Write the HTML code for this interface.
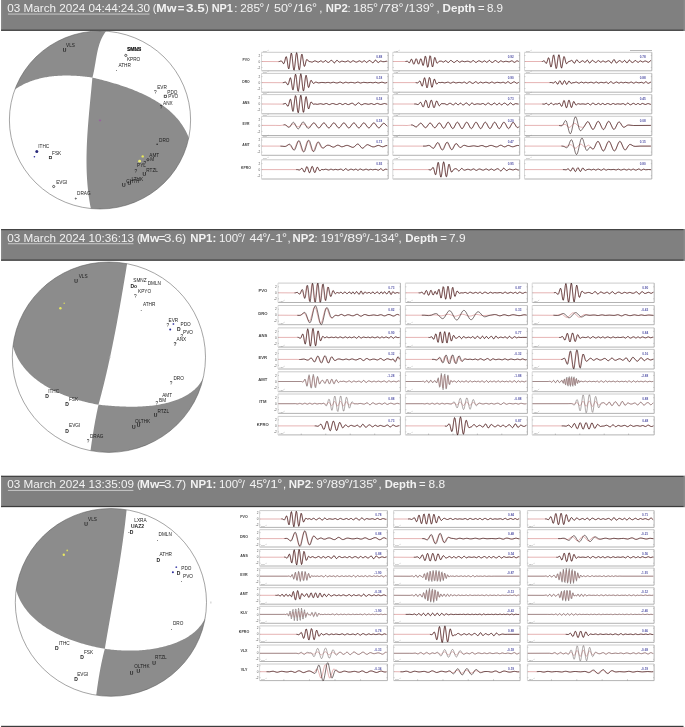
<!DOCTYPE html>
<html><head><meta charset="utf-8"><style>
html,body{margin:0;padding:0;background:#fff;width:685px;height:727px;overflow:hidden}
svg{display:block}
text{font-family:"Liberation Sans", Arial, sans-serif}
</style></head><body>
<svg width="685" height="727" viewBox="0 0 685 727">
<rect x="1.1" y="-1" width="683.9" height="31.8" fill="#808080"/>
<rect x="1.1" y="-1" width="1.3" height="31.8" fill="#8a8a8a"/>
<rect x="683.5" y="-1" width="1.5" height="31.8" fill="#8a8a8a"/>
<rect x="1.1" y="29.6" width="682.4" height="1.2" fill="#3c3c3c"/>
<text x="7.3" y="12" font-size="11.3" textLength="142.8" lengthAdjust="spacingAndGlyphs" fill="#f2f2f2">03 March 2024 04:44:24.30</text>
<text x="152.8" y="12" font-size="11.3" fill="#f2f2f2">(</text>
<text x="156.2" y="12" font-size="11.3" font-weight="bold" textLength="20.2" lengthAdjust="spacingAndGlyphs" fill="#f2f2f2">Mw</text>
<text x="177.8" y="12" font-size="11.3" font-weight="bold" fill="#f2f2f2">=</text>
<text x="186.1" y="12" font-size="11.3" font-weight="bold" textLength="18.7" lengthAdjust="spacingAndGlyphs" fill="#f2f2f2">3.5</text>
<text x="205.1" y="12" font-size="11.3" fill="#f2f2f2">)</text>
<text x="211.7" y="12" font-size="11.3" font-weight="bold" textLength="21.2" lengthAdjust="spacingAndGlyphs" fill="#f2f2f2">NP1</text>
<text x="234.3" y="12" font-size="11.3" fill="#f2f2f2">:</text>
<text x="240.3" y="12" font-size="11.3" textLength="19.7" lengthAdjust="spacingAndGlyphs" fill="#f2f2f2">285</text>
<text x="259.3" y="12" font-size="12.5" fill="#f2f2f2">°</text>
<text x="266" y="12" font-size="11.3" fill="#f2f2f2">/</text>
<text x="273.9" y="12" font-size="11.3" textLength="14.1" lengthAdjust="spacingAndGlyphs" fill="#f2f2f2">50</text>
<text x="287.4" y="12" font-size="12.5" fill="#f2f2f2">°</text>
<text x="293.8" y="12" font-size="11.3" textLength="18.7" lengthAdjust="spacingAndGlyphs" fill="#f2f2f2">/16</text>
<text x="311.9" y="12" font-size="12.5" fill="#f2f2f2">°</text>
<text x="319.3" y="12" font-size="11.3" fill="#f2f2f2">,</text>
<text x="325.8" y="12" font-size="11.3" font-weight="bold" textLength="22" lengthAdjust="spacingAndGlyphs" fill="#f2f2f2">NP2</text>
<text x="347.6" y="12" font-size="11.3" fill="#f2f2f2">:</text>
<text x="353.2" y="12" font-size="11.3" textLength="20.2" lengthAdjust="spacingAndGlyphs" fill="#f2f2f2">185</text>
<text x="372.9" y="12" font-size="12.5" fill="#f2f2f2">°</text>
<text x="379.4" y="12" font-size="11.3" textLength="19.5" lengthAdjust="spacingAndGlyphs" fill="#f2f2f2">/78</text>
<text x="398.4" y="12" font-size="12.5" fill="#f2f2f2">°</text>
<text x="405.1" y="12" font-size="11.3" textLength="24.6" lengthAdjust="spacingAndGlyphs" fill="#f2f2f2">/139</text>
<text x="429.2" y="12" font-size="12.5" fill="#f2f2f2">°</text>
<text x="436.5" y="12" font-size="11.3" fill="#f2f2f2">,</text>
<text x="442.6" y="12" font-size="11.3" font-weight="bold" textLength="32.8" lengthAdjust="spacingAndGlyphs" fill="#f2f2f2">Depth</text>
<text x="478.1" y="12" font-size="11.3" fill="#f2f2f2">=</text>
<text x="486.9" y="12" font-size="11.3" textLength="16.2" lengthAdjust="spacingAndGlyphs" fill="#f2f2f2">8.9</text>
<rect x="7.9" y="13.6" width="141.6" height="0.9" fill="#d0d0d0"/>
<rect x="1.1" y="229.1" width="683.9" height="31.6" fill="#808080"/>
<rect x="1.1" y="229.1" width="1.3" height="31.6" fill="#8a8a8a"/>
<rect x="683.5" y="229.1" width="1.5" height="31.6" fill="#8a8a8a"/>
<rect x="1.1" y="259.5" width="682.4" height="1.2" fill="#3c3c3c"/>
<rect x="1.1" y="229.1" width="682.4" height="1.1" fill="#3c3c3c"/>
<text x="7.3" y="241.9" font-size="11.3" textLength="126.7" lengthAdjust="spacingAndGlyphs" fill="#f2f2f2">03 March 2024 10:36:13</text>
<text x="136.9" y="241.9" font-size="11.3" fill="#f2f2f2">(</text>
<text x="139.8" y="241.9" font-size="11.3" font-weight="bold" textLength="19.5" lengthAdjust="spacingAndGlyphs" fill="#f2f2f2">Mw</text>
<text x="158.8" y="241.9" font-size="11.3" fill="#f2f2f2">=</text>
<text x="163.9" y="241.9" font-size="11.3" textLength="18.7" lengthAdjust="spacingAndGlyphs" fill="#f2f2f2">3.6</text>
<text x="182.2" y="241.9" font-size="11.3" fill="#f2f2f2">)</text>
<text x="190.2" y="241.9" font-size="11.3" font-weight="bold" textLength="26" lengthAdjust="spacingAndGlyphs" fill="#f2f2f2">NP1:</text>
<text x="218.9" y="241.9" font-size="11.3" textLength="19.4" lengthAdjust="spacingAndGlyphs" fill="#f2f2f2">100</text>
<text x="237.4" y="241.9" font-size="12.5" fill="#f2f2f2">°</text>
<text x="241.8" y="241.9" font-size="11.3" fill="#f2f2f2">/</text>
<text x="249.5" y="241.9" font-size="11.3" textLength="13.7" lengthAdjust="spacingAndGlyphs" fill="#f2f2f2">44</text>
<text x="262.2" y="241.9" font-size="12.5" fill="#f2f2f2">°</text>
<text x="266.3" y="241.9" font-size="11.3" textLength="16.6" lengthAdjust="spacingAndGlyphs" fill="#f2f2f2">/-1</text>
<text x="282" y="241.9" font-size="12.5" fill="#f2f2f2">°</text>
<text x="287.5" y="241.9" font-size="11.3" fill="#f2f2f2">,</text>
<text x="292.6" y="241.9" font-size="11.3" font-weight="bold" textLength="22.1" lengthAdjust="spacingAndGlyphs" fill="#f2f2f2">NP2</text>
<text x="314.5" y="241.9" font-size="11.3" fill="#f2f2f2">:</text>
<text x="320.8" y="241.9" font-size="11.3" textLength="19.4" lengthAdjust="spacingAndGlyphs" fill="#f2f2f2">191</text>
<text x="339" y="241.9" font-size="12.5" fill="#f2f2f2">°</text>
<text x="343.4" y="241.9" font-size="11.3" textLength="19.5" lengthAdjust="spacingAndGlyphs" fill="#f2f2f2">/89</text>
<text x="362" y="241.9" font-size="12.5" fill="#f2f2f2">°</text>
<text x="366.3" y="241.9" font-size="11.3" textLength="28.4" lengthAdjust="spacingAndGlyphs" fill="#f2f2f2">/-134</text>
<text x="393.9" y="241.9" font-size="12.5" fill="#f2f2f2">°</text>
<text x="398.6" y="241.9" font-size="11.3" fill="#f2f2f2">,</text>
<text x="405.2" y="241.9" font-size="11.3" font-weight="bold" textLength="32.6" lengthAdjust="spacingAndGlyphs" fill="#f2f2f2">Depth</text>
<text x="440.2" y="241.9" font-size="11.3" fill="#f2f2f2">=</text>
<text x="449" y="241.9" font-size="11.3" textLength="16.5" lengthAdjust="spacingAndGlyphs" fill="#f2f2f2">7.9</text>
<rect x="7.9" y="243.3" width="125.5" height="0.9" fill="#d0d0d0"/>
<rect x="1.1" y="475.8" width="683.9" height="31.3" fill="#808080"/>
<rect x="1.1" y="475.8" width="1.3" height="31.3" fill="#8a8a8a"/>
<rect x="683.5" y="475.8" width="1.5" height="31.3" fill="#8a8a8a"/>
<rect x="1.1" y="505.9" width="682.4" height="1.2" fill="#3c3c3c"/>
<rect x="1.1" y="475.8" width="682.4" height="1.1" fill="#3c3c3c"/>
<text x="7.3" y="488.4" font-size="11.3" textLength="126.7" lengthAdjust="spacingAndGlyphs" fill="#f2f2f2">03 March 2024 13:35:09</text>
<text x="136.9" y="488.4" font-size="11.3" fill="#f2f2f2">(</text>
<text x="139.8" y="488.4" font-size="11.3" font-weight="bold" textLength="19.5" lengthAdjust="spacingAndGlyphs" fill="#f2f2f2">Mw</text>
<text x="158.8" y="488.4" font-size="11.3" fill="#f2f2f2">=</text>
<text x="163.9" y="488.4" font-size="11.3" textLength="18.7" lengthAdjust="spacingAndGlyphs" fill="#f2f2f2">3.7</text>
<text x="182.2" y="488.4" font-size="11.3" fill="#f2f2f2">)</text>
<text x="190.2" y="488.4" font-size="11.3" font-weight="bold" textLength="26" lengthAdjust="spacingAndGlyphs" fill="#f2f2f2">NP1:</text>
<text x="218.9" y="488.4" font-size="11.3" textLength="19.4" lengthAdjust="spacingAndGlyphs" fill="#f2f2f2">100</text>
<text x="237.4" y="488.4" font-size="12.5" fill="#f2f2f2">°</text>
<text x="241.8" y="488.4" font-size="11.3" fill="#f2f2f2">/</text>
<text x="249.5" y="488.4" font-size="11.3" textLength="13.7" lengthAdjust="spacingAndGlyphs" fill="#f2f2f2">45</text>
<text x="262.2" y="488.4" font-size="12.5" fill="#f2f2f2">°</text>
<text x="266.3" y="488.4" font-size="11.3" textLength="11.5" lengthAdjust="spacingAndGlyphs" fill="#f2f2f2">/1</text>
<text x="277.3" y="488.4" font-size="12.5" fill="#f2f2f2">°</text>
<text x="283.1" y="488.4" font-size="11.3" fill="#f2f2f2">,</text>
<text x="288.8" y="488.4" font-size="11.3" font-weight="bold" textLength="22.3" lengthAdjust="spacingAndGlyphs" fill="#f2f2f2">NP2</text>
<text x="310.7" y="488.4" font-size="11.3" fill="#f2f2f2">:</text>
<text x="316.5" y="488.4" font-size="11.3" fill="#f2f2f2">9</text>
<text x="322.6" y="488.4" font-size="12.5" fill="#f2f2f2">°</text>
<text x="327" y="488.4" font-size="11.3" textLength="18.5" lengthAdjust="spacingAndGlyphs" fill="#f2f2f2">/89</text>
<text x="344.5" y="488.4" font-size="12.5" fill="#f2f2f2">°</text>
<text x="348.9" y="488.4" font-size="11.3" textLength="24.3" lengthAdjust="spacingAndGlyphs" fill="#f2f2f2">/135</text>
<text x="372.3" y="488.4" font-size="12.5" fill="#f2f2f2">°</text>
<text x="378.6" y="488.4" font-size="11.3" fill="#f2f2f2">,</text>
<text x="384.7" y="488.4" font-size="11.3" font-weight="bold" textLength="31.9" lengthAdjust="spacingAndGlyphs" fill="#f2f2f2">Depth</text>
<text x="419" y="488.4" font-size="11.3" fill="#f2f2f2">=</text>
<text x="428.5" y="488.4" font-size="11.3" textLength="16.6" lengthAdjust="spacingAndGlyphs" fill="#f2f2f2">8.8</text>
<rect x="7.9" y="489.9" width="125.5" height="0.9" fill="#d0d0d0"/>
<rect x="1.1" y="725.8" width="682.4" height="1.3" fill="#3c3c3c"/>
<clipPath id="cb0"><ellipse cx="100" cy="120" rx="90.6" ry="89.0"/></clipPath>
<ellipse cx="100" cy="120" rx="90.6" ry="89.0" fill="#fff"/>
<path d="M92.4,77.6 91.25,77.43 90.1,77.27 88.94,77.12 87.78,76.97 86.62,76.83 85.45,76.69 84.28,76.56 83.11,76.44 81.93,76.33 80.76,76.22 79.57,76.12 78.39,76.02 77.21,75.94 76.02,75.86 74.83,75.79 73.64,75.73 72.45,75.68 71.26,75.64 70.07,75.6 68.87,75.58 67.68,75.57 66.49,75.56 65.29,75.56 64.1,75.58 62.91,75.6 61.72,75.64 60.53,75.69 59.34,75.74 58.15,75.81 56.96,75.89 55.77,75.98 54.59,76.09 53.41,76.2 52.23,76.33 51.06,76.47 49.88,76.62 48.71,76.79 47.55,76.97 46.38,77.16 45.22,77.36 44.07,77.58 42.91,77.81 41.77,78.06 40.62,78.32 39.48,78.6 38.35,78.89 37.22,79.19 36.1,79.51 34.98,79.85 33.87,80.2 32.76,80.56 31.66,80.95 30.56,81.34 29.48,81.76 28.39,82.19 27.32,82.64 26.25,83.1 25.19,83.58 24.14,84.08 23.1,84.6 22.06,85.14 21.03,85.69 20.01,86.26 19,86.85 18,87.46 17.01,88.08 16.02,88.73 15.05,89.39 14.08,90.08 13.13,90.78 12.18,91.51 11.25,92.25 10.32,93.01 9.41,93.8 8.5,94.6 7.61,95.43 6.73,96.28 5.86,97.14 5,98.03 -10,98 -10,15 113,15 113,24.98 112.35,25.41 111.72,25.86 111.11,26.31 110.51,26.78 109.94,27.26 109.37,27.75 108.83,28.25 108.3,28.76 107.79,29.28 107.29,29.81 106.81,30.36 106.34,30.91 105.89,31.47 105.45,32.04 105.02,32.62 104.61,33.2 104.21,33.8 103.82,34.4 103.45,35.01 103.09,35.63 102.74,36.26 102.4,36.9 102.07,37.54 101.76,38.19 101.45,38.84 101.16,39.5 100.88,40.17 100.6,40.84 100.34,41.52 100.08,42.21 99.83,42.9 99.6,43.59 99.37,44.29 99.14,44.99 98.93,45.7 98.72,46.42 98.52,47.13 98.33,47.85 98.14,48.57 97.96,49.3 97.79,50.03 97.62,50.76 97.45,51.5 97.3,52.23 97.14,52.97 96.99,53.71 96.84,54.45 96.7,55.2 96.56,55.94 96.42,56.69 96.29,57.43 96.16,58.18 96.03,58.92 95.9,59.67 95.78,60.41 95.65,61.16 95.53,61.9 95.41,62.65 95.28,63.39 95.16,64.13 95.04,64.87 94.91,65.6 94.79,66.34 94.66,67.07 94.53,67.8 94.4,68.53 94.27,69.25 94.13,69.97 94,70.68 93.86,71.4 93.71,72.11 93.57,72.81 93.41,73.51 93.26,74.2 93.1,74.89 92.93,75.58 92.76,76.26 92.58,76.93 92.4,77.6ZM92.4,77.6 93.91,77.96 95.43,78.33 96.96,78.7 98.5,79.08 100.05,79.47 101.61,79.87 103.17,80.28 104.75,80.69 106.33,81.12 107.92,81.55 109.51,81.99 111.11,82.45 112.71,82.91 114.31,83.39 115.92,83.87 117.53,84.37 119.14,84.87 120.75,85.39 122.36,85.92 123.97,86.47 125.58,87.02 127.19,87.59 128.79,88.17 130.39,88.77 131.98,89.37 133.57,90 135.16,90.63 136.73,91.28 138.3,91.95 139.87,92.63 141.42,93.32 142.96,94.03 144.5,94.76 146.02,95.5 147.53,96.26 149.03,97.04 150.52,97.83 151.99,98.64 153.45,99.47 154.9,100.31 156.32,101.17 157.74,102.06 159.13,102.95 160.51,103.87 161.87,104.81 163.21,105.77 164.53,106.74 165.82,107.74 167.1,108.76 168.36,109.8 169.59,110.85 170.8,111.93 171.99,113.03 173.15,114.16 174.28,115.3 175.39,116.47 176.47,117.66 177.53,118.87 178.55,120.1 179.55,121.36 180.51,122.64 181.45,123.95 182.36,125.28 183.23,126.63 184.07,128.01 184.88,129.41 185.65,130.84 186.39,132.3 187.09,133.78 187.76,135.28 188.39,136.81 188.99,138.37 189.54,139.96 190.06,141.57 190.53,143.21 190.97,144.88 191.37,146.58 191.72,148.3 192.03,150.06 200,150 200,230 92.5,230 92.5,216 92.08,214.28 91.69,212.56 91.31,210.83 90.95,209.1 90.61,207.37 90.28,205.64 89.96,203.91 89.67,202.17 89.38,200.43 89.12,198.7 88.86,196.96 88.62,195.22 88.4,193.48 88.19,191.73 87.99,189.99 87.81,188.24 87.64,186.5 87.48,184.75 87.34,183 87.21,181.25 87.09,179.5 86.98,177.75 86.88,176 86.8,174.24 86.73,172.49 86.66,170.73 86.61,168.98 86.57,167.22 86.54,165.46 86.52,163.7 86.51,161.95 86.5,160.19 86.51,158.43 86.53,156.67 86.55,154.91 86.59,153.14 86.63,151.38 86.68,149.62 86.73,147.86 86.8,146.1 86.87,144.33 86.95,142.57 87.03,140.81 87.12,139.05 87.22,137.28 87.32,135.52 87.43,133.76 87.55,131.99 87.67,130.23 87.79,128.47 87.92,126.71 88.05,124.95 88.19,123.18 88.33,121.42 88.48,119.66 88.63,117.9 88.78,116.14 88.93,114.38 89.09,112.62 89.25,110.86 89.41,109.1 89.58,107.35 89.74,105.59 89.91,103.83 90.08,102.08 90.24,100.32 90.41,98.57 90.58,96.81 90.75,95.06 90.92,93.31 91.09,91.56 91.26,89.81 91.43,88.06 91.59,86.32 91.76,84.57 91.92,82.83 92.08,81.08 92.24,79.34 92.4,77.6Z" fill="#8c8c8c" clip-path="url(#cb0)"/>
<ellipse cx="100" cy="120" rx="90.6" ry="89.0" fill="none" stroke="#5a5a5a" stroke-width="0.55"/>
<clipPath id="cb1"><ellipse cx="108.9" cy="357.2" rx="96.6" ry="95.2"/></clipPath>
<ellipse cx="108.9" cy="357.2" rx="96.6" ry="95.2" fill="#fff"/>
<path d="M98.5,404.7 97.08,404.44 95.65,404.18 94.22,403.9 92.78,403.61 91.34,403.3 89.89,402.98 88.43,402.65 86.98,402.31 85.51,401.95 84.05,401.58 82.58,401.19 81.11,400.8 79.64,400.38 78.17,399.96 76.7,399.52 75.23,399.06 73.76,398.59 72.29,398.11 70.83,397.61 69.37,397.1 67.91,396.57 66.46,396.03 65.01,395.47 63.57,394.89 62.13,394.3 60.7,393.7 59.28,393.08 57.87,392.44 56.46,391.79 55.07,391.12 53.68,390.44 52.31,389.74 50.94,389.02 49.59,388.29 48.25,387.54 46.93,386.77 45.61,385.98 44.32,385.18 43.03,384.36 41.77,383.53 40.51,382.67 39.28,381.8 38.06,380.91 36.86,380 35.68,379.08 34.52,378.14 33.38,377.17 32.26,376.19 31.16,375.19 30.08,374.18 29.02,373.14 27.99,372.09 26.98,371.01 25.99,369.92 25.03,368.81 24.09,367.67 23.18,366.52 22.3,365.35 21.44,364.16 20.62,362.95 19.82,361.71 19.05,360.46 18.31,359.19 17.59,357.9 16.91,356.58 16.27,355.25 15.65,353.89 15.07,352.52 14.52,351.12 14,349.7 13.52,348.26 13.07,346.8 12.66,345.32 12.29,343.81 11.95,342.29 11.65,340.74 11.39,339.17 11.17,337.57 10.98,335.96 0,336 0,250 129,250 129.01,252 128.69,253.95 128.38,255.89 128.06,257.83 127.74,259.78 127.42,261.72 127.11,263.67 126.79,265.61 126.47,267.56 126.15,269.5 125.83,271.45 125.51,273.39 125.18,275.34 124.86,277.29 124.54,279.23 124.21,281.18 123.89,283.12 123.56,285.07 123.23,287.01 122.9,288.96 122.57,290.9 122.24,292.85 121.91,294.79 121.57,296.74 121.24,298.68 120.9,300.63 120.56,302.57 120.22,304.52 119.88,306.46 119.53,308.4 119.18,310.35 118.84,312.29 118.48,314.23 118.13,316.17 117.78,318.11 117.42,320.06 117.06,322 116.7,323.94 116.33,325.88 115.97,327.82 115.6,329.75 115.23,331.69 114.85,333.63 114.47,335.57 114.09,337.5 113.71,339.44 113.32,341.37 112.93,343.31 112.54,345.24 112.15,347.17 111.75,349.11 111.35,351.04 110.94,352.97 110.53,354.9 110.12,356.83 109.7,358.75 109.28,360.68 108.86,362.61 108.44,364.53 108.01,366.45 107.57,368.38 107.13,370.3 106.69,372.22 106.24,374.14 105.79,376.06 105.34,377.98 104.88,379.89 104.42,381.81 103.95,383.72 103.48,385.64 103,387.55 102.52,389.46 102.04,391.37 101.55,393.28 101.05,395.19 100.55,397.09 100.05,399 99.54,400.9 99.02,402.8 98.5,404.7ZM98.51,404.7 99.98,404.85 101.46,405 102.96,405.14 104.48,405.29 106,405.42 107.54,405.56 109.1,405.69 110.66,405.81 112.24,405.93 113.82,406.04 115.42,406.15 117.02,406.24 118.64,406.33 120.26,406.41 121.89,406.49 123.52,406.55 125.17,406.6 126.81,406.64 128.46,406.67 130.12,406.69 131.78,406.7 133.44,406.69 135.1,406.68 136.77,406.64 138.44,406.59 140.1,406.53 141.77,406.45 143.44,406.36 145.1,406.25 146.76,406.12 148.42,405.98 150.08,405.81 151.73,405.63 153.38,405.43 155.02,405.21 156.65,404.97 158.28,404.71 159.9,404.42 161.52,404.12 163.12,403.79 164.72,403.44 166.31,403.07 167.88,402.67 169.45,402.24 171,401.8 172.54,401.32 174.07,400.82 175.58,400.29 177.08,399.74 178.57,399.16 180.03,398.54 181.48,397.9 182.9,397.23 184.3,396.52 185.67,395.79 187.02,395.01 188.34,394.21 189.63,393.37 190.88,392.49 192.1,391.57 193.29,390.62 194.44,389.63 195.55,388.6 196.62,387.53 197.64,386.41 198.63,385.26 199.56,384.06 200.45,382.82 201.29,381.53 202.08,380.19 202.81,378.81 203.49,377.39 204.12,375.91 204.68,374.38 205.19,372.81 205.63,371.18 206.01,369.5 206.33,367.77 206.58,365.99 215,366 215,465 89,465 89,462 89.09,461.27 89.19,460.54 89.28,459.81 89.37,459.08 89.47,458.35 89.56,457.62 89.66,456.89 89.75,456.17 89.85,455.44 89.95,454.71 90.04,453.98 90.14,453.25 90.24,452.52 90.34,451.79 90.44,451.06 90.54,450.33 90.64,449.6 90.74,448.88 90.84,448.15 90.94,447.42 91.04,446.69 91.15,445.96 91.25,445.23 91.36,444.51 91.46,443.78 91.57,443.05 91.67,442.32 91.78,441.6 91.89,440.87 92,440.14 92.11,439.41 92.22,438.69 92.33,437.96 92.44,437.23 92.55,436.51 92.67,435.78 92.78,435.05 92.9,434.33 93.01,433.6 93.13,432.87 93.25,432.15 93.36,431.42 93.48,430.7 93.6,429.97 93.73,429.25 93.85,428.52 93.97,427.8 94.1,427.07 94.22,426.35 94.35,425.62 94.47,424.9 94.6,424.17 94.73,423.45 94.86,422.73 94.99,422 95.13,421.28 95.26,420.56 95.39,419.83 95.53,419.11 95.67,418.39 95.81,417.66 95.94,416.94 96.08,416.22 96.23,415.5 96.37,414.78 96.51,414.06 96.66,413.33 96.8,412.61 96.95,411.89 97.1,411.17 97.25,410.45 97.4,409.73 97.56,409.01 97.71,408.29 97.86,407.57 98.02,406.86 98.18,406.14 98.34,405.42 98.5,404.7Z" fill="#8c8c8c" clip-path="url(#cb1)"/>
<ellipse cx="108.9" cy="357.2" rx="96.6" ry="95.2" fill="none" stroke="#5a5a5a" stroke-width="0.55"/>
<clipPath id="cb2"><ellipse cx="110.9" cy="602.4" rx="95.6" ry="93.9"/></clipPath>
<ellipse cx="110.9" cy="602.4" rx="95.6" ry="93.9" fill="#fff"/>
<path d="M104.79,648.8 103.39,648.55 101.98,648.29 100.57,648.02 99.14,647.74 97.71,647.45 96.27,647.14 94.82,646.83 93.37,646.5 91.92,646.16 90.46,645.8 89,645.44 87.53,645.06 86.07,644.67 84.6,644.27 83.13,643.85 81.66,643.42 80.19,642.98 78.72,642.52 77.25,642.05 75.78,641.57 74.32,641.07 72.86,640.56 71.4,640.03 69.95,639.49 68.5,638.93 67.06,638.36 65.63,637.78 64.2,637.18 62.78,636.56 61.36,635.93 59.96,635.28 58.57,634.62 57.18,633.94 55.8,633.25 54.44,632.54 53.09,631.81 51.75,631.07 50.42,630.31 49.11,629.53 47.81,628.74 46.52,627.93 45.25,627.1 44,626.26 42.76,625.4 41.54,624.52 40.33,623.62 39.15,622.7 37.98,621.77 36.83,620.82 35.71,619.85 34.6,618.86 33.52,617.85 32.45,616.82 31.41,615.78 30.39,614.71 29.4,613.63 28.43,612.52 27.49,611.4 26.57,610.26 25.67,609.09 24.8,607.91 23.96,606.71 23.15,605.48 22.37,604.24 21.61,602.97 20.89,601.69 20.2,600.38 19.53,599.05 18.9,597.7 18.3,596.33 17.73,594.93 17.2,593.52 16.7,592.08 16.23,590.62 15.8,589.14 15.4,587.64 15.05,586.11 14.72,584.56 14.44,582.99 0,583 0,500 127.5,500 127.48,500 127.32,501.9 127.15,503.8 126.97,505.69 126.8,507.59 126.61,509.49 126.42,511.38 126.23,513.28 126.03,515.18 125.82,517.07 125.61,518.96 125.4,520.86 125.18,522.75 124.95,524.64 124.72,526.53 124.49,528.42 124.25,530.31 124.01,532.2 123.76,534.09 123.51,535.98 123.26,537.87 123,539.76 122.74,541.65 122.47,543.53 122.2,545.42 121.93,547.31 121.65,549.19 121.38,551.08 121.09,552.96 120.81,554.85 120.52,556.73 120.23,558.62 119.93,560.5 119.64,562.38 119.34,564.26 119.03,566.15 118.73,568.03 118.42,569.91 118.12,571.79 117.8,573.67 117.49,575.55 117.18,577.43 116.86,579.31 116.54,581.2 116.22,583.07 115.9,584.95 115.58,586.83 115.26,588.71 114.93,590.59 114.6,592.47 114.28,594.35 113.95,596.23 113.62,598.11 113.29,599.98 112.96,601.86 112.63,603.74 112.3,605.62 111.97,607.5 111.64,609.37 111.3,611.25 110.97,613.13 110.64,615.01 110.31,616.88 109.98,618.76 109.65,620.64 109.32,622.52 108.99,624.39 108.66,626.27 108.33,628.15 108,630.02 107.68,631.9 107.35,633.78 107.03,635.66 106.71,637.53 106.38,639.41 106.07,641.29 105.75,643.17 105.43,645.04 105.12,646.92 104.8,648.8ZM104.8,648.8 106.19,649 107.58,649.18 108.98,649.36 110.39,649.53 111.82,649.68 113.25,649.82 114.68,649.96 116.13,650.08 117.58,650.19 119.04,650.29 120.51,650.37 121.98,650.45 123.46,650.51 124.95,650.56 126.43,650.59 127.93,650.61 129.42,650.62 130.92,650.62 132.43,650.6 133.93,650.56 135.44,650.52 136.95,650.45 138.46,650.38 139.97,650.29 141.49,650.18 143,650.05 144.51,649.92 146.02,649.76 147.53,649.59 149.04,649.4 150.55,649.2 152.05,648.98 153.55,648.74 155.04,648.48 156.54,648.21 158.02,647.92 159.51,647.61 160.99,647.28 162.46,646.93 163.92,646.57 165.38,646.18 166.84,645.78 168.28,645.36 169.72,644.91 171.15,644.45 172.57,643.97 173.98,643.46 175.38,642.94 176.76,642.39 178.14,641.82 179.5,641.23 180.84,640.62 182.17,639.98 183.48,639.31 184.77,638.63 186.05,637.91 187.3,637.17 188.53,636.4 189.73,635.61 190.91,634.78 192.07,633.93 193.19,633.05 194.29,632.14 195.36,631.2 196.4,630.22 197.41,629.22 198.39,628.19 199.33,627.12 200.24,626.02 201.11,624.88 201.94,623.71 202.74,622.51 203.49,621.27 204.21,619.99 204.88,618.68 205.51,617.33 206.09,615.94 206.63,614.52 207.13,613.05 215,613 215,705 95,705 95,705 95.09,704.28 95.17,703.57 95.26,702.85 95.35,702.13 95.44,701.41 95.53,700.7 95.62,699.98 95.71,699.26 95.8,698.55 95.89,697.83 95.98,697.11 96.07,696.4 96.16,695.68 96.26,694.96 96.35,694.24 96.45,693.53 96.54,692.81 96.64,692.1 96.73,691.38 96.83,690.66 96.93,689.95 97.03,689.23 97.13,688.52 97.23,687.8 97.33,687.08 97.44,686.37 97.54,685.65 97.64,684.94 97.75,684.22 97.86,683.51 97.96,682.79 98.07,682.08 98.18,681.36 98.29,680.65 98.41,679.94 98.52,679.22 98.63,678.51 98.75,677.8 98.87,677.08 98.98,676.37 99.1,675.66 99.22,674.94 99.35,674.23 99.47,673.52 99.59,672.81 99.72,672.1 99.85,671.39 99.98,670.68 100.11,669.96 100.24,669.25 100.37,668.54 100.51,667.83 100.64,667.12 100.78,666.42 100.92,665.71 101.06,665 101.2,664.29 101.35,663.58 101.49,662.87 101.64,662.17 101.79,661.46 101.94,660.75 102.09,660.05 102.25,659.34 102.41,658.64 102.56,657.93 102.72,657.23 102.89,656.52 103.05,655.82 103.22,655.11 103.38,654.41 103.55,653.71 103.73,653.01 103.9,652.3 104.08,651.6 104.25,650.9 104.43,650.2 104.62,649.5 104.8,648.8Z" fill="#8c8c8c" clip-path="url(#cb2)"/>
<ellipse cx="110.9" cy="602.4" rx="95.6" ry="93.9" fill="none" stroke="#5a5a5a" stroke-width="0.55"/>
<text x="66" y="46.9" font-size="4.7" fill="#1c1c1c">VLS</text>
<text x="62.8" y="51.9" font-size="5" font-weight="bold" fill="#222">U</text>
<text x="126.9" y="51.4" font-size="5" font-weight="bold" fill="#222">SMNS</text>
<text x="127.5" y="50.6" font-size="4.7" fill="#1c1c1c">DMLN</text>
<circle cx="125.8" cy="55.4" r="1.1" fill="none" stroke="#222" stroke-width="0.7"/>
<text x="126.9" y="60.6" font-size="4.7" fill="#1c1c1c">KPRO</text>
<text x="118.4" y="67.2" font-size="4.7" fill="#1c1c1c">ATHR</text>
<text x="115.8" y="71" font-size="5" font-weight="bold" fill="#222">.</text>
<text x="157.2" y="89.1" font-size="4.7" fill="#1c1c1c">EVR</text>
<text x="154" y="93.6" font-size="4.7" fill="#1c1c1c">?</text>
<text x="167.3" y="93.7" font-size="4.7" fill="#1c1c1c">PDO</text>
<rect x="164.2" y="95.2" width="2.2" height="2.2" fill="none" stroke="#222" stroke-width="0.7"/>
<text x="168.3" y="98.1" font-size="4.7" fill="#1c1c1c">PVO</text>
<text x="163.1" y="105.3" font-size="4.7" fill="#1c1c1c">ANX</text>
<text x="159.8" y="109.4" font-size="4.7" fill="#1c1c1c">?</text>
<text x="159" y="141.8" font-size="4.7" fill="#1c1c1c">DRO</text>
<text x="156.2" y="146" font-size="5" font-weight="bold" fill="#222">•</text>
<text x="149.3" y="157.1" font-size="4.7" fill="#1c1c1c">AMT</text>
<circle cx="147.9" cy="159.7" r="1.1" fill="none" stroke="#222" stroke-width="0.7"/>
<text x="150.2" y="161.2" font-size="4.7" fill="#1c1c1c">M</text>
<text x="143.4" y="164.6" font-size="4.7" fill="#1c1c1c">?</text>
<text x="137" y="167.3" font-size="4.7" fill="#1c1c1c">PYL</text>
<text x="134.6" y="172.5" font-size="4.7" fill="#1c1c1c">?</text>
<text x="146.3" y="171.9" font-size="4.7" fill="#1c1c1c">RTZL</text>
<text x="142.4" y="175.6" font-size="5" font-weight="bold" fill="#222">U</text>
<text x="131.5" y="180.6" font-size="4.7" fill="#1c1c1c">LTHK</text>
<text x="126.3" y="182.6" font-size="4.7" fill="#1c1c1c">CHTH</text>
<text x="127.6" y="184.8" font-size="5" font-weight="bold" fill="#222">U</text>
<text x="122" y="187.3" font-size="5" font-weight="bold" fill="#222">U</text>
<text x="38.3" y="148.3" font-size="4.7" fill="#1c1c1c">ITHC</text>
<text x="52.1" y="154.9" font-size="4.7" fill="#1c1c1c">FSK</text>
<rect x="49.3" y="156.5" width="2.2" height="2.2" fill="none" stroke="#222" stroke-width="0.7"/>
<text x="56.2" y="183.5" font-size="4.7" fill="#1c1c1c">EVGI</text>
<circle cx="53.7" cy="186.5" r="1.1" fill="none" stroke="#222" stroke-width="0.7"/>
<text x="77.1" y="194.8" font-size="4.7" fill="#1c1c1c">DRAG</text>
<text x="74.4" y="199.6" font-size="4.7" fill="#1c1c1c">+</text>
<text x="78.7" y="278.3" font-size="4.7" fill="#1c1c1c">VLS</text>
<text x="74.2" y="283" font-size="5" font-weight="bold" fill="#222">U</text>
<text x="133.3" y="281.5" font-size="4.7" fill="#1c1c1c">SMNZ</text>
<text x="147.7" y="285.4" font-size="4.7" fill="#1c1c1c">DMLN</text>
<text x="130.4" y="288.2" font-size="5" font-weight="bold" fill="#222">Do</text>
<text x="138" y="292.5" font-size="4.7" fill="#1c1c1c">KPYO</text>
<text x="133.9" y="297.8" font-size="4.7" fill="#1c1c1c">?</text>
<text x="142.9" y="306.3" font-size="4.7" fill="#1c1c1c">ATHR</text>
<text x="140.6" y="310.6" font-size="5" font-weight="bold" fill="#222">.</text>
<text x="168.6" y="322.3" font-size="4.7" fill="#1c1c1c">EVR</text>
<text x="166.6" y="327.3" font-size="4.7" fill="#1c1c1c">?</text>
<text x="180.5" y="325.5" font-size="4.7" fill="#1c1c1c">PDO</text>
<text x="177" y="330.6" font-size="5" font-weight="bold" fill="#222">D</text>
<text x="183" y="333.6" font-size="4.7" fill="#1c1c1c">PVO</text>
<text x="180.4" y="337.6" font-size="4.7" fill="#1c1c1c">?</text>
<text x="176.6" y="340.6" font-size="4.7" fill="#1c1c1c">ANX</text>
<text x="173.4" y="346" font-size="5" font-weight="bold" fill="#222">?</text>
<text x="173.4" y="379.5" font-size="4.7" fill="#1c1c1c">DRO</text>
<text x="169.8" y="384.5" font-size="4.7" fill="#1c1c1c">?</text>
<text x="162.2" y="396.8" font-size="4.7" fill="#1c1c1c">AMT</text>
<text x="159" y="401.7" font-size="4.7" fill="#1c1c1c">BM</text>
<text x="155.4" y="405.4" font-size="4.7" fill="#1c1c1c">?</text>
<text x="157.4" y="413.2" font-size="4.7" fill="#1c1c1c">RTZL</text>
<text x="153.8" y="417.3" font-size="5" font-weight="bold" fill="#222">U</text>
<text x="134.9" y="422.5" font-size="4.7" fill="#1c1c1c">OLTHK</text>
<text x="136.8" y="426.9" font-size="5" font-weight="bold" fill="#222">U</text>
<text x="132" y="429.1" font-size="5" font-weight="bold" fill="#222">U</text>
<text x="48.2" y="393" font-size="4.7" fill="#1c1c1c">ITHC</text>
<text x="45.3" y="398" font-size="5" font-weight="bold" fill="#222">D</text>
<text x="69" y="401" font-size="4.7" fill="#1c1c1c">FSK</text>
<text x="65.2" y="406" font-size="5" font-weight="bold" fill="#222">D</text>
<text x="69" y="427.3" font-size="4.7" fill="#1c1c1c">EVGI</text>
<text x="65.2" y="432.7" font-size="5" font-weight="bold" fill="#222">D</text>
<text x="89.9" y="437.9" font-size="4.7" fill="#1c1c1c">DRAG</text>
<text x="86.7" y="443" font-size="4.7" fill="#1c1c1c">?</text>
<text x="88" y="521" font-size="4.7" fill="#1c1c1c">VLS</text>
<text x="84.3" y="526.2" font-size="5" font-weight="bold" fill="#222">U</text>
<text x="134.3" y="522.3" font-size="4.7" fill="#1c1c1c">LXRA</text>
<text x="131" y="528.4" font-size="5" font-weight="bold" fill="#222">UAZ2</text>
<text x="128" y="533.6" font-size="5" font-weight="bold" fill="#222">-D</text>
<text x="158.5" y="536.1" font-size="4.7" fill="#1c1c1c">DMLN</text>
<text x="156.7" y="541" font-size="5" font-weight="bold" fill="#222">.</text>
<text x="159.5" y="556.2" font-size="4.7" fill="#1c1c1c">ATHR</text>
<text x="156.5" y="561.5" font-size="5" font-weight="bold" fill="#222">D</text>
<text x="181.3" y="570.3" font-size="4.7" fill="#1c1c1c">PDO</text>
<text x="176.7" y="574.9" font-size="5" font-weight="bold" fill="#222">D</text>
<text x="183" y="578.1" font-size="4.7" fill="#1c1c1c">PVO</text>
<text x="180.8" y="582" font-size="5" font-weight="bold" fill="#222">.</text>
<text x="172.9" y="625.1" font-size="4.7" fill="#1c1c1c">DRO</text>
<text x="170.8" y="629.7" font-size="5" font-weight="bold" fill="#222">.</text>
<text x="58.8" y="645.2" font-size="4.7" fill="#1c1c1c">ITHC</text>
<text x="55.1" y="650.1" font-size="5" font-weight="bold" fill="#222">D</text>
<text x="84" y="654.3" font-size="4.7" fill="#1c1c1c">FSK</text>
<text x="80.3" y="658.9" font-size="5" font-weight="bold" fill="#222">D</text>
<text x="77.2" y="676.1" font-size="4.7" fill="#1c1c1c">EVGI</text>
<text x="74.3" y="681.4" font-size="5" font-weight="bold" fill="#222">D</text>
<text x="155.1" y="659.3" font-size="4.7" fill="#1c1c1c">RTZL</text>
<text x="152.2" y="664.6" font-size="5" font-weight="bold" fill="#222">U</text>
<text x="134.3" y="667.7" font-size="4.7" fill="#1c1c1c">OLTHK</text>
<text x="136.4" y="673" font-size="5" font-weight="bold" fill="#222">U</text>
<text x="129.7" y="674.6" font-size="5" font-weight="bold" fill="#222">U</text>
<circle cx="36.8" cy="151.4" r="1.5" fill="#2a2a7a"/>
<circle cx="34.4" cy="156.7" r="0.8" fill="#2a2a9a"/>
<circle cx="142.7" cy="156.4" r="1.2" fill="#e8e85a"/>
<circle cx="139.6" cy="161.2" r="1.4" fill="#f0f070"/>
<circle cx="60.4" cy="308.3" r="1.2" fill="#e8e860"/>
<circle cx="64.2" cy="303.2" r="0.8" fill="#d8d860"/>
<circle cx="170.2" cy="329.5" r="1" fill="#2a2a9a"/>
<circle cx="173.4" cy="324" r="0.9" fill="#5050b0"/>
<circle cx="63.8" cy="554.7" r="1.2" fill="#e8e860"/>
<circle cx="67.2" cy="550.4" r="0.9" fill="#d8d860"/>
<circle cx="172.9" cy="572.2" r="1" fill="#2a2a9a"/>
<circle cx="176.3" cy="567.2" r="0.9" fill="#5050b0"/>
<rect x="210.5" y="601.5" width="0.8" height="2" fill="#bbb"/>
<rect x="630" y="50" width="22" height="0.7" fill="#999"/>
<path d="M98.9,120.4h2.2M100,119.3v2.2" stroke="#a050a8" stroke-width="0.6"/>
<path d="M108.9,357.2h2M109.9,356.2v2" stroke="#b8b8b8" stroke-width="0.5"/>
<text x="246" y="61.32" font-size="3.4" font-weight="bold" fill="#444" text-anchor="middle">PVO</text>
<path d="M261.5,52.3H388.2" stroke="#b4b4b4" stroke-width="0.7"/>
<path d="M388.2,52.3V70.8M261.5,70.8H388.2" fill="none" stroke="#a0a0a0" stroke-width="0.8"/>
<path d="M261.5,52.3V70.8" stroke="#d8d8d8" stroke-width="1"/>
<path d="M261.5,55.5h1M261.5,61.5h1M261.5,67.5h1M388.2,55.5h-1M388.2,67.5h-1" stroke="#999" stroke-width="0.45"/>
<text x="260.3" y="56.6" font-size="3.1" fill="#555" text-anchor="end">2</text>
<text x="260.3" y="62.6" font-size="3.1" fill="#555" text-anchor="end">0</text>
<text x="260.3" y="68.6" font-size="3.1" fill="#555" text-anchor="end">-2</text>
<text x="263" y="51.9" font-size="2.4" fill="#888">x10⁻⁷</text>
<polyline points="262,61.5 278.8,61.6 279.4,61.5 280.6,61.1 281.2,61.0 281.8,61.3 283,63.1 283.6,63.6 284.2,62.8 285.4,58.2 286,56.8 286.6,57.8 287.2,61.1 287.8,65.4 288.4,68.3 289,67.9 289.6,64.2 290.2,58.8 290.8,54.4 291.4,53.4 292,56.4 293.2,67.4 293.8,70.0 294.4,68.5 295.6,57.6 296.2,53.6 296.8,53.4 297.4,57.1 298.6,68.0 299.2,69.8 299.8,67.5 301,57.2 301.6,54.4 302.2,55.2 303.4,63.2 304,66.0 304.6,66.1 305.2,64.2 305.8,61.6 306.4,59.8 307,59.5 307.6,60.1 308.2,61.0 308.8,61.5 309.4,61.6 310.6,61.7 311.8,62.0 312.4,62.0 314.2,61.1 314.8,61.0 315.4,61.1 316,61.2 317.8,62.0 318.4,62.0 319,61.8 320.2,61.1 320.8,60.9 321.4,61.1 322.6,62.0 323.2,62.1 323.8,61.9 325,60.8 325.6,60.7 326.2,61.0 327.4,62.1 328,62.4 328.6,62.3 329.2,62.0 330.4,60.9 331,60.6 331.6,60.5 332.2,60.7 334,62.7 334.6,62.7 335.2,62.2 336.4,60.7 337,60.4 337.6,60.7 338.8,61.8 339.4,62.1 340,62.0 341.2,61.4 341.8,61.2 342.4,61.2 344.8,61.8 345.4,61.8 346,61.7 347.2,61.1 347.8,61.0 348.4,61.1 349.6,61.9 350.2,62.1 350.8,62.1 352.6,61.0 353.2,60.9 353.8,61.0 355.6,61.9 356.2,62.0 356.8,62.0 357.4,61.8 359.2,61.0 359.8,61.0 361.6,62.0 362.2,62.1 364,60.9 364.6,60.9 365.8,61.9 366.4,62.3 367,62.3 368.8,60.8 369.4,60.6 370,60.7 370.6,61.1 371.8,62.1 372.4,62.5 373,62.6 373.6,62.2 374.8,60.7 375.4,60.3 376,60.4 377.2,61.8 377.8,62.3 378.4,62.4 380.2,61.1 380.8,61.0 382.6,61.6 383.2,61.7 384.4,61.6 386.2,61.3 387.4,61.4" fill="none" stroke="#c85858" stroke-width="0.45"/>
<polyline points="278.6,61.6 279.8,61.4 281,60.9 281.6,61.0 282.2,61.7 283.4,63.7 284,63.6 284.6,62.0 285.8,57.0 286.4,56.6 287,58.9 288.2,67.4 288.8,69.0 289.4,66.9 290.6,56.2 291.2,53.0 291.8,53.9 292.4,58.6 293,64.8 293.6,69.5 294.2,70.3 294.8,66.8 296,55.1 296.6,52.5 297.2,54.3 298.4,65.7 299,69.7 299.6,69.6 300.2,65.7 300.8,59.9 301.4,55.3 302,54.1 302.6,56.4 303.8,64.8 304.4,66.5 305,65.5 306.2,60.7 306.8,59.5 307.4,59.7 308.6,61.2 309.2,61.5 310.4,61.7 311.6,62.1 312.2,62.1 312.8,61.9 314,61.2 314.6,60.9 315.2,60.9 315.8,61.1 317.6,62.0 318.2,62.1 318.8,62.0 320,61.2 320.6,60.9 321.2,60.9 322.4,61.9 323,62.2 323.6,62.1 324.8,60.9 325.4,60.6 326,60.7 327.2,62.0 327.8,62.5 328.4,62.5 329,62.2 330.8,60.5 331.4,60.3 332,60.4 332.6,61.0 333.8,62.7 334.4,63.0 335,62.6 336.2,60.8 336.8,60.3 337.4,60.4 338.6,61.7 339.2,62.1 339.8,62.2 341.6,61.2 342.2,61.2 342.8,61.3 344.6,61.8 345.2,61.8 345.8,61.8 347.6,60.9 348.2,60.9 348.8,61.3 350,62.2 350.6,62.3 351.2,62.0 352.4,61.0 353,60.8 353.6,60.8 355.4,61.9 356,62.1 356.6,62.1 357.2,61.9 359,60.9 359.6,60.8 360.2,61.1 361.4,62.0 362,62.2 362.6,61.9 363.8,60.9 364.4,60.7 365,61.1 366.2,62.3 366.8,62.5 367.4,62.1 368.6,60.8 369.2,60.5 369.8,60.5 370.4,60.8 372.2,62.6 372.8,62.8 373.4,62.6 375.2,60.1 375.8,60.1 376.4,60.6 377.6,62.3 378.2,62.6 378.8,62.3 380,61.2 380.6,61.0 381.2,61.1 382.4,61.6 383,61.7 384.2,61.7 386,61.3 386.6,61.2 387.2,61.4" fill="none" stroke="#200a0a" stroke-width="0.58"/>
<text x="382.2" y="57.9" font-size="3.1" font-weight="bold" fill="#5656a8" text-anchor="end">0.88</text>
<path d="M392.8,52.3H519.7" stroke="#b4b4b4" stroke-width="0.7"/>
<path d="M519.7,52.3V70.8M392.8,70.8H519.7" fill="none" stroke="#a0a0a0" stroke-width="0.8"/>
<path d="M392.8,52.3V70.8" stroke="#d8d8d8" stroke-width="1"/>
<path d="M392.8,55.5h1M392.8,61.5h1M392.8,67.5h1M519.7,55.5h-1M519.7,67.5h-1" stroke="#999" stroke-width="0.45"/>
<text x="394.3" y="51.9" font-size="2.4" fill="#888">x10⁻⁷</text>
<polyline points="393.3,61.5 405.3,61.5 407.1,61.3 407.7,61.5 408.9,62.6 409.5,62.5 410.1,61.5 410.7,60.0 411.3,59.2 411.9,59.8 413.1,63.4 413.7,64.1 414.3,63.4 415.5,59.6 416.1,58.8 416.7,59.6 417.9,63.4 418.5,64.1 419.1,63.1 420.3,59.2 420.9,58.9 421.5,60.4 422.1,63.1 422.7,65.1 423.3,65.0 423.9,62.5 424.5,58.8 425.1,56.4 425.7,57.0 426.3,60.4 426.9,64.6 427.5,67.1 428.1,66.2 429.3,58.3 429.9,55.9 430.5,56.8 431.7,64.6 432.3,66.8 432.9,65.8 434.1,59.0 434.7,57.5 435.3,58.6 435.9,60.9 436.5,62.8 437.1,63.3 437.7,62.7 438.3,61.9 438.9,61.4 439.5,61.2 441.3,61.2 443.1,62.0 443.7,61.9 445.5,60.8 446.1,60.9 447.3,62.0 447.9,62.4 448.5,62.4 450.3,60.7 450.9,60.5 451.5,60.8 453.3,62.1 453.9,62.3 454.5,62.3 455.1,62.0 456.3,60.9 456.9,60.6 457.5,60.7 458.7,61.7 459.3,62.1 459.9,62.1 461.7,61.2 462.3,61.1 464.1,61.7 464.7,61.7 466.5,61.4 467.7,61.2 468.9,61.5 470.1,62.0 470.7,62.0 471.3,61.8 472.5,61.0 473.1,60.7 473.7,60.8 475.5,62.2 476.1,62.3 476.7,62.0 477.9,61.2 478.5,61.0 479.1,60.9 479.7,61.1 481.5,61.9 482.1,62.1 482.7,61.9 483.9,61.1 484.5,60.9 485.1,61.1 486.3,62.1 486.9,62.3 487.5,62.0 488.7,60.7 489.3,60.5 489.9,60.7 491.1,61.9 491.7,62.3 492.3,62.4 492.9,62.2 494.7,60.9 495.3,60.6 495.9,60.7 496.5,61.1 497.7,62.2 498.3,62.3 498.9,62.1 500.1,61.2 500.7,60.9 501.3,61.0 502.5,61.6 503.1,61.8 503.7,61.8 505.5,61.3 506.7,61.4 508.5,61.8 509.1,61.8 509.7,61.7 511.5,60.9 512.1,60.9 512.7,61.3 513.9,62.1 514.5,62.2 515.1,62.0 516.3,61.2 516.9,60.9 517.5,61.0 518.7,61.5" fill="none" stroke="#c85858" stroke-width="0.45"/>
<polyline points="405.4,61.5 407.2,61.2 407.8,61.5 409,62.7 409.6,62.7 410.2,61.6 410.8,60.1 411.4,59.1 412,59.5 413.2,63.3 413.8,64.3 414.4,63.6 415.6,59.7 416.2,58.7 416.8,59.4 418,63.4 418.6,64.2 419.2,63.3 420.4,59.2 421,58.7 421.6,60.2 422.8,65.3 423.4,65.4 424,62.9 424.6,59.0 425.2,56.2 425.8,56.5 426.4,59.9 427,64.4 427.6,67.3 428.2,66.7 428.8,63.1 429.4,58.6 430,55.7 430.6,56.3 431.2,59.9 431.8,64.4 432.4,67.0 433,66.3 434.2,59.1 434.8,57.4 435.4,58.3 436.6,62.7 437.2,63.3 437.8,62.8 438.4,62.0 439,61.4 439.6,61.2 440.8,61.1 441.4,61.1 443.2,62.1 443.8,62.0 445,61.0 445.6,60.7 446.2,60.8 447.4,62.2 448,62.6 448.6,62.5 449.8,61.1 450.4,60.5 451,60.4 451.6,60.7 453.4,62.3 454,62.5 454.6,62.4 455.2,62.0 456.4,60.8 457,60.5 457.6,60.6 458.8,61.8 459.4,62.2 460,62.2 461.8,61.1 462.4,61.1 464.2,61.7 464.8,61.8 466.6,61.3 467.8,61.2 468.4,61.3 470.2,62.1 470.8,62.1 471.4,61.9 472.6,60.8 473.2,60.6 473.8,60.7 475,61.9 475.6,62.4 476.2,62.4 476.8,62.1 478,61.1 478.6,60.8 479.2,60.8 479.8,61.0 481.6,62.0 482.2,62.2 482.8,61.9 484,61.0 484.6,60.8 485.2,61.1 486.4,62.3 487,62.4 487.6,62.0 488.8,60.6 489.4,60.3 490,60.7 491.2,62.0 491.8,62.5 492.4,62.5 493,62.2 494.8,60.7 495.4,60.5 496,60.6 496.6,61.1 497.8,62.3 498.4,62.5 499,62.2 500.2,61.1 500.8,60.8 501.4,61.0 502.6,61.7 503.2,61.9 503.8,61.8 505,61.4 505.6,61.3 506.2,61.3 508.6,61.8 509.2,61.9 509.8,61.7 511.6,60.8 512.2,60.9 512.8,61.3 514,62.3 514.6,62.4 515.2,62.1 516.4,61.1 517,60.8 517.6,60.9 518.8,61.5" fill="none" stroke="#200a0a" stroke-width="0.58"/>
<text x="513.7" y="57.9" font-size="3.1" font-weight="bold" fill="#5656a8" text-anchor="end">0.92</text>
<path d="M524.5,52.3H651.8" stroke="#b4b4b4" stroke-width="0.7"/>
<path d="M651.8,52.3V70.8M524.5,70.8H651.8" fill="none" stroke="#a0a0a0" stroke-width="0.8"/>
<path d="M524.5,52.3V70.8" stroke="#d8d8d8" stroke-width="1"/>
<path d="M524.5,55.5h1M524.5,61.5h1M524.5,67.5h1M651.8,55.5h-1M651.8,67.5h-1" stroke="#999" stroke-width="0.45"/>
<text x="526" y="51.9" font-size="2.4" fill="#888">x10⁻⁷</text>
<polyline points="525,61.5 541.8,61.5 542.4,61.5 543.6,60.9 544.2,60.9 544.8,61.6 545.4,62.7 546,63.4 546.6,62.9 547.2,61.2 547.8,59.1 548.4,57.9 549,58.7 550.2,64.9 550.8,66.8 551.4,66.0 552,62.7 552.6,58.6 553.2,55.6 553.8,55.4 554.4,58.3 555.6,66.9 556.2,68.3 556.8,66.4 558,57.5 558.6,54.9 559.2,55.5 559.8,59.0 560.4,63.7 561,67.1 561.6,67.8 562.2,65.4 563.4,57.9 564,56.6 564.6,57.8 565.8,62.7 566.4,63.7 567,63.5 568.2,61.7 568.8,61.4 570,61.3 571.2,60.7 571.8,60.5 572.4,60.8 573.6,62.6 574.2,63.1 574.8,62.8 576,60.7 576.6,60.1 577.2,60.2 578.4,61.6 579,62.2 579.6,62.4 580.2,62.2 582,61.0 582.6,60.9 583.2,61.0 584.4,62.1 585,62.3 585.6,62.0 586.8,60.5 587.4,60.3 588,60.8 589.2,62.6 589.8,62.8 590.4,62.4 591.6,60.9 592.2,60.5 592.8,60.5 593.4,60.9 594.6,61.9 595.2,62.2 595.8,62.3 596.4,62.1 597.6,61.1 598.2,60.7 598.8,60.8 600,61.8 600.6,62.1 601.2,62.0 602.4,61.2 603,61.0 603.6,61.2 604.8,61.8 605.4,62.0 606,61.9 607.8,61.0 608.4,60.8 609,60.8 609.6,61.2 610.8,62.6 611.4,62.9 612,62.5 613.2,60.5 613.8,59.8 614.4,60.0 615.6,62.0 616.2,62.8 616.8,62.8 617.4,62.3 618.6,61.0 619.2,60.7 619.8,60.8 620.4,61.0 621.6,61.9 622.2,62.2 622.8,62.0 624,60.9 624.6,60.6 625.2,60.9 626.4,62.5 627,62.7 627.6,62.3 628.8,60.6 629.4,60.2 630,60.5 631.2,61.8 631.8,62.3 632.4,62.4 633,62.2 634.8,60.9 635.4,60.7 636,60.8 637.2,61.8 637.8,62.2 638.4,62.2 639.6,61.3 640.2,61.0 640.8,61.0 642,61.7 642.6,61.9 643.2,61.8 644.4,61.2 645,61.1 645.6,61.1 646.2,61.3 648,62.2 648.6,62.2 649.2,61.9 650.4,60.8 651,60.6" fill="none" stroke="#c85858" stroke-width="0.45"/>
<polyline points="541.8,61.5 542.4,61.5 543,61.3 543.6,60.9 544.2,60.8 544.8,61.4 545.4,62.6 546,63.5 546.6,63.2 547.2,61.6 547.8,59.3 548.4,57.7 549,58.1 549.6,60.8 550.2,64.5 550.8,67.0 551.4,66.7 552,63.6 552.6,59.3 553.2,55.7 553.8,54.8 554.4,57.3 555.6,66.5 556.2,68.6 556.8,67.3 558,58.2 558.6,54.9 559.2,54.8 559.8,57.9 561,66.9 561.6,68.2 562.2,66.3 563.4,58.4 564,56.5 564.6,57.3 565.8,62.3 566.4,63.7 567,63.6 568.2,61.9 568.8,61.5 570,61.3 571.2,60.5 571.8,60.3 572.4,60.7 573.6,62.8 574.2,63.4 574.8,63.0 576,60.6 576.6,59.8 577.2,59.9 578.4,61.7 579,62.4 579.6,62.5 580.2,62.3 582,60.9 582.6,60.7 583.2,61.0 584.4,62.2 585,62.5 585.6,62.1 586.8,60.3 587.4,60.1 588,60.7 589.2,62.8 589.8,63.1 590.4,62.6 591.6,60.8 592.2,60.3 592.8,60.4 593.4,60.8 594.6,62.0 595.2,62.4 595.8,62.5 596.4,62.2 597.6,61.0 598.2,60.6 598.8,60.7 600,61.8 600.6,62.2 601.2,62.1 602.4,61.2 603,61.0 603.6,61.1 604.8,61.9 605.4,62.1 606,62.0 607.8,60.9 608.4,60.7 609,60.7 609.6,61.2 610.8,62.8 611.4,63.1 612,62.7 613.2,60.3 613.8,59.5 614.4,59.7 615.6,62.1 616.2,63.0 616.8,63.1 617.4,62.5 618.6,60.9 619.2,60.6 619.8,60.6 620.4,60.9 621.6,62.0 622.2,62.3 622.8,62.1 624,60.8 624.6,60.4 625.2,60.8 626.4,62.6 627,63.0 627.6,62.5 628.8,60.4 629.4,60.0 630,60.3 631.2,61.9 631.8,62.4 632.4,62.6 633,62.4 634.8,60.8 635.4,60.5 636,60.7 637.2,61.9 637.8,62.3 638.4,62.3 639.6,61.3 640.2,60.9 640.8,60.9 642,61.8 642.6,62.0 643.2,61.9 644.4,61.2 645,61.0 645.6,61.0 646.2,61.2 648,62.3 648.6,62.3 649.2,62.0 650.4,60.7 651,60.5" fill="none" stroke="#200a0a" stroke-width="0.58"/>
<text x="645.8" y="57.9" font-size="3.1" font-weight="bold" fill="#5656a8" text-anchor="end">0.78</text>
<text x="246" y="82.52" font-size="3.4" font-weight="bold" fill="#444" text-anchor="middle">DRO</text>
<path d="M261.5,73.4H388.2" stroke="#b4b4b4" stroke-width="0.7"/>
<path d="M388.2,73.4V92.2M261.5,92.2H388.2" fill="none" stroke="#a0a0a0" stroke-width="0.8"/>
<path d="M261.5,73.4V92.2" stroke="#d8d8d8" stroke-width="1"/>
<path d="M261.5,76.6h1M261.5,82.6h1M261.5,88.6h1M388.2,76.6h-1M388.2,88.6h-1" stroke="#999" stroke-width="0.45"/>
<text x="260.3" y="77.7" font-size="3.1" fill="#555" text-anchor="end">2</text>
<text x="260.3" y="83.7" font-size="3.1" fill="#555" text-anchor="end">0</text>
<text x="260.3" y="89.7" font-size="3.1" fill="#555" text-anchor="end">-2</text>
<text x="263" y="73" font-size="2.4" fill="#888">x10⁻⁷</text>
<polyline points="262,82.6 283,82.7 283.6,82.6 284.8,82.2 285.4,82.1 286,82.5 287.2,84.3 287.8,84.7 288.4,83.8 289.6,79.3 290.2,77.9 290.8,79.0 291.4,82.4 292,86.6 292.6,89.4 293.2,88.9 293.8,85.1 294.4,79.7 295,75.4 295.6,74.5 296.2,77.6 297.4,88.7 298,91.1 298.6,89.4 299.8,78.5 300.4,74.6 301,74.6 301.6,78.4 302.8,89.2 303.4,90.9 304,88.5 305.2,78.2 305.8,75.5 306.4,76.4 307.6,84.4 308.2,87.2 308.8,87.2 309.4,85.1 310,82.4 310.6,80.6 311.2,80.4 311.8,81.3 312.4,82.5 313,83.2 313.6,83.4 315.4,82.3 316,82.2 318.4,82.8 319,82.8 322,82.5 325.6,82.7 328,82.4 330.4,82.9 331,82.8 332.8,82.3 333.4,82.3 334,82.3 335.8,82.8 337,82.9 337.6,82.9 340,82.1 340.6,82.2 342.4,82.9 343,83.1 343.6,83.0 345.4,82.3 346,82.3 347.8,82.8 348.4,82.8 350.8,82.4 351.4,82.4 352.6,82.5 354.4,82.9 355,82.9 355.6,82.8 357.4,82.2 358,82.2 359.8,82.8 360.4,83.0 361,83.0 363.4,82.4 367,82.7 370.6,82.5 372.4,82.8 373,82.8 375.4,82.3 376,82.4 377.8,82.9 378.4,82.9 379,82.9 380.8,82.4 382,82.3 382.6,82.3 384.4,82.9 385,83.0 385.6,82.9 387.4,82.4" fill="none" stroke="#c85858" stroke-width="0.45"/>
<polyline points="282.8,82.7 284,82.5 285.2,82.0 285.8,82.1 286.4,82.8 287.6,84.8 288.2,84.7 288.8,83.1 290,78.1 290.6,77.7 291.2,80.0 292.4,88.5 293,90.1 293.6,88.0 294.8,77.3 295.4,74.1 296,75.0 296.6,79.7 297.2,85.9 297.8,90.6 298.4,91.4 299,87.9 300.2,76.2 300.8,73.6 301.4,75.4 302.6,86.8 303.2,90.8 303.8,90.7 304.4,86.7 305,81.0 305.6,76.4 306.2,75.2 306.8,77.6 308,86.0 308.6,87.6 309.2,86.6 310.4,81.5 311,80.3 311.6,80.7 312.8,82.9 313.4,83.4 314,83.2 315.2,82.3 315.8,82.1 316.4,82.2 318.2,82.9 318.8,82.9 321.8,82.4 323,82.5 325.4,82.8 327.8,82.4 328.4,82.4 330.2,82.9 330.8,82.9 333.2,82.2 333.8,82.3 335.6,82.8 336.8,83.0 338,82.8 339.8,82.1 340.4,82.1 341,82.2 342.2,82.9 342.8,83.1 343.4,83.1 345.2,82.3 345.8,82.2 346.4,82.3 347.6,82.7 348.2,82.9 348.8,82.8 350.6,82.4 351.2,82.4 352.4,82.5 354.2,82.9 354.8,83.0 355.4,82.9 357.2,82.2 357.8,82.1 358.4,82.2 360.2,83.0 360.8,83.0 362.6,82.5 363.8,82.3 367.4,82.8 370.4,82.4 372.8,82.8 373.4,82.8 375.2,82.3 375.8,82.3 377.6,82.9 378.2,83.0 378.8,83.0 381.2,82.3 381.8,82.2 383,82.4 384.8,83.0 385.4,83.0 387.2,82.4" fill="none" stroke="#200a0a" stroke-width="0.58"/>
<text x="382.2" y="79" font-size="3.1" font-weight="bold" fill="#5656a8" text-anchor="end">0.18</text>
<path d="M392.8,73.4H519.7" stroke="#b4b4b4" stroke-width="0.7"/>
<path d="M519.7,73.4V92.2M392.8,92.2H519.7" fill="none" stroke="#a0a0a0" stroke-width="0.8"/>
<path d="M392.8,73.4V92.2" stroke="#d8d8d8" stroke-width="1"/>
<path d="M392.8,76.6h1M392.8,82.6h1M392.8,88.6h1M519.7,76.6h-1M519.7,88.6h-1" stroke="#999" stroke-width="0.45"/>
<text x="394.3" y="73" font-size="2.4" fill="#888">x10⁻⁷</text>
<polyline points="393.3,82.6 415.5,82.6 417.3,82.9 417.9,82.8 418.5,82.3 419.1,81.6 419.7,81.1 420.3,81.6 421.5,85.1 422.1,86.0 422.7,84.9 423.9,79.2 424.5,77.9 425.1,79.2 426.3,86.0 426.9,87.6 427.5,86.5 428.7,79.7 429.3,77.7 429.9,78.3 431.1,84.9 431.7,87.1 432.3,86.8 432.9,84.3 433.5,81.2 434.1,79.3 434.7,79.5 435.9,83.2 436.5,84.1 437.1,83.9 437.7,83.1 438.3,82.5 438.9,82.4 440.1,82.7 441.9,82.4 442.5,82.4 444.3,82.9 444.9,82.9 447.3,82.3 447.9,82.2 448.5,82.3 450.3,83.1 450.9,83.1 451.5,82.9 452.7,82.3 453.3,82.2 453.9,82.2 455.7,82.9 456.3,82.9 458.1,82.5 459.3,82.4 459.9,82.5 461.7,82.8 462.3,82.8 464.1,82.2 464.7,82.2 466.5,83.3 467.1,83.3 467.7,82.9 468.9,82.0 469.5,81.8 470.1,82.0 471.9,83.1 472.5,83.3 473.1,83.3 473.7,83.0 474.9,82.2 475.5,81.9 476.1,81.9 477.9,83.1 478.5,83.2 480.3,82.2 480.9,82.2 482.7,82.9 483.3,82.9 485.1,82.4 486.3,82.3 486.9,82.4 488.7,83.0 489.3,83.0 489.9,82.9 491.1,82.3 491.7,82.1 492.3,82.2 494.1,83.0 494.7,83.0 497.1,82.4 497.7,82.4 500.7,82.8 503.1,82.3 503.7,82.4 504.9,83.0 505.5,83.1 506.1,83.0 507.3,82.1 507.9,81.9 508.5,82.0 510.3,83.2 510.9,83.3 511.5,83.1 513.3,82.1 513.9,82.0 514.5,82.0 515.1,82.3 516.3,83.0 516.9,83.2 517.5,83.0 518.7,82.4" fill="none" stroke="#c85858" stroke-width="0.45"/>
<polyline points="415.6,82.6 417.4,82.9 418,82.8 418.6,82.3 419.2,81.4 419.8,80.9 420.4,81.5 421.6,85.4 422.2,86.3 422.8,85.0 424,78.9 424.6,77.6 425.2,79.1 426.4,86.2 427,87.9 427.6,86.7 428.8,79.5 429.4,77.4 430,78.1 431.2,85.1 431.8,87.4 432.4,87.0 433.6,81.1 434.2,79.2 434.8,79.4 436,83.2 436.6,84.1 437.2,83.8 437.8,83.0 438.4,82.5 439,82.4 440.2,82.7 442,82.3 444.4,82.9 445,82.9 447.4,82.2 448,82.1 448.6,82.3 449.8,83.0 450.4,83.2 451,83.1 452.8,82.2 453.4,82.1 454,82.2 455.2,82.8 455.8,82.9 456.4,82.9 458.2,82.5 459.4,82.4 461.8,82.9 462.4,82.8 463.6,82.2 464.2,82.1 464.8,82.2 466,83.1 466.6,83.4 467.2,83.3 469,81.8 469.6,81.7 470.2,81.9 472,83.2 472.6,83.4 473.2,83.3 473.8,83.0 475,82.0 475.6,81.7 476.2,81.8 477.4,82.9 478,83.3 478.6,83.3 479.8,82.4 480.4,82.1 481,82.2 482.2,82.8 482.8,83.0 483.4,82.9 485.2,82.3 485.8,82.2 487,82.4 488.8,83.1 489.4,83.1 490,82.9 491.2,82.2 491.8,82.0 492.4,82.1 493.6,82.8 494.2,83.1 494.8,83.1 496.6,82.4 497.2,82.3 497.8,82.3 500.2,82.8 500.8,82.8 501.4,82.7 502.6,82.3 503.2,82.3 503.8,82.4 505,83.1 505.6,83.2 506.2,82.9 507.4,81.9 508,81.7 508.6,82.0 509.8,83.0 510.4,83.4 511,83.4 511.6,83.2 513.4,82.0 514,81.8 514.6,81.9 516.4,83.2 517,83.3 517.6,83.0 518.8,82.3" fill="none" stroke="#200a0a" stroke-width="0.58"/>
<text x="513.7" y="79" font-size="3.1" font-weight="bold" fill="#5656a8" text-anchor="end">0.90</text>
<path d="M524.5,73.4H651.8" stroke="#b4b4b4" stroke-width="0.7"/>
<path d="M651.8,73.4V92.2M524.5,92.2H651.8" fill="none" stroke="#a0a0a0" stroke-width="0.8"/>
<path d="M524.5,73.4V92.2" stroke="#d8d8d8" stroke-width="1"/>
<path d="M524.5,76.6h1M524.5,82.6h1M524.5,88.6h1M651.8,76.6h-1M651.8,88.6h-1" stroke="#999" stroke-width="0.45"/>
<text x="526" y="73" font-size="2.4" fill="#888">x10⁻⁷</text>
<polyline points="525,82.6 549,82.6 550.8,82.5 551.4,82.6 553.2,83.0 553.8,82.8 555,81.8 555.6,81.7 556.2,82.4 556.8,83.4 557.4,84.1 558,83.8 559.2,81.3 559.8,80.8 560.4,81.4 561.6,84.1 562.2,84.5 562.8,83.6 563.4,82.1 564,80.9 564.6,80.8 565.2,81.8 565.8,83.3 566.4,84.3 567,84.2 568.2,81.8 568.8,81.1 569.4,81.4 570.6,83.1 571.2,83.4 572.4,82.7 573,82.6 574.2,82.7 576,82.1 576.6,82.2 578.4,83.0 579,83.1 579.6,82.9 580.8,82.3 581.4,82.2 582,82.3 583.2,82.8 583.8,82.9 585.6,82.3 586.2,82.4 587.4,82.8 588,82.9 588.6,82.8 590.4,82.4 591,82.3 591.6,82.4 593.4,83.0 594,83.0 594.6,82.8 595.8,82.2 596.4,82.1 598.2,83.0 598.8,83.0 600.6,82.4 601.2,82.4 603.6,82.8 604.2,82.8 606,82.2 606.6,82.2 607.8,83.1 608.4,83.3 609,83.1 610.2,82.0 610.8,81.8 611.4,82.0 612.6,82.9 613.2,83.2 613.8,83.2 616.2,82.1 616.8,82.1 618.6,83.0 619.2,83.0 620.4,82.5 621,82.3 621.6,82.4 622.8,82.8 623.4,82.8 625.2,82.4 625.8,82.4 628.2,82.9 628.8,82.9 629.4,82.8 630.6,82.3 631.2,82.1 631.8,82.2 633,82.9 633.6,83.1 634.2,83.0 635.4,82.4 636,82.2 636.6,82.3 638.4,82.8 639.6,82.7 641.4,82.3 642,82.5 643.2,83.0 643.8,83.1 644.4,82.8 645.6,81.9 646.2,82.0 647.4,82.9 648,83.2 648.6,83.2 649.8,82.6 650.4,82.3 651,82.3" fill="none" stroke="#c85858" stroke-width="0.45"/>
<polyline points="549.6,82.6 551.4,82.5 553.2,83.0 553.8,82.9 555,81.8 555.6,81.6 556.2,82.2 557.4,84.1 558,84.1 558.6,83.0 559.2,81.5 559.8,80.7 560.4,81.1 561.6,83.9 562.2,84.6 562.8,84.0 564,81.1 564.6,80.6 565.2,81.4 566.4,84.2 567,84.4 567.6,83.5 568.2,82.1 568.8,81.1 569.4,81.2 570.6,83.0 571.2,83.4 573,82.7 574.2,82.7 575.4,82.2 576,82.1 576.6,82.1 578.4,83.1 579,83.2 579.6,83.0 580.8,82.3 581.4,82.1 582,82.2 583.2,82.9 583.8,83.0 585.6,82.3 586.2,82.3 587.4,82.8 588,82.9 588.6,82.8 590.4,82.3 591,82.3 591.6,82.3 593.4,83.0 594,83.1 594.6,82.8 595.8,82.1 596.4,82.0 597,82.3 598.2,83.0 598.8,83.1 600.6,82.4 601.2,82.3 603.6,82.8 604.2,82.8 606,82.1 606.6,82.2 607.8,83.2 608.4,83.5 609,83.2 610.2,81.9 610.8,81.7 611.4,81.9 612.6,83.0 613.2,83.3 613.8,83.3 614.4,83.0 615.6,82.3 616.2,82.0 616.8,82.0 618.6,83.0 619.2,83.1 620.4,82.4 621,82.2 621.6,82.3 622.8,82.8 623.4,82.9 625.2,82.3 625.8,82.3 628.2,82.9 628.8,82.9 629.4,82.8 630.6,82.2 631.2,82.1 631.8,82.2 633,83.0 633.6,83.2 634.2,83.1 635.4,82.3 636,82.1 636.6,82.2 637.8,82.7 638.4,82.8 639,82.9 641.4,82.3 642,82.4 643.2,83.1 643.8,83.2 644.4,82.8 645.6,81.8 646.2,81.8 647.4,82.9 648,83.3 648.6,83.3 650.4,82.3 651,82.2" fill="none" stroke="#200a0a" stroke-width="0.58"/>
<text x="645.8" y="79" font-size="3.1" font-weight="bold" fill="#5656a8" text-anchor="end">0.88</text>
<text x="246" y="104.02" font-size="3.4" font-weight="bold" fill="#444" text-anchor="middle">ANS</text>
<path d="M261.5,94.6H388.2" stroke="#b4b4b4" stroke-width="0.7"/>
<path d="M388.2,94.6V113.8M261.5,113.8H388.2" fill="none" stroke="#a0a0a0" stroke-width="0.8"/>
<path d="M261.5,94.6V113.8" stroke="#d8d8d8" stroke-width="1"/>
<path d="M261.5,98h1M261.5,104h1M261.5,110h1M388.2,98h-1M388.2,110h-1" stroke="#999" stroke-width="0.45"/>
<text x="260.3" y="99.1" font-size="3.1" fill="#555" text-anchor="end">2</text>
<text x="260.3" y="105.1" font-size="3.1" fill="#555" text-anchor="end">0</text>
<text x="260.3" y="111.1" font-size="3.1" fill="#555" text-anchor="end">-2</text>
<text x="263" y="94.2" font-size="2.4" fill="#888">x10⁻⁷</text>
<polyline points="262,104.0 283,104.1 283.6,104.0 284.8,103.6 285.4,103.5 286,103.9 287.2,105.7 287.8,106.1 288.4,105.2 289.6,100.7 290.2,99.3 290.8,100.4 291.4,103.8 292,108.0 292.6,110.8 293.2,110.3 293.8,106.5 294.4,101.1 295,96.8 295.6,95.9 296.2,99.0 297.4,110.1 298,112.5 298.6,110.8 299.8,99.9 300.4,96.0 301,96.0 301.6,99.8 302.8,110.6 303.4,112.3 304,109.9 305.2,99.6 305.8,96.9 306.4,97.8 307.6,105.8 308.2,108.5 308.8,108.6 309.4,106.6 310,104.1 310.6,102.3 311.2,101.9 311.8,102.6 312.4,103.6 313,104.2 313.6,104.3 314.8,104.0 315.4,104.0 317.2,104.3 319.6,103.9 320.8,103.8 323.2,104.3 323.8,104.3 325.6,103.6 326.2,103.5 326.8,103.6 328.6,104.4 329.2,104.5 329.8,104.5 331.6,103.7 332.2,103.6 332.8,103.6 333.4,103.6 335.8,104.4 336.4,104.5 337,104.4 337.6,104.3 339.4,103.5 340,103.5 340.6,103.6 341.8,104.3 342.4,104.5 343,104.5 344.8,103.6 345.4,103.5 346,103.7 347.8,104.5 348.4,104.5 349,104.4 350.8,103.6 352,103.3 352.6,103.4 353.2,103.7 354.4,104.6 355,105.0 355.6,105.0 356.2,104.7 357.4,103.5 358,103.1 358.6,102.9 359.2,103.2 360.4,104.2 361,104.6 361.6,104.7 362.2,104.6 364,103.8 365.2,103.7 368.2,104.2 369.4,104.1 371.2,103.7 371.8,103.7 373.6,104.4 374.2,104.5 374.8,104.4 376.6,103.6 377.2,103.5 377.8,103.6 379.6,104.2 380.8,104.4 382,104.2 383.8,103.7 384.4,103.6 385,103.6 386.8,104.2 387.4,104.3" fill="none" stroke="#c85858" stroke-width="0.45"/>
<polyline points="282.8,104.1 284,103.9 285.2,103.4 285.8,103.5 286.4,104.2 287.6,106.2 288.2,106.1 288.8,104.5 290,99.5 290.6,99.1 291.2,101.4 292.4,109.9 293,111.5 293.6,109.4 294.8,98.7 295.4,95.5 296,96.4 296.6,101.1 297.2,107.3 297.8,112.0 298.4,112.8 299,109.3 300.2,97.6 300.8,95.0 301.4,96.8 302.6,108.2 303.2,112.2 303.8,112.1 304.4,108.1 305,102.4 305.6,97.8 306.2,96.5 306.8,98.9 308,107.3 308.6,109.0 309.2,108.1 310.4,103.2 311,102.0 311.6,102.2 312.8,103.8 313.4,104.2 315.2,104.0 317,104.3 317.6,104.3 319.4,103.9 320.6,103.7 321.2,103.8 323,104.3 323.6,104.4 324.2,104.2 326,103.5 326.6,103.5 327.2,103.7 328.4,104.4 329,104.6 329.6,104.6 330.2,104.4 331.4,103.8 332,103.6 332.6,103.5 333.8,103.7 335.6,104.4 336.2,104.5 336.8,104.5 337.4,104.4 339.2,103.5 339.8,103.4 340.4,103.5 342.2,104.5 342.8,104.6 343.4,104.4 344.6,103.6 345.2,103.5 345.8,103.5 347.6,104.5 348.2,104.6 348.8,104.5 351.2,103.4 351.8,103.2 352.4,103.2 353,103.5 354.8,105.0 355.4,105.2 356,105.0 357.8,103.0 358.4,102.7 359,102.9 360.8,104.6 361.4,104.8 362,104.8 363.8,103.9 364.4,103.7 365,103.6 366.2,103.8 368,104.3 368.6,104.3 369.2,104.2 371,103.6 371.6,103.6 372.2,103.8 373.4,104.4 374,104.6 374.6,104.5 376.4,103.6 377,103.4 377.6,103.4 379.4,104.2 380.6,104.5 381.8,104.3 383.6,103.7 384.2,103.5 384.8,103.5 385.4,103.7 387.2,104.3" fill="none" stroke="#200a0a" stroke-width="0.58"/>
<text x="382.2" y="100.2" font-size="3.1" font-weight="bold" fill="#5656a8" text-anchor="end">0.18</text>
<path d="M392.8,94.6H519.7" stroke="#b4b4b4" stroke-width="0.7"/>
<path d="M519.7,94.6V113.8M392.8,113.8H519.7" fill="none" stroke="#a0a0a0" stroke-width="0.8"/>
<path d="M392.8,94.6V113.8" stroke="#d8d8d8" stroke-width="1"/>
<path d="M392.8,98h1M392.8,104h1M392.8,110h1M519.7,98h-1M519.7,110h-1" stroke="#999" stroke-width="0.45"/>
<text x="394.3" y="94.2" font-size="2.4" fill="#888">x10⁻⁷</text>
<polyline points="393.3,104.0 413.1,104.0 415.5,103.9 416.1,104.0 417.3,104.4 417.9,104.5 418.5,104.3 419.1,103.7 419.7,102.9 420.3,102.4 420.9,102.6 421.5,103.7 422.1,105.4 422.7,106.6 423.3,106.8 423.9,105.6 425.1,101.3 425.7,100.4 426.3,101.1 427.5,105.7 428.1,107.4 428.7,107.7 429.3,106.2 430.5,101.4 431.1,100.2 431.7,100.8 432.3,102.7 432.9,105.3 433.5,107.2 434.1,107.6 434.7,106.4 435.9,102.1 436.5,101.0 437.1,101.4 438.3,104.5 438.9,105.6 439.5,105.7 440.1,105.1 440.7,104.2 441.3,103.7 441.9,103.5 443.1,103.8 444.9,103.8 446.7,104.6 447.3,104.6 447.9,104.4 449.1,103.6 449.7,103.4 450.3,103.4 450.9,103.6 452.7,104.6 453.3,104.8 453.9,104.5 455.1,103.5 455.7,103.2 456.3,103.4 457.5,104.5 458.1,104.7 458.7,104.5 459.9,103.4 460.5,103.2 461.1,103.4 462.3,104.5 462.9,104.8 463.5,104.8 464.1,104.5 465.9,103.2 466.5,103.1 467.1,103.3 468.9,105.0 469.5,105.1 470.1,104.7 471.3,103.4 471.9,103.1 472.5,103.3 473.7,104.2 474.3,104.4 474.9,104.4 476.7,103.9 477.3,103.8 480.3,104.2 480.9,104.2 482.7,103.5 483.3,103.6 485.1,104.7 485.7,104.7 486.3,104.4 487.5,103.4 488.1,103.2 488.7,103.3 490.5,104.5 491.1,104.7 491.7,104.7 492.3,104.5 494.1,103.2 494.7,103.2 495.3,103.5 496.5,104.7 497.1,104.8 497.7,104.4 498.9,103.4 499.5,103.3 501.3,104.7 501.9,104.8 502.5,104.4 503.7,103.4 504.3,103.2 504.9,103.3 505.5,103.5 507.3,104.9 507.9,105.0 508.5,104.7 509.7,103.4 510.3,103.0 510.9,103.1 512.7,104.6 513.3,104.7 515.1,103.8 515.7,103.7 518.7,104.1" fill="none" stroke="#c85858" stroke-width="0.45"/>
<polyline points="414.2,104.0 416,104.0 417.8,104.6 418.4,104.5 419,103.9 420.2,102.3 420.8,102.3 421.4,103.2 422.6,106.5 423.2,107.1 423.8,106.3 425,101.8 425.6,100.3 426.2,100.5 426.8,102.3 428,107.2 428.6,108.0 429.2,107.0 430.4,102.0 431,100.3 431.6,100.2 432.2,101.9 433.4,106.8 434,107.8 434.6,107.1 435.8,102.6 436.4,101.1 437,101.1 437.6,102.3 438.2,104.0 438.8,105.3 439.4,105.8 440,105.3 441.2,103.8 441.8,103.6 443,103.7 444.8,103.7 446.6,104.7 447.2,104.7 447.8,104.5 449,103.5 449.6,103.3 450.2,103.2 450.8,103.5 452.6,104.7 453.2,104.9 453.8,104.7 455,103.5 455.6,103.1 456.2,103.2 457.4,104.5 458,104.9 458.6,104.7 459.8,103.4 460.4,103.1 461,103.3 462.2,104.5 462.8,104.9 463.4,104.9 464,104.6 465.8,103.1 466.4,102.9 467,103.1 468.8,105.1 469.4,105.3 470,104.9 471.2,103.4 471.8,103.0 472.4,103.1 473.6,104.2 474.2,104.5 474.8,104.5 476.6,103.9 477.2,103.8 478.4,103.9 480.2,104.3 480.8,104.2 482.6,103.5 483.2,103.5 483.8,103.8 485,104.8 485.6,104.9 486.2,104.5 487.4,103.4 488,103.1 488.6,103.1 490.4,104.5 491,104.8 491.6,104.8 492.2,104.6 494,103.1 494.6,103.0 495.2,103.4 496.4,104.7 497,104.9 497.6,104.6 498.8,103.3 499.4,103.2 500,103.6 501.2,104.8 501.8,104.9 502.4,104.5 503.6,103.4 504.2,103.1 504.8,103.1 505.4,103.4 507.2,105.0 507.8,105.1 508.4,104.9 509.6,103.4 510.2,102.9 510.8,102.9 512.6,104.7 513.2,104.8 513.8,104.6 515,103.8 515.6,103.6 518.6,104.1" fill="none" stroke="#200a0a" stroke-width="0.58"/>
<text x="513.7" y="100.2" font-size="3.1" font-weight="bold" fill="#5656a8" text-anchor="end">0.73</text>
<path d="M524.5,94.6H651.8" stroke="#b4b4b4" stroke-width="0.7"/>
<path d="M651.8,94.6V113.8M524.5,113.8H651.8" fill="none" stroke="#a0a0a0" stroke-width="0.8"/>
<path d="M524.5,94.6V113.8" stroke="#d8d8d8" stroke-width="1"/>
<path d="M524.5,98h1M524.5,104h1M524.5,110h1M651.8,98h-1M651.8,110h-1" stroke="#999" stroke-width="0.45"/>
<text x="526" y="94.2" font-size="2.4" fill="#888">x10⁻⁷</text>
<polyline points="525,104.0 542.4,104.0 544.2,104.1 544.8,104.0 546,103.4 546.6,103.4 547.2,103.9 547.8,104.5 548.4,104.9 549,104.8 550.2,103.6 550.8,103.1 551.4,103.1 552.6,104.3 553.2,104.7 553.8,104.6 555,103.9 555.6,103.8 556.8,104.1 557.4,104.1 558,103.9 559.2,103.2 559.8,103.5 560.4,104.5 561,105.7 561.6,106.3 562.2,105.5 563.4,101.4 564,100.5 564.6,101.6 565.8,106.7 566.4,107.8 567,106.8 568.2,101.6 568.8,100.2 569.4,100.9 570.6,105.9 571.2,107.5 571.8,107.0 573,102.7 573.6,101.5 574.2,101.9 575.4,104.5 576,105.0 576.6,104.8 577.2,104.2 577.8,103.8 578.4,103.7 580.2,104.1 582.6,103.9 583.2,103.9 585.6,104.3 586.2,104.2 587.4,103.6 588,103.4 588.6,103.6 589.8,104.6 590.4,104.8 591,104.6 592.2,103.5 592.8,103.3 593.4,103.4 595.2,104.4 595.8,104.6 596.4,104.5 598.2,103.5 598.8,103.5 600,104.3 600.6,104.5 601.2,104.3 602.4,103.5 603,103.5 604.2,104.3 604.8,104.5 605.4,104.5 607.2,103.6 607.8,103.6 608.4,103.6 610.2,104.4 610.8,104.5 611.4,104.3 612.6,103.7 613.2,103.5 613.8,103.7 615,104.2 615.6,104.3 617.4,103.9 618,103.8 620.4,104.2 621.6,104.0 622.8,103.7 623.4,103.7 625.2,104.7 625.8,104.6 627,103.6 627.6,103.2 628.2,103.3 629.4,104.2 630,104.6 630.6,104.7 631.2,104.5 633,103.5 633.6,103.4 634.2,103.6 635.4,104.4 636,104.5 636.6,104.3 637.2,103.8 637.8,103.5 638.4,103.6 639.6,104.4 640.2,104.5 640.8,104.3 642,103.6 642.6,103.5 645,104.4 645.6,104.4 646.2,104.3 647.4,103.8 648,103.6 648.6,103.7 649.8,104.1 650.4,104.3 651,104.2" fill="none" stroke="#c85858" stroke-width="0.45"/>
<polyline points="542.3,104.0 544.1,104.2 544.7,104.1 545.9,103.4 546.5,103.3 547.1,103.6 548.3,104.9 548.9,105.0 549.5,104.5 550.7,103.2 551.3,103.0 551.9,103.4 553.1,104.6 553.7,104.7 554.9,104.0 555.5,103.8 557.3,104.1 557.9,103.9 559.1,103.2 559.7,103.2 560.3,104.1 560.9,105.4 561.5,106.4 562.1,106.1 562.7,104.3 563.3,101.9 563.9,100.4 564.5,100.9 565.1,103.2 565.7,106.0 566.3,107.8 566.9,107.5 567.5,105.3 568.1,102.4 568.7,100.3 569.3,100.3 569.9,102.3 570.5,105.1 571.1,107.3 571.7,107.5 572.3,105.9 572.9,103.4 573.5,101.7 574.1,101.6 575.3,104.2 575.9,105.0 576.5,104.9 577.7,103.8 578.3,103.7 580.1,104.2 580.7,104.2 581.9,103.9 583.1,103.9 585.5,104.3 586.1,104.2 587.3,103.5 587.9,103.3 588.5,103.5 589.7,104.6 590.3,104.9 590.9,104.7 592.1,103.5 592.7,103.2 593.3,103.2 595.1,104.5 595.7,104.6 596.3,104.6 598.1,103.4 598.7,103.4 599.9,104.3 600.5,104.6 601.1,104.4 602.3,103.5 602.9,103.4 604.7,104.6 605.3,104.6 607.1,103.6 607.7,103.5 608.3,103.6 610.1,104.5 610.7,104.6 611.3,104.4 612.5,103.6 613.1,103.5 613.7,103.6 614.9,104.3 615.5,104.4 617.3,103.8 617.9,103.8 619.7,104.1 620.9,104.2 622.7,103.6 623.3,103.6 623.9,103.9 625.1,104.7 625.7,104.7 626.3,104.3 626.9,103.6 627.5,103.1 628.1,103.1 629.9,104.7 630.5,104.8 631.1,104.6 632.9,103.4 633.5,103.3 634.1,103.5 635.3,104.4 635.9,104.6 636.5,104.4 637.7,103.5 638.3,103.5 639.5,104.4 640.1,104.6 640.7,104.4 641.9,103.6 642.5,103.4 643.1,103.6 644.9,104.4 645.5,104.5 646.1,104.3 647.3,103.7 647.9,103.5 648.5,103.6 649.7,104.1 650.3,104.3 650.9,104.3" fill="none" stroke="#200a0a" stroke-width="0.58"/>
<text x="645.8" y="100.2" font-size="3.1" font-weight="bold" fill="#5656a8" text-anchor="end">0.45</text>
<text x="246" y="124.72" font-size="3.4" font-weight="bold" fill="#444" text-anchor="middle">EVR</text>
<path d="M261.5,116.3H388.2" stroke="#b4b4b4" stroke-width="0.7"/>
<path d="M388.2,116.3V135.5M261.5,135.5H388.2" fill="none" stroke="#a0a0a0" stroke-width="0.8"/>
<path d="M261.5,116.3V135.5" stroke="#d8d8d8" stroke-width="1"/>
<path d="M261.5,119.4h1M261.5,125.4h1M261.5,131.4h1M388.2,119.4h-1M388.2,131.4h-1" stroke="#999" stroke-width="0.45"/>
<text x="260.3" y="120.5" font-size="3.1" fill="#555" text-anchor="end">2</text>
<text x="260.3" y="126.5" font-size="3.1" fill="#555" text-anchor="end">0</text>
<text x="260.3" y="132.5" font-size="3.1" fill="#555" text-anchor="end">-2</text>
<text x="263" y="115.9" font-size="2.4" fill="#888">x10⁻⁷</text>
<polyline points="262,125.4 275.2,125.4 280,125.5 281.2,125.4 284.2,124.9 284.8,124.9 285.4,125.0 286,125.2 287.8,126.4 288.4,126.6 289,126.6 289.6,126.4 290.2,126.0 292,124.4 292.6,124.1 293.2,124.0 293.8,124.2 294.4,124.5 296.8,126.5 297.4,126.7 298,126.8 298.6,126.7 299.2,126.4 301.6,124.5 302.2,124.1 302.8,124.0 303.4,124.0 304,124.2 304.6,124.6 307,126.5 308.2,127.1 308.8,127.1 309.4,127.0 310,126.7 310.6,126.1 312.4,124.1 313,123.5 313.6,123.3 314.2,123.3 314.8,123.6 315.4,124.1 317.2,126.5 317.8,127.1 318.4,127.5 319,127.6 319.6,127.4 320.2,126.9 322.6,123.9 323.2,123.4 323.8,123.2 324.4,123.3 325,123.7 325.6,124.4 327.4,126.7 328,127.3 328.6,127.6 329.2,127.6 329.8,127.3 330.4,126.7 332.2,124.3 332.8,123.7 333.4,123.3 334,123.2 334.6,123.4 335.2,123.9 337.6,126.9 338.2,127.4 338.8,127.6 339.4,127.5 340,127.1 340.6,126.4 342.4,124.1 343,123.5 343.6,123.2 344.2,123.2 344.8,123.5 345.4,124.1 347.2,126.5 347.8,127.1 348.4,127.5 349,127.6 349.6,127.4 350.2,126.9 352.6,123.9 353.2,123.4 353.8,123.2 354.4,123.3 355,123.7 355.6,124.4 357.4,126.7 358,127.3 358.6,127.6 359.2,127.6 359.8,127.3 360.4,126.7 362.2,124.3 362.8,123.7 363.4,123.3 364,123.2 364.6,123.4 365.2,123.9 367.6,126.9 368.2,127.4 368.8,127.6 369.4,127.5 370,127.1 370.6,126.4 372.4,124.1 373,123.5 373.6,123.2 374.2,123.2 374.8,123.6 375.4,124.1 377.2,126.5 377.8,127.1 378.4,127.5 379,127.5 379.6,127.3 380.2,126.8 382,124.6 382.6,124.0 383.2,123.6 383.8,123.5 384.4,123.7 385,124.1 386.8,125.8 387.4,126.2" fill="none" stroke="#c85858" stroke-width="0.45"/>
<polyline points="283.5,124.9 284.7,124.7 285.3,124.9 285.9,125.2 287.7,126.8 288.3,127.2 288.9,127.4 289.5,127.2 290.1,126.6 291.9,123.6 292.5,122.8 293.1,122.3 293.7,122.4 294.3,122.9 294.9,123.8 296.7,127.4 297.3,128.3 297.9,128.8 298.5,128.8 299.1,128.3 299.7,127.4 301.5,123.7 302.1,122.7 302.7,122.1 303.3,122.0 303.9,122.3 304.5,123.0 306.9,127.4 307.5,128.0 308.1,128.4 308.7,128.3 309.3,128.0 309.9,127.3 312.3,123.8 312.9,123.2 313.5,122.8 314.1,122.8 314.7,123.2 315.3,123.8 317.1,126.6 317.7,127.4 318.3,127.9 318.9,128.0 319.5,127.8 320.1,127.2 322.5,123.7 323.1,123.1 323.7,122.8 324.3,122.9 324.9,123.4 325.5,124.1 327.3,126.9 327.9,127.6 328.5,127.9 329.1,128.0 329.7,127.6 330.3,127.0 332.1,124.2 332.7,123.4 333.3,122.9 333.9,122.8 334.5,123.0 335.1,123.6 337.5,127.1 338.1,127.7 338.7,128.0 339.3,127.9 339.9,127.4 340.5,126.7 342.3,123.9 342.9,123.2 343.5,122.9 344.1,122.8 344.7,123.2 345.3,123.8 347.1,126.6 347.7,127.4 348.3,127.9 348.9,128.0 349.5,127.8 350.1,127.2 352.5,123.7 353.1,123.1 353.7,122.8 354.3,122.9 354.9,123.4 355.5,124.1 357.3,126.9 357.9,127.6 358.5,127.9 359.1,128.0 359.7,127.6 360.3,127.0 362.1,124.2 362.7,123.4 363.3,122.9 363.9,122.8 364.5,123.0 365.1,123.6 367.5,127.1 368.1,127.7 368.7,128.0 369.3,127.9 369.9,127.4 370.5,126.7 372.3,123.9 372.9,123.2 373.5,122.9 374.1,122.8 374.7,123.2 375.3,123.8 377.1,126.6 377.7,127.3 378.3,127.8 378.9,127.9 379.5,127.7 380.1,127.2 382.5,123.8 383.1,123.4 383.7,123.2 384.3,123.4 384.9,123.8 386.7,125.8 387.3,126.3" fill="none" stroke="#200a0a" stroke-width="0.58"/>
<text x="382.2" y="121.9" font-size="3.1" font-weight="bold" fill="#5656a8" text-anchor="end">0.18</text>
<path d="M392.8,116.3H519.7" stroke="#b4b4b4" stroke-width="0.7"/>
<path d="M519.7,116.3V135.5M392.8,135.5H519.7" fill="none" stroke="#a0a0a0" stroke-width="0.8"/>
<path d="M392.8,116.3V135.5" stroke="#d8d8d8" stroke-width="1"/>
<path d="M392.8,119.4h1M392.8,125.4h1M392.8,131.4h1M519.7,119.4h-1M519.7,131.4h-1" stroke="#999" stroke-width="0.45"/>
<text x="394.3" y="115.9" font-size="2.4" fill="#888">x10⁻⁷</text>
<polyline points="393.3,125.4 402.9,125.4 407.1,125.5 408.3,125.4 410.7,125.1 411.9,125.0 413.1,125.3 414.9,126.4 415.5,126.7 416.1,126.8 416.7,126.7 417.3,126.3 419.7,123.7 420.3,123.3 420.9,123.2 421.5,123.4 422.1,123.9 424.5,127.3 425.1,127.8 425.7,127.9 426.3,127.6 426.9,127.0 428.7,124.1 429.3,123.3 429.9,122.9 430.5,122.9 431.1,123.3 431.7,124.0 433.5,126.9 434.1,127.6 434.7,127.9 435.3,127.8 435.9,127.3 438.3,123.5 438.9,123.0 439.5,122.9 440.1,123.2 440.7,124.0 442.5,127.1 443.1,127.8 443.7,128.0 444.3,127.8 444.9,127.1 446.7,123.9 447.3,123.1 447.9,122.7 448.5,122.7 449.1,123.2 449.7,124.1 451.5,127.3 452.1,127.9 452.7,128.2 453.3,128.0 453.9,127.4 456.3,123.3 456.9,122.7 457.5,122.6 458.1,122.9 458.7,123.6 460.5,126.8 461.1,127.7 461.7,128.1 462.3,128.2 462.9,127.7 463.5,126.9 465.3,123.7 465.9,123.0 466.5,122.6 467.1,122.7 467.7,123.2 468.3,124.1 470.1,127.3 470.7,128.0 471.3,128.2 471.9,128.0 472.5,127.4 474.9,123.3 475.5,122.7 476.1,122.6 476.7,122.9 477.3,123.6 479.1,126.8 479.7,127.7 480.3,128.1 480.9,128.2 481.5,127.7 482.1,126.9 483.9,123.7 484.5,123.0 485.1,122.6 485.7,122.7 486.3,123.2 486.9,124.1 488.7,127.3 489.3,128.0 489.9,128.2 490.5,128.0 491.1,127.4 493.5,123.3 494.1,122.7 494.7,122.6 495.3,122.9 495.9,123.6 497.7,126.8 498.3,127.7 498.9,128.1 499.5,128.2 500.1,127.7 500.7,126.9 502.5,123.7 503.1,123.0 503.7,122.6 504.3,122.7 504.9,123.2 505.5,124.1 507.3,127.3 507.9,127.9 508.5,128.2 509.1,128.0 509.7,127.3 511.5,124.3 512.1,123.4 512.7,122.9 513.3,122.8 513.9,123.1 514.5,123.8 516.3,126.5 516.9,127.1 517.5,127.3 518.1,127.2 518.7,126.8" fill="none" stroke="#c85858" stroke-width="0.45"/>
<polyline points="411.1,124.9 412.3,125.0 412.9,125.2 415.3,126.7 415.9,126.9 416.5,126.9 417.1,126.5 417.7,125.9 419.5,123.8 420.1,123.3 420.7,123.2 421.3,123.4 421.9,123.9 424.3,127.0 424.9,127.5 425.5,127.6 426.1,127.4 426.7,126.9 428.5,124.4 429.1,123.7 429.7,123.2 430.3,123.2 430.9,123.4 431.5,124.1 433.3,126.7 433.9,127.3 434.5,127.6 435.1,127.6 435.7,127.2 436.3,126.5 438.1,123.8 438.7,123.2 439.3,123.0 439.9,123.2 440.5,123.8 442.3,127.0 442.9,127.8 443.5,128.3 444.1,128.2 444.7,127.6 445.3,126.6 447.1,123.0 447.7,122.3 448.3,122.2 448.9,122.6 449.5,123.4 451.3,127.2 451.9,128.1 452.5,128.6 453.1,128.6 453.7,128.1 454.3,127.1 456.1,123.3 456.7,122.5 457.3,122.1 457.9,122.3 458.5,122.9 460.9,127.7 461.5,128.5 462.1,128.7 462.7,128.4 463.3,127.6 465.1,123.9 465.7,122.8 466.3,122.2 466.9,122.1 467.5,122.6 468.1,123.4 469.9,127.2 470.5,128.1 471.1,128.6 471.7,128.6 472.3,128.1 472.9,127.1 474.7,123.3 475.3,122.5 475.9,122.1 476.5,122.3 477.1,122.9 479.5,127.7 480.1,128.5 480.7,128.7 481.3,128.4 481.9,127.6 483.7,123.9 484.3,122.8 484.9,122.2 485.5,122.1 486.1,122.6 486.7,123.4 488.5,127.2 489.1,128.1 489.7,128.6 490.3,128.6 490.9,128.1 491.5,127.1 493.3,123.3 493.9,122.5 494.5,122.1 495.1,122.3 495.7,122.9 498.1,127.7 498.7,128.5 499.3,128.7 499.9,128.4 500.5,127.6 502.3,123.9 502.9,122.9 503.5,122.2 504.1,122.1 504.7,122.6 505.3,123.4 507.1,127.2 507.7,128.1 508.3,128.6 508.9,128.6 509.5,128.0 510.1,127.0 511.9,123.4 512.5,122.6 513.1,122.3 513.7,122.5 514.3,123.2 516.1,126.4 516.7,127.2 517.3,127.6 517.9,127.6 518.5,127.3 519.1,126.6" fill="none" stroke="#200a0a" stroke-width="0.58"/>
<text x="513.7" y="121.9" font-size="3.1" font-weight="bold" fill="#5656a8" text-anchor="end">0.20</text>
<path d="M524.5,116.3H651.8" stroke="#b4b4b4" stroke-width="0.7"/>
<path d="M651.8,116.3V135.5M524.5,135.5H651.8" fill="none" stroke="#a0a0a0" stroke-width="0.8"/>
<path d="M524.5,116.3V135.5" stroke="#d8d8d8" stroke-width="1"/>
<path d="M524.5,119.4h1M524.5,125.4h1M524.5,131.4h1M651.8,119.4h-1M651.8,131.4h-1" stroke="#999" stroke-width="0.45"/>
<text x="526" y="115.9" font-size="2.4" fill="#888">x10⁻⁷</text>
<polyline points="525,125.4 560.4,125.4 562.2,125.2 564,124.6 564.6,124.5 565.2,124.5 565.8,124.8 566.4,125.2 568.2,126.9 568.8,127.3 569.4,127.4 570,127.3 570.6,126.9 573,124.2 573.6,123.7 574.2,123.4 574.8,123.3 575.4,123.5 576,123.9 577.8,125.6 579,126.4 580.8,127.1 582,127.3 582.6,127.4 583.2,127.3 583.8,126.9 584.4,126.3 586.8,122.7 587.4,122.2 588,122.2 588.6,122.5 589.2,123.2 591.6,127.8 592.2,128.5 592.8,128.9 593.4,128.8 594,128.3 594.6,127.4 596.4,123.8 597,122.8 597.6,122.1 598.2,121.8 598.8,122.0 599.4,122.7 600,123.7 601.8,127.3 602.4,128.3 603,128.8 603.6,129.0 604.2,128.6 604.8,127.9 607.2,123.2 607.8,122.4 608.4,121.9 609,121.9 609.6,122.3 610.2,123.1 612.6,127.8 613.2,128.5 613.8,128.9 614.4,128.8 615,128.2 615.6,127.3 617.4,123.9 618,123.0 618.6,122.5 619.2,122.3 619.8,122.6 620.4,123.2 622.2,125.9 622.8,126.5 623.4,126.9 624,127.0 624.6,126.9 625.2,126.6 627,125.4 627.6,125.2 628.8,125.0 631.8,125.4 633.6,125.5 651,125.4" fill="none" stroke="#c85858" stroke-width="0.45"/>
<polyline points="559.1,125.5 560.9,125.8 561.5,125.8 562.1,125.6 562.7,125.0 563.3,124.1 564.5,121.7 565.1,120.8 565.7,120.5 566.3,121.1 566.9,122.7 568.7,130.2 569.3,132.3 569.9,133.6 570.5,133.7 571.1,132.8 571.7,130.9 574.1,119.7 574.7,117.8 575.3,116.9 575.9,117.1 576.5,118.3 577.1,120.3 578.9,127.9 579.5,129.6 580.1,130.5 580.7,130.7 581.3,130.4 581.9,129.7 583.7,127.3 586.7,122.3 587.3,121.7 587.9,121.6 588.5,121.9 589.1,122.7 591.5,128.0 592.1,129.0 592.7,129.5 593.3,129.5 593.9,128.9 594.5,127.9 596.9,122.4 597.5,121.6 598.1,121.2 598.7,121.4 599.3,122.1 599.9,123.2 601.7,127.5 602.3,128.6 602.9,129.4 603.5,129.6 604.1,129.3 604.7,128.5 605.3,127.3 607.1,123.0 607.7,122.0 608.3,121.3 608.9,121.2 609.5,121.7 610.1,122.6 612.5,128.1 613.1,129.0 613.7,129.5 614.3,129.4 614.9,128.8 615.5,127.8 617.3,123.8 617.9,122.7 618.5,122.0 619.1,121.8 619.7,122.1 620.3,122.7 622.1,125.8 622.7,126.7 623.3,127.2 623.9,127.3 624.5,127.2 625.1,126.9 626.3,125.9 627.5,125.2 628.7,125.0 632.3,125.4 633.5,125.5 650.9,125.4" fill="none" stroke="#200a0a" stroke-width="0.58"/>
<text x="645.8" y="121.9" font-size="3.1" font-weight="bold" fill="#5656a8" text-anchor="end">0.08</text>
<text x="246" y="145.92" font-size="3.4" font-weight="bold" fill="#444" text-anchor="middle">AMT</text>
<path d="M261.5,137.3H388.2" stroke="#b4b4b4" stroke-width="0.7"/>
<path d="M388.2,137.3V155.3M261.5,155.3H388.2" fill="none" stroke="#a0a0a0" stroke-width="0.8"/>
<path d="M261.5,137.3V155.3" stroke="#d8d8d8" stroke-width="1"/>
<path d="M261.5,140.1h1M261.5,146.1h1M261.5,152.1h1M388.2,140.1h-1M388.2,152.1h-1" stroke="#999" stroke-width="0.45"/>
<text x="260.3" y="141.2" font-size="3.1" fill="#555" text-anchor="end">2</text>
<text x="260.3" y="147.2" font-size="3.1" fill="#555" text-anchor="end">0</text>
<text x="260.3" y="153.2" font-size="3.1" fill="#555" text-anchor="end">-2</text>
<text x="263" y="136.9" font-size="2.4" fill="#888">x10⁻⁷</text>
<polyline points="262,146.1 280,146.1 283.6,146.4 284.8,146.4 286,146.0 287.8,144.9 288.4,144.7 289,144.6 289.6,144.8 290.2,145.4 292.6,149.0 293.2,149.5 293.8,149.5 294.4,148.9 295,147.8 296.8,143.1 297.4,141.9 298,141.3 298.6,141.3 299.2,142.1 299.8,143.5 301.6,149.1 302.2,150.5 302.8,151.3 303.4,151.3 304,150.6 304.6,149.2 306.4,143.5 307,142.0 307.6,141.0 308.2,140.8 308.8,141.4 309.4,142.6 311.2,148.2 311.8,149.8 312.4,150.9 313,151.2 313.6,150.8 314.2,149.7 316,144.7 316.6,143.3 317.2,142.4 317.8,142.1 318.4,142.5 319,143.3 320.8,146.8 321.4,147.6 322,148.0 322.6,148.1 323.2,147.9 323.8,147.5 325.6,146.0 326.2,145.6 327.4,145.3 328,145.3 329.2,145.5 330.4,145.9 332.2,146.8 333.4,147.0 334,146.9 334.6,146.7 336.4,145.7 337,145.4 337.6,145.3 338.2,145.3 338.8,145.5 340.6,146.3 341.8,146.7 343,146.6 346,145.6 347.2,145.5 348.4,145.7 351.4,146.9 352.6,147.2 353.2,147.2 353.8,147.0 354.4,146.6 356.8,144.6 357.4,144.3 358,144.3 358.6,144.6 359.2,145.1 361,147.1 361.6,147.7 362.2,147.9 362.8,148.0 363.4,147.7 364,147.3 365.8,145.5 366.4,145.1 367,144.9 367.6,144.8 368.8,145.1 371.8,146.5 373,146.8 373.6,146.8 374.8,146.6 377.2,145.7 378.4,145.5 379.6,145.7 381.4,146.5 382.6,146.7 383.8,146.5 385.6,145.8 386.2,145.6 387.4,145.7" fill="none" stroke="#c85858" stroke-width="0.45"/>
<polyline points="280.4,146.1 282.2,146.2 284,146.4 285.2,146.5 285.8,146.4 286.4,146.1 288.8,144.4 289.4,144.2 290,144.3 290.6,144.9 291.2,145.7 293,149.2 293.6,150.0 294.2,150.2 294.8,149.8 295.4,148.8 297.8,141.8 298.4,140.8 299,140.6 299.6,141.1 300.2,142.4 302.6,150.4 303.2,151.6 303.8,152.0 304.4,151.5 305,150.3 307.4,142.2 308,140.8 308.6,140.2 309.2,140.5 309.8,141.5 310.4,143.2 312.2,149.5 312.8,150.9 313.4,151.6 314,151.5 314.6,150.6 315.2,149.1 317,143.7 317.6,142.5 318.2,142.0 318.8,142.1 319.4,142.8 321.2,146.3 321.8,147.3 322.4,147.9 323,148.1 323.6,148.0 324.2,147.6 326,146.0 326.6,145.6 327.2,145.3 327.8,145.2 328.4,145.2 329.6,145.4 332,146.8 332.6,147.0 333.2,147.2 333.8,147.1 334.4,146.9 336.8,145.4 337.4,145.2 338,145.2 338.6,145.3 339.2,145.5 341,146.6 341.6,146.8 342.2,146.8 343.4,146.5 345.8,145.5 346.4,145.4 347.6,145.4 348.8,145.8 351.8,147.2 352.4,147.4 353,147.4 353.6,147.2 354.2,146.9 356.6,144.5 357.2,144.1 357.8,144.0 358.4,144.2 359,144.6 361.4,147.7 362,148.2 362.6,148.3 363.2,148.1 363.8,147.7 365.6,145.7 366.2,145.1 366.8,144.8 367.4,144.6 368,144.7 368.6,144.9 371.6,146.5 372.8,146.9 373.4,146.9 374.6,146.8 377,145.7 378.2,145.4 378.8,145.4 379.4,145.6 381.2,146.4 382.4,146.8 383,146.8 383.6,146.6 386,145.6 387.2,145.5" fill="none" stroke="#200a0a" stroke-width="0.58"/>
<text x="382.2" y="142.9" font-size="3.1" font-weight="bold" fill="#5656a8" text-anchor="end">0.73</text>
<path d="M392.8,137.3H519.7" stroke="#b4b4b4" stroke-width="0.7"/>
<path d="M519.7,137.3V155.3M392.8,155.3H519.7" fill="none" stroke="#a0a0a0" stroke-width="0.8"/>
<path d="M392.8,137.3V155.3" stroke="#d8d8d8" stroke-width="1"/>
<path d="M392.8,140.1h1M392.8,146.1h1M392.8,152.1h1M519.7,140.1h-1M519.7,152.1h-1" stroke="#999" stroke-width="0.45"/>
<text x="394.3" y="136.9" font-size="2.4" fill="#888">x10⁻⁷</text>
<polyline points="393.3,146.1 424.5,146.1 425.7,146.1 428.1,145.6 428.7,145.6 429.3,145.7 429.9,146.0 431.7,147.4 432.3,147.8 432.9,147.9 433.5,147.8 434.1,147.2 436.5,143.6 437.1,143.1 437.7,143.1 438.3,143.7 438.9,144.6 440.7,148.3 441.3,149.1 441.9,149.5 442.5,149.3 443.1,148.6 443.7,147.6 445.5,143.8 446.1,143.0 446.7,142.7 447.3,142.9 447.9,143.7 450.3,148.4 450.9,149.1 451.5,149.3 452.1,149.0 452.7,148.2 454.5,144.9 455.1,144.1 455.7,143.8 456.3,143.8 456.9,144.3 458.7,146.6 459.3,147.2 459.9,147.4 460.5,147.4 461.1,147.1 462.9,145.8 463.5,145.5 464.1,145.4 465.3,145.6 467.1,146.2 468.3,146.4 469.5,146.4 472.5,146.0 473.7,145.9 474.9,146.0 476.7,146.3 477.9,146.4 479.1,146.2 480.9,145.7 482.1,145.6 483.3,145.9 485.1,146.6 486.3,146.7 487.5,146.5 489.9,145.6 491.1,145.5 492.3,145.7 495.3,146.7 496.5,146.8 497.7,146.5 499.5,145.6 500.1,145.4 500.7,145.3 501.3,145.4 501.9,145.6 503.7,146.6 504.3,146.8 504.9,146.8 505.5,146.6 507.3,145.7 507.9,145.5 508.5,145.5 509.7,145.8 511.5,146.5 512.7,146.7 513.9,146.5 516.9,145.6 517.5,145.5 518.7,145.6" fill="none" stroke="#c85858" stroke-width="0.45"/>
<polyline points="423,146.1 425.4,146.1 426.6,145.9 428.4,145.4 429,145.4 429.6,145.5 430.2,145.8 430.8,146.3 432.6,148.2 433.2,148.4 433.8,148.3 434.4,147.7 435,146.8 436.8,143.2 437.4,142.6 438,142.5 438.6,143.0 439.2,144.0 441,148.4 441.6,149.5 442.2,150.0 442.8,150.0 443.4,149.3 444,148.2 445.8,143.7 446.4,142.7 447,142.1 447.6,142.2 448.2,143.0 448.8,144.2 450.6,148.5 451.2,149.4 451.8,149.8 452.4,149.5 453,148.7 454.8,145.0 455.4,144.1 456,143.6 456.6,143.6 457.2,144.0 459,146.6 459.6,147.2 460.2,147.5 460.8,147.4 461.4,147.1 463.2,145.6 463.8,145.4 464.4,145.3 465,145.4 467.4,146.3 468.6,146.5 469.8,146.4 473.4,145.8 474.6,145.9 477,146.4 478.2,146.5 478.8,146.3 480.6,145.7 481.8,145.5 483,145.7 484.8,146.6 486,146.9 487.2,146.6 489.6,145.6 490.8,145.4 491.4,145.4 492.6,145.7 495,146.7 496.2,147.0 496.8,146.9 497.4,146.8 499.8,145.4 500.4,145.2 501,145.2 501.6,145.4 503.4,146.5 504,146.8 504.6,146.9 505.2,146.8 507.6,145.5 508.2,145.4 508.8,145.4 509.4,145.6 511.2,146.5 512.4,146.8 513.6,146.7 516,145.8 517.2,145.5 517.8,145.4 519,145.6" fill="none" stroke="#200a0a" stroke-width="0.58"/>
<text x="513.7" y="142.9" font-size="3.1" font-weight="bold" fill="#5656a8" text-anchor="end">0.47</text>
<path d="M524.5,137.3H651.8" stroke="#b4b4b4" stroke-width="0.7"/>
<path d="M651.8,137.3V155.3M524.5,155.3H651.8" fill="none" stroke="#a0a0a0" stroke-width="0.8"/>
<path d="M524.5,137.3V155.3" stroke="#d8d8d8" stroke-width="1"/>
<path d="M524.5,140.1h1M524.5,146.1h1M524.5,152.1h1M651.8,140.1h-1M651.8,152.1h-1" stroke="#999" stroke-width="0.45"/>
<text x="526" y="136.9" font-size="2.4" fill="#888">x10⁻⁷</text>
<polyline points="525,146.1 561.6,146.1 565.8,146.4 567,146.2 569.4,145.0 570,144.8 570.6,144.7 571.2,144.9 571.8,145.3 574.2,147.6 574.8,148.0 575.4,148.2 576,148.1 576.6,147.7 577.2,147.2 579,145.2 579.6,144.6 580.2,144.3 580.8,144.2 581.4,144.3 582,144.7 583.8,146.4 584.4,146.8 585,147.0 585.6,146.9 586.2,146.6 588,145.3 588.6,145.2 589.2,145.5 589.8,146.0 591.6,148.6 592.2,149.2 592.8,149.4 593.4,149.1 594,148.4 594.6,147.3 596.4,143.4 597,142.5 597.6,142.0 598.2,142.0 598.8,142.5 599.4,143.4 601.8,148.7 602.4,149.7 603,150.2 603.6,150.3 604.2,149.9 604.8,149.0 607.2,143.7 607.8,142.6 608.4,142.0 609,141.9 609.6,142.2 610.2,143.0 610.8,144.1 612.6,148.3 613.2,149.4 613.8,150.1 614.4,150.3 615,150.1 615.6,149.4 616.2,148.3 618,144.1 618.6,143.0 619.2,142.3 619.8,142.0 620.4,142.2 621,142.8 621.6,143.9 623.4,147.7 624,148.7 624.6,149.3 625.2,149.5 625.8,149.3 626.4,148.7 628.2,146.0 628.8,145.3 629.4,144.8 630,144.6 630.6,144.7 631.2,144.9 633.6,146.1 634.8,146.3 636,146.3 640.2,146.1 651,146.1" fill="none" stroke="#c85858" stroke-width="0.45"/>
<polyline points="561.4,146.0 563.2,146.2 564.4,146.7 565.6,147.5 566.2,147.7 566.8,147.7 567.4,147.4 568,146.5 568.6,145.3 570.4,140.7 571,139.9 571.6,139.8 572.2,140.7 572.8,142.3 575.2,152.2 575.8,153.8 576.4,154.5 577,154.2 577.6,152.9 578.2,150.8 580,142.6 580.6,140.3 581.2,138.8 581.8,138.1 582.4,138.3 583,139.5 583.6,141.4 585.4,148.1 586,149.6 586.6,150.4 587.2,150.4 587.8,149.9 589,148.2 589.6,147.5 590.2,147.3 590.8,147.4 592.6,148.8 593.2,148.9 593.8,148.5 594.4,147.6 596.2,143.4 596.8,142.2 597.4,141.5 598,141.2 598.6,141.6 599.2,142.5 599.8,143.8 601.6,148.7 602.2,150.0 602.8,150.8 603.4,151.1 604,150.8 604.6,149.9 605.2,148.6 607,143.7 607.6,142.4 608.2,141.5 608.8,141.1 609.4,141.3 610,142.1 610.6,143.3 612.4,148.2 613,149.6 613.6,150.6 614.2,151.1 614.8,150.9 615.4,150.3 616,149.1 618.4,142.8 619,141.8 619.6,141.3 620.2,141.3 620.8,141.9 621.4,143.0 623.2,147.5 623.8,148.8 624.4,149.7 625,150.1 625.6,150.0 626.2,149.4 628.6,145.4 629.2,144.8 629.8,144.4 630.4,144.4 631,144.6 633.4,146.0 634,146.2 635.2,146.4 640,146.1 650.8,146.1" fill="none" stroke="#200a0a" stroke-width="0.58"/>
<text x="645.8" y="142.9" font-size="3.1" font-weight="bold" fill="#5656a8" text-anchor="end">0.15</text>
<text x="246" y="169.02" font-size="3.4" font-weight="bold" fill="#444" text-anchor="middle">KPRO</text>
<path d="M261.5,159.8H388.2" stroke="#b4b4b4" stroke-width="0.7"/>
<path d="M388.2,159.8V179M261.5,179H388.2" fill="none" stroke="#a0a0a0" stroke-width="0.8"/>
<path d="M261.5,159.8V179" stroke="#d8d8d8" stroke-width="1"/>
<path d="M261.5,163.6h1M261.5,169.6h1M261.5,175.6h1M388.2,163.6h-1M388.2,175.6h-1" stroke="#999" stroke-width="0.45"/>
<text x="260.3" y="164.7" font-size="3.1" fill="#555" text-anchor="end">2</text>
<text x="260.3" y="170.7" font-size="3.1" fill="#555" text-anchor="end">0</text>
<text x="260.3" y="176.7" font-size="3.1" fill="#555" text-anchor="end">-2</text>
<text x="263" y="159.4" font-size="2.4" fill="#888">x10⁻⁷</text>
<polyline points="262,169.6 296.8,169.6 297.4,169.6 299.2,170.0 299.8,169.8 301.6,168.4 302.2,168.6 302.8,169.5 303.4,170.9 304,171.8 304.6,171.7 305.2,170.5 306.4,167.0 307,166.7 307.6,167.8 308.8,171.8 309.4,172.7 310,172.1 311.2,168.1 311.8,166.7 312.4,166.7 313,168.1 314.2,172.0 314.8,172.6 315.4,171.7 316.6,168.0 317.2,167.2 317.8,167.6 319,170.2 319.6,170.8 320.2,170.6 321.4,169.5 322,169.4 323.2,169.7 323.8,169.7 325,169.4 325.6,169.3 326.2,169.3 328,169.9 328.6,170.0 329.2,169.9 330.4,169.4 331,169.3 331.6,169.4 332.8,169.8 333.4,169.9 335.2,169.4 335.8,169.4 337.6,169.8 338.2,169.8 340.6,169.2 341.2,169.2 343,170.3 343.6,170.3 345.4,168.9 346,168.8 347.8,170.1 348.4,170.2 350.2,169.4 350.8,169.3 351.4,169.3 352,169.4 353.2,169.9 353.8,169.9 355.6,169.2 356.2,169.3 357.4,170.0 358,170.1 358.6,169.9 359.8,169.2 360.4,169.1 361,169.3 362.2,169.8 362.8,169.9 363.4,170.0 364,169.9 365.8,169.2 366.4,169.3 368.2,169.9 368.8,169.9 370,169.5 370.6,169.4 371.2,169.4 372.4,169.8 373,169.8 374.8,169.4 376,169.4 377.8,170.0 378.4,170.1 379,169.9 380.2,169.0 380.8,168.9 381.4,169.1 382.6,170.1 383.2,170.3 383.8,170.1 385,169.4 385.6,169.2 386.2,169.3 387.4,169.6" fill="none" stroke="#c85858" stroke-width="0.45"/>
<polyline points="296.2,169.6 297.4,169.6 299.2,170.0 299.8,169.9 300.4,169.5 301.6,168.3 302.2,168.4 302.8,169.3 304,171.9 304.6,172.0 305.2,170.9 306.4,167.1 307,166.5 307.6,167.3 308.8,171.6 309.4,172.8 310,172.5 311.8,166.7 312.4,166.4 313,167.6 314.2,171.9 314.8,172.7 315.4,172.1 316.6,168.3 317.2,167.2 317.8,167.4 319,170.0 319.6,170.7 320.2,170.7 321.4,169.6 322,169.5 323.2,169.7 323.8,169.7 325,169.3 325.6,169.2 326.2,169.3 328,169.9 328.6,170.0 329.2,169.9 330.4,169.3 331,169.2 331.6,169.3 332.8,169.8 333.4,169.9 335.2,169.4 335.8,169.4 337.6,169.8 338.2,169.8 340.6,169.1 341.2,169.2 341.8,169.5 343,170.4 343.6,170.4 345.4,168.7 346,168.7 347.2,169.8 347.8,170.2 348.4,170.3 350.2,169.4 350.8,169.2 351.4,169.2 352,169.4 353.2,169.9 353.8,170.0 355.6,169.1 356.2,169.2 357.4,170.1 358,170.2 358.6,170.0 359.8,169.1 360.4,169.0 361,169.2 362.2,169.8 362.8,170.0 363.4,170.0 364,169.9 365.8,169.2 366.4,169.2 368.2,170.0 368.8,170.0 370,169.5 370.6,169.3 371.2,169.4 372.4,169.8 373,169.8 374.8,169.4 376,169.4 376.6,169.5 377.8,170.1 378.4,170.2 379,170.0 380.2,168.9 380.8,168.7 381.4,169.0 382.6,170.2 383.2,170.4 383.8,170.2 385,169.3 385.6,169.2 386.2,169.2 387.4,169.6" fill="none" stroke="#200a0a" stroke-width="0.58"/>
<text x="382.2" y="165.4" font-size="3.1" font-weight="bold" fill="#5656a8" text-anchor="end">0.92</text>
<path d="M392.8,159.8H519.7" stroke="#b4b4b4" stroke-width="0.7"/>
<path d="M519.7,159.8V179M392.8,179H519.7" fill="none" stroke="#a0a0a0" stroke-width="0.8"/>
<path d="M392.8,159.8V179" stroke="#d8d8d8" stroke-width="1"/>
<path d="M392.8,163.6h1M392.8,169.6h1M392.8,175.6h1M519.7,163.6h-1M519.7,175.6h-1" stroke="#999" stroke-width="0.45"/>
<text x="394.3" y="159.4" font-size="2.4" fill="#888">x10⁻⁷</text>
<polyline points="393.3,169.6 428.1,169.6 430.5,169.9 431.1,169.7 432.3,168.0 432.9,167.6 433.5,168.3 434.1,170.4 434.7,172.9 435.3,174.5 435.9,173.8 436.5,170.7 437.1,166.5 437.7,163.3 438.3,162.9 438.9,165.6 440.1,174.9 440.7,177.1 441.3,175.8 441.9,171.8 442.5,166.8 443.1,163.0 443.7,162.2 444.3,164.8 445.5,174.2 446.1,176.6 446.7,175.8 447.3,172.2 447.9,167.9 448.5,164.9 449.1,164.4 449.7,166.3 450.3,169.1 450.9,171.3 451.5,172.1 452.1,171.6 453.3,169.7 453.9,169.2 454.5,169.0 455.7,168.7 456.3,168.8 456.9,169.2 458.1,170.5 458.7,170.8 459.3,170.6 461.1,168.8 461.7,168.6 462.3,168.8 463.5,169.8 464.1,170.0 464.7,170.1 467.1,169.4 467.7,169.3 468.9,169.5 470.1,169.9 470.7,170.0 471.3,169.9 473.1,169.0 473.7,169.0 474.3,169.2 475.5,170.0 476.1,170.3 476.7,170.2 478.5,169.3 479.1,169.1 479.7,169.1 480.3,169.2 482.1,169.9 483.3,170.1 483.9,169.9 485.7,169.1 486.3,169.1 486.9,169.2 488.1,169.9 488.7,170.1 489.3,170.0 490.5,169.3 491.1,169.1 491.7,169.1 493.5,170.1 494.1,170.2 494.7,170.1 496.5,169.1 497.1,168.9 497.7,168.8 498.3,169.0 498.9,169.4 500.1,170.5 500.7,170.8 501.3,170.7 501.9,170.1 503.1,168.6 503.7,168.3 504.3,168.5 505.5,169.9 506.1,170.3 506.7,170.5 507.3,170.3 508.5,169.5 509.1,169.3 509.7,169.2 512.7,169.9 513.3,169.9 515.1,169.3 515.7,169.2 516.3,169.3 517.5,169.8 518.1,170.0 518.7,170.0" fill="none" stroke="#c85858" stroke-width="0.45"/>
<polyline points="428.6,169.6 430.4,170.0 431,169.9 431.6,169.2 432.8,167.4 433.4,167.6 434,169.3 435.2,174.4 435.8,174.8 436.4,172.4 437.6,164.1 438.2,162.2 438.8,163.8 440,173.4 440.6,176.9 441.2,177.1 441.8,174.0 443,164.0 443.6,161.7 444.2,163.0 444.8,167.3 445.4,172.5 446,176.3 446.6,176.8 447.2,174.1 448.4,165.8 449,164.1 449.6,165.2 450.8,170.6 451.4,172.0 452,172.0 453.2,170.1 453.8,169.4 454.4,169.0 455.6,168.6 456.2,168.6 456.8,169.0 458,170.5 458.6,171.0 459.2,170.9 459.8,170.3 461,168.8 461.6,168.4 462.2,168.6 463.4,169.7 464,170.1 464.6,170.2 465.2,170.1 467,169.4 467.6,169.3 468.2,169.3 468.8,169.4 470.6,170.1 471.2,170.0 473,169.0 473.6,168.9 474.2,169.1 475.4,170.0 476,170.3 476.6,170.4 477.2,170.1 478.4,169.3 479,169.0 479.6,169.0 480.2,169.1 482,169.9 482.6,170.1 483.2,170.2 483.8,170.0 485.6,169.1 486.2,169.0 486.8,169.1 488,169.9 488.6,170.2 489.2,170.1 491,169.1 491.6,169.0 492.2,169.3 493.4,170.1 494,170.3 494.6,170.2 496.4,169.1 497,168.8 497.6,168.7 498.2,168.8 498.8,169.3 500,170.5 500.6,171.0 501.2,170.9 501.8,170.3 503,168.6 503.6,168.1 504.2,168.3 506,170.4 506.6,170.6 507.2,170.4 508.4,169.6 509,169.2 509.6,169.1 510.2,169.2 512.6,169.9 513.2,169.9 513.8,169.8 515,169.3 515.6,169.1 516.2,169.2 518,170.0 518.6,170.0 519.2,169.9" fill="none" stroke="#200a0a" stroke-width="0.58"/>
<text x="513.7" y="165.4" font-size="3.1" font-weight="bold" fill="#5656a8" text-anchor="end">0.95</text>
<path d="M524.5,159.8H651.8" stroke="#b4b4b4" stroke-width="0.7"/>
<path d="M651.8,159.8V179M524.5,179H651.8" fill="none" stroke="#a0a0a0" stroke-width="0.8"/>
<path d="M524.5,159.8V179" stroke="#d8d8d8" stroke-width="1"/>
<path d="M524.5,163.6h1M524.5,169.6h1M524.5,175.6h1M651.8,163.6h-1M651.8,175.6h-1" stroke="#999" stroke-width="0.45"/>
<text x="526" y="159.4" font-size="2.4" fill="#888">x10⁻⁷</text>
<polyline points="525,169.6 563.4,169.6 565.8,169.8 566.4,169.7 567.6,169.0 568.2,168.9 568.8,169.3 570,170.8 570.6,171.0 571.2,170.3 572.4,168.1 573,167.8 573.6,168.6 574.8,171.1 575.4,171.5 576,170.9 577.2,168.3 577.8,167.7 578.4,168.2 579.6,170.7 580.2,171.4 580.8,171.1 582,168.8 582.6,168.1 583.2,168.3 584.4,169.9 585,170.4 585.6,170.4 586.8,169.7 587.4,169.5 588.6,169.3 589.8,169.4 591,169.9 591.6,169.9 593.4,169.3 594,169.3 595.2,169.9 595.8,170.0 596.4,169.9 597.6,169.3 598.2,169.2 598.8,169.2 600.6,170.0 601.2,170.1 601.8,170.0 603.6,169.0 604.2,169.1 605.4,169.8 606,170.0 606.6,170.0 607.8,169.5 608.4,169.4 610.8,169.7 613.8,169.5 616.2,169.9 616.8,169.8 618,169.3 618.6,169.2 619.2,169.4 620.4,169.9 621,170.0 621.6,169.9 623.4,169.3 624,169.3 624.6,169.3 626.4,170.0 627,169.9 628.2,169.4 628.8,169.2 629.4,169.4 630.6,169.9 631.2,169.9 633,169.2 633.6,169.2 635.4,170.0 636,170.0 636.6,169.9 638.4,169.1 639,169.1 639.6,169.3 640.8,170.0 641.4,170.1 642,169.9 643.2,169.3 643.8,169.3 645.6,169.7 648.6,169.5 651,169.7" fill="none" stroke="#c85858" stroke-width="0.45"/>
<polyline points="562.9,169.6 564.1,169.6 565.9,169.8 566.5,169.7 567.7,168.9 568.3,168.8 568.9,169.3 570.1,170.9 570.7,171.1 571.3,170.3 572.5,168.0 573.1,167.7 573.7,168.5 574.9,171.2 575.5,171.6 576.1,170.9 577.3,168.2 577.9,167.6 578.5,168.1 579.7,170.8 580.3,171.5 580.9,171.2 582.1,168.7 582.7,168.0 583.3,168.2 584.5,170.0 585.1,170.5 585.7,170.4 586.9,169.7 588.1,169.3 589.3,169.3 589.9,169.4 591.1,169.9 591.7,169.9 592.9,169.4 593.5,169.2 594.1,169.3 595.3,170.0 595.9,170.1 597.7,169.2 598.3,169.1 598.9,169.2 600.7,170.1 601.3,170.2 601.9,170.0 603.1,169.2 603.7,168.9 604.3,169.1 605.5,169.9 606.1,170.1 606.7,170.0 607.9,169.4 608.5,169.4 610.9,169.7 613.9,169.4 615.7,169.9 616.3,169.9 618.1,169.2 618.7,169.2 620.5,170.0 621.1,170.0 621.7,169.9 623.5,169.3 624.1,169.2 624.7,169.3 625.9,169.9 626.5,170.0 627.1,170.0 628.3,169.3 628.9,169.2 629.5,169.4 630.7,170.0 631.3,170.0 632.5,169.3 633.1,169.1 633.7,169.2 634.9,169.9 635.5,170.1 636.1,170.1 636.7,169.9 638.5,169.0 639.1,169.0 640.9,170.2 641.5,170.2 643.3,169.2 643.9,169.2 645.7,169.8 648.7,169.5 651.1,169.7" fill="none" stroke="#200a0a" stroke-width="0.58"/>
<text x="645.8" y="165.4" font-size="3.1" font-weight="bold" fill="#5656a8" text-anchor="end">0.80</text>
<text x="262.8" y="292.11" font-size="4.2" font-weight="bold" fill="#444" text-anchor="middle">PVO</text>
<path d="M278,283.1H400.4" stroke="#b4b4b4" stroke-width="0.7"/>
<path d="M400.4,283.1V302.5M278,302.5H400.4" fill="none" stroke="#a0a0a0" stroke-width="0.8"/>
<path d="M278,283.1V302.5" stroke="#d8d8d8" stroke-width="1"/>
<path d="M278,286.8h1M278,292.8h1M278,298.8h1M400.4,286.8h-1M400.4,298.8h-1" stroke="#999" stroke-width="0.45"/>
<text x="276.8" y="287.9" font-size="3.1" fill="#555" text-anchor="end">2</text>
<text x="276.8" y="293.9" font-size="3.1" fill="#555" text-anchor="end">0</text>
<text x="276.8" y="299.9" font-size="3.1" fill="#555" text-anchor="end">-2</text>
<text x="279.5" y="301.9" font-size="2.4" fill="#888">x10⁻⁷</text>
<polyline points="278.5,292.8 294.1,292.9 295.3,292.8 296.5,292.5 297.1,292.5 297.7,292.8 298.9,293.8 299.5,293.9 300.1,293.2 301.3,290.5 301.9,290.0 302.5,291.1 303.7,296.4 304.3,297.8 304.9,296.7 305.5,293.2 306.1,288.8 306.7,286.0 307.3,286.4 307.9,290.3 308.5,295.8 309.1,300.3 309.7,301.1 310.3,297.8 311.5,286.1 312.1,283.7 312.7,285.7 313.9,297.8 314.5,301.7 315.1,301.3 315.7,296.6 316.3,290.1 316.9,284.9 317.5,283.6 318.1,286.8 319.3,299.1 319.9,302.0 320.5,300.4 321.7,288.7 322.3,284.5 322.9,284.6 323.5,288.6 324.1,294.5 324.7,299.2 325.3,300.5 325.9,298.0 327.1,288.9 327.7,286.9 328.3,287.9 329.5,294.3 330.1,296.3 330.7,296.4 331.3,294.9 332.5,291.0 333.1,290.5 333.7,291.4 334.3,292.8 334.9,293.8 335.5,293.7 336.7,292.6 337.3,292.5 339.1,293.1 339.7,293.0 340.9,292.3 341.5,292.5 342.7,293.5 343.3,293.4 344.5,292.1 345.1,292.0 346.3,293.2 346.9,293.5 347.5,293.4 348.7,292.4 349.3,292.0 349.9,292.2 351.1,293.6 351.7,293.4 352.3,292.6 352.9,292.0 353.5,292.4 354.1,293.3 354.7,293.7 355.3,293.2 355.9,292.3 356.5,291.8 357.1,292.0 358.3,293.5 358.9,294.1 359.5,293.9 360.7,291.5 361.3,291.3 361.9,292.3 362.5,293.6 363.1,294.1 363.7,293.5 364.3,292.5 364.9,292.1 365.5,292.3 366.1,292.8 366.7,293.1 367.3,293.1 369.1,292.4 369.7,292.6 370.3,293.1 370.9,293.4 371.5,293.2 372.1,292.5 372.7,292.0 373.3,292.2 374.5,293.5 375.1,293.6 376.3,292.5 376.9,292.1 377.5,292.1 378.1,292.5 378.7,293.2 379.3,293.7 379.9,293.4 380.5,292.5 381.1,291.9 381.7,292.3 382.3,293.2 382.9,293.6 383.5,293.1 384.1,292.2 384.7,291.9 385.3,292.4 385.9,293.2 386.5,293.8 387.1,293.7 387.7,293.1 388.3,292.2 388.9,291.4 389.5,291.6 390.7,294.1 391.3,294.3 392.5,292.1 393.1,291.7 394.3,293.0 394.9,293.3 396.7,292.6 397.3,292.6 399.1,293.1 399.7,292.9" fill="none" stroke="#c85858" stroke-width="0.45"/>
<polyline points="294.5,292.9 295.7,292.8 296.9,292.4 297.5,292.4 298.1,292.8 299.3,294.1 299.9,294.2 300.5,293.4 301.7,290.1 302.3,289.4 302.9,290.5 304.1,296.6 304.7,298.5 305.3,297.5 305.9,293.8 306.5,288.9 307.1,285.4 307.7,285.5 308.3,289.4 309.5,300.5 310.1,301.9 310.7,298.7 311.9,286.2 312.5,283.2 313.1,284.9 314.3,297.3 314.9,301.9 315.5,302.0 316.1,297.5 317.3,284.9 317.9,283.0 318.5,286.0 319.7,298.8 320.3,302.3 320.9,301.1 321.5,295.8 322.1,289.2 322.7,284.5 323.3,284.0 323.9,287.9 325.1,298.9 325.7,300.6 326.3,298.5 327.5,289.3 328.1,287.0 328.7,287.7 329.9,294.0 330.5,296.2 331.1,296.5 331.7,294.9 332.3,292.5 332.9,290.8 333.5,290.7 334.7,293.2 335.3,293.7 335.9,293.4 336.5,292.8 337.1,292.6 337.7,292.6 338.9,293.1 339.5,293.0 340.7,292.2 341.3,292.3 342.5,293.6 343.1,293.6 344.3,292.1 344.9,291.8 345.5,292.3 346.1,293.1 346.7,293.6 347.3,293.6 347.9,293.2 349.1,291.9 349.7,292.0 350.9,293.6 351.5,293.7 352.7,291.9 353.3,292.1 353.9,293.1 354.5,293.9 355.1,293.6 356.3,291.7 356.9,291.7 357.5,292.4 358.7,294.2 359.3,294.2 359.9,293.2 360.5,291.6 361.1,290.9 361.7,291.7 362.3,293.4 362.9,294.3 363.5,293.9 364.1,292.7 364.7,292.0 365.3,292.1 366.5,293.0 367.1,293.1 367.7,293.0 368.9,292.4 369.5,292.5 370.7,293.5 371.3,293.4 372.5,292.0 373.1,291.9 374.3,293.5 374.9,293.7 375.5,293.3 376.7,292.1 377.3,291.9 377.9,292.3 379.1,293.8 379.7,293.7 380.9,291.9 381.5,292.0 382.7,293.7 383.3,293.4 383.9,292.4 384.5,291.7 385.1,292.1 386.3,293.8 386.9,294.0 387.5,293.4 388.7,291.4 389.3,291.2 389.9,292.4 390.5,294.0 391.1,294.6 391.7,293.7 392.3,292.3 392.9,291.5 393.5,292.0 394.1,292.8 394.7,293.3 395.3,293.3 396.5,292.7 397.1,292.5 397.7,292.6 398.9,293.1 399.5,293.0" fill="none" stroke="#200a0a" stroke-width="0.58"/>
<text x="394.4" y="288.7" font-size="3.1" font-weight="bold" fill="#5656a8" text-anchor="end">0.73</text>
<path d="M405.4,283.1H527.4" stroke="#b4b4b4" stroke-width="0.7"/>
<path d="M527.4,283.1V302.5M405.4,302.5H527.4" fill="none" stroke="#a0a0a0" stroke-width="0.8"/>
<path d="M405.4,283.1V302.5" stroke="#d8d8d8" stroke-width="1"/>
<path d="M405.4,286.8h1M405.4,292.8h1M405.4,298.8h1M527.4,286.8h-1M527.4,298.8h-1" stroke="#999" stroke-width="0.45"/>
<text x="406.9" y="301.9" font-size="2.4" fill="#888">x10⁻⁷</text>
<polyline points="405.9,292.8 417.9,292.8 419.7,292.9 420.3,292.8 421.5,292.3 422.1,292.3 422.7,292.9 423.3,293.8 423.9,294.3 424.5,293.9 425.7,291.0 426.3,290.5 426.9,291.5 428.1,294.9 428.7,295.2 429.3,294.0 429.9,292.1 430.5,290.6 431.1,290.5 431.7,291.8 432.3,293.7 432.9,294.9 433.5,294.6 434.7,291.7 435.3,291.6 436.5,294.1 437.1,294.0 438.3,290.1 438.9,289.5 439.5,291.5 440.1,295.0 440.7,297.7 441.3,297.5 441.9,294.1 442.5,289.6 443.1,286.9 443.7,287.8 444.9,296.6 445.5,299.0 446.1,297.7 447.3,288.7 447.9,286.5 448.5,288.2 449.7,297.1 450.3,298.9 450.9,296.9 452.1,288.6 452.7,287.5 453.3,289.7 453.9,293.3 454.5,296.0 455.1,296.3 455.7,294.6 456.3,292.3 456.9,291.1 457.5,291.3 458.7,293.0 459.3,293.3 461.1,292.8 462.9,292.9 463.5,292.9 465.3,292.4 465.9,292.6 467.1,293.2 467.7,293.3 468.3,293.2 469.5,292.4 470.1,292.3 470.7,292.4 472.5,293.1 473.1,293.2 473.7,293.1 475.5,292.4 476.1,292.5 477.3,293.1 477.9,293.2 478.5,293.0 479.7,292.3 480.3,292.3 481.5,293.1 482.1,293.4 482.7,293.4 484.5,292.3 485.1,292.2 485.7,292.4 487.5,293.3 488.1,293.4 488.7,293.2 489.9,292.4 490.5,292.3 491.1,292.5 492.3,293.1 492.9,293.1 494.7,292.6 497.7,292.9 500.1,292.5 500.7,292.6 502.5,293.3 503.1,293.2 504.9,292.2 505.5,292.3 507.3,293.2 507.9,293.3 510.3,292.4 510.9,292.4 511.5,292.6 512.7,293.1 513.3,293.2 515.1,292.3 515.7,292.4 516.9,293.3 517.5,293.4 518.1,293.1 519.3,292.3 519.9,292.2 520.5,292.4 521.7,293.1 522.3,293.2 522.9,293.3 523.5,293.1 524.7,292.5 525.3,292.4 525.9,292.5 526.5,292.7" fill="none" stroke="#c85858" stroke-width="0.45"/>
<polyline points="418.6,292.8 419.8,292.9 420.4,292.8 421.6,292.2 422.2,292.2 422.8,292.9 423.4,293.8 424,294.5 424.6,294.0 425.8,291.0 426.4,290.4 427,291.3 428.2,295.0 428.8,295.3 429.4,294.2 430,292.1 430.6,290.5 431.2,290.3 431.8,291.7 432.4,293.7 433,295.0 433.6,294.7 434.8,291.7 435.4,291.5 436.6,294.2 437.2,294.2 438.4,289.9 439,289.2 439.6,291.3 440.2,295.0 440.8,298.0 441.4,297.8 442,294.3 442.6,289.6 443.2,286.6 443.8,287.4 445,296.6 445.6,299.3 446.2,298.1 447.4,288.7 448,286.2 448.6,287.8 449.8,297.2 450.4,299.2 451,297.3 452.2,288.6 452.8,287.3 453.4,289.4 454,293.2 454.6,296.1 455.2,296.5 455.8,294.7 456.4,292.4 457,291.1 457.6,291.2 458.8,293.0 459.4,293.3 461.2,292.8 463,293.0 463.6,292.9 464.8,292.4 465.4,292.4 466,292.6 467.2,293.3 467.8,293.4 468.4,293.2 469.6,292.3 470.2,292.2 470.8,292.3 472,293.0 472.6,293.2 473.2,293.3 473.8,293.1 475,292.5 475.6,292.3 476.2,292.4 477.4,293.2 478,293.3 478.6,293.0 479.2,292.5 479.8,292.2 480.4,292.2 481.6,293.3 482.2,293.6 482.8,293.4 484,292.5 484.6,292.2 485.2,292.2 485.8,292.3 487.6,293.4 488.2,293.5 488.8,293.2 490,292.3 490.6,292.2 492.4,293.1 493,293.2 494.2,292.7 494.8,292.6 496.6,292.9 497.8,292.9 500.2,292.5 500.8,292.6 502.6,293.3 503.2,293.3 504.4,292.4 505,292.1 505.6,292.2 506.8,293.1 507.4,293.3 508,293.3 510.4,292.3 511,292.3 511.6,292.6 512.8,293.2 513.4,293.3 514.6,292.5 515.2,292.3 515.8,292.4 517,293.4 517.6,293.5 519.4,292.2 520,292.1 520.6,292.4 521.8,293.1 522.4,293.3 523,293.3 523.6,293.1 524.8,292.4 525.4,292.3 526,292.5 526.6,292.7" fill="none" stroke="#200a0a" stroke-width="0.58"/>
<text x="521.4" y="288.7" font-size="3.1" font-weight="bold" fill="#5656a8" text-anchor="end">0.87</text>
<path d="M532.2,283.1H654.2" stroke="#b4b4b4" stroke-width="0.7"/>
<path d="M654.2,283.1V302.5M532.2,302.5H654.2" fill="none" stroke="#a0a0a0" stroke-width="0.8"/>
<path d="M532.2,283.1V302.5" stroke="#d8d8d8" stroke-width="1"/>
<path d="M532.2,286.8h1M532.2,292.8h1M532.2,298.8h1M654.2,286.8h-1M654.2,298.8h-1" stroke="#999" stroke-width="0.45"/>
<text x="533.7" y="301.9" font-size="2.4" fill="#888">x10⁻⁷</text>
<polyline points="532.7,292.8 553.1,292.8 555.5,292.6 556.1,292.8 557.3,294.0 557.9,294.3 558.5,293.7 559.1,292.1 559.7,290.0 560.3,288.6 560.9,289.1 561.5,291.9 562.7,299.3 563.3,299.9 563.9,297.0 565.1,286.5 565.7,283.9 566.3,285.4 566.9,290.3 567.5,296.5 568.1,301.1 568.7,301.9 569.3,298.6 570.5,286.8 571.1,283.7 571.7,284.6 572.3,289.3 572.9,295.5 573.5,300.4 574.1,301.7 574.7,299.0 575.9,288.3 576.5,285.5 577.1,286.1 578.3,293.8 578.9,296.8 579.5,297.3 580.1,295.8 580.7,293.5 581.3,291.8 581.9,291.1 582.5,291.4 583.7,292.7 584.3,293.1 584.9,293.2 585.5,293.1 587.9,292.5 588.5,292.5 589.7,292.6 591.5,293.4 592.1,293.5 592.7,293.4 593.3,293.0 594.5,291.9 595.1,291.7 595.7,291.9 596.9,293.3 597.5,293.8 598.1,293.9 598.7,293.6 599.9,292.4 600.5,292.1 601.1,292.1 602.9,292.9 604.1,293.2 604.7,293.2 606.5,292.4 607.1,292.3 607.7,292.5 608.9,293.4 609.5,293.6 610.1,293.5 611.9,291.9 612.5,291.8 613.1,292.2 614.3,293.3 614.9,293.6 615.5,293.6 616.1,293.4 617.3,292.6 617.9,292.3 618.5,292.2 619.1,292.2 619.7,292.4 621.5,293.3 622.1,293.4 622.7,293.2 623.9,292.5 624.5,292.3 625.1,292.4 626.9,293.1 627.5,293.1 629.3,292.5 629.9,292.5 630.5,292.6 632.3,293.2 632.9,293.2 633.5,293.2 634.1,293.0 635.9,292.0 636.5,291.9 637.1,292.2 638.3,293.4 638.9,293.9 639.5,294.0 640.1,293.6 641.3,292.1 641.9,291.7 642.5,291.8 644.3,293.2 644.9,293.4 645.5,293.4 647.9,292.5 648.5,292.4 649.1,292.5 650.9,293.2 651.5,293.2 653.3,292.3" fill="none" stroke="#c85858" stroke-width="0.45"/>
<polyline points="553.9,292.8 555.1,292.5 555.7,292.5 556.3,292.8 557.5,294.2 558.1,294.5 558.7,293.6 559.9,289.4 560.5,288.1 561.1,289.1 561.7,292.5 562.3,296.9 562.9,300.1 563.5,300.1 564.1,296.5 565.3,285.5 565.9,283.4 566.5,285.6 567.7,297.7 568.3,301.9 568.9,302.1 569.5,298.0 570.7,285.7 571.3,283.0 571.9,284.8 573.1,296.6 573.7,301.3 574.3,302.0 574.9,298.5 576.1,287.4 576.7,285.0 577.3,286.3 578.5,294.5 579.1,297.1 579.7,297.3 580.3,295.5 580.9,293.2 581.5,291.6 582.1,291.1 582.7,291.5 583.9,292.8 584.5,293.1 585.1,293.2 585.7,293.2 587.5,292.6 588.7,292.4 589.9,292.7 591.7,293.6 592.3,293.6 592.9,293.3 594.1,292.1 594.7,291.6 595.3,291.5 595.9,292.0 597.1,293.7 597.7,294.1 598.3,294.0 600.1,292.2 600.7,291.9 601.3,292.0 603.1,293.1 603.7,293.3 604.3,293.3 604.9,293.2 606.7,292.2 607.3,292.2 607.9,292.6 609.1,293.6 609.7,293.8 610.3,293.4 611.5,292.0 612.1,291.6 612.7,291.7 614.5,293.6 615.1,293.8 615.7,293.7 617.5,292.4 618.1,292.2 618.7,292.1 619.3,292.2 621.1,293.3 621.7,293.5 622.3,293.4 624.1,292.4 624.7,292.3 625.3,292.4 626.5,293.1 627.1,293.2 627.7,293.1 628.9,292.6 629.5,292.4 630.1,292.4 631.9,293.1 633.1,293.3 633.7,293.2 634.3,293.0 635.5,292.1 636.1,291.8 636.7,291.9 637.3,292.3 638.5,293.8 639.1,294.2 639.7,294.1 641.5,291.8 642.1,291.5 642.7,291.8 643.9,293.0 644.5,293.4 645.1,293.5 645.7,293.4 648.1,292.3 648.7,292.3 649.3,292.5 650.5,293.2 651.1,293.4 651.7,293.2 652.9,292.4 653.5,292.2" fill="none" stroke="#200a0a" stroke-width="0.58"/>
<text x="648.2" y="288.7" font-size="3.1" font-weight="bold" fill="#5656a8" text-anchor="end">0.90</text>
<text x="262.8" y="314.51" font-size="4.2" font-weight="bold" fill="#444" text-anchor="middle">DRO</text>
<path d="M278,305.5H400.4" stroke="#b4b4b4" stroke-width="0.7"/>
<path d="M400.4,305.5V324.7M278,324.7H400.4" fill="none" stroke="#a0a0a0" stroke-width="0.8"/>
<path d="M278,305.5V324.7" stroke="#d8d8d8" stroke-width="1"/>
<path d="M278,309.2h1M278,315.2h1M278,321.2h1M400.4,309.2h-1M400.4,321.2h-1" stroke="#999" stroke-width="0.45"/>
<text x="276.8" y="310.3" font-size="3.1" fill="#555" text-anchor="end">2</text>
<text x="276.8" y="316.3" font-size="3.1" fill="#555" text-anchor="end">0</text>
<text x="276.8" y="322.3" font-size="3.1" fill="#555" text-anchor="end">-2</text>
<text x="279.5" y="324.1" font-size="2.4" fill="#888">x10⁻⁷</text>
<polyline points="278.5,315.2 299.5,315.3 300.7,315.0 303.1,313.5 303.7,313.3 304.3,313.4 304.9,313.8 305.5,314.6 306.1,315.7 307.9,319.9 308.5,320.9 309.1,321.3 309.7,321.0 310.3,319.9 310.9,318.3 313.3,309.4 313.9,308.0 314.5,307.3 315.1,307.4 315.7,308.3 316.3,309.9 318.7,319.5 319.3,321.4 319.9,322.7 320.5,323.3 321.1,323.0 321.7,321.9 322.3,320.1 324.7,310.8 325.3,309.3 325.9,308.4 326.5,308.4 327.1,309.1 327.7,310.3 329.5,315.4 330.1,316.7 330.7,317.6 331.3,318.0 331.9,318.0 332.5,317.6 334.3,315.7 334.9,315.3 335.5,315.1 336.1,315.1 337.9,315.6 338.5,315.6 340.9,314.6 341.5,314.5 342.1,314.6 343.9,315.5 344.5,315.7 345.1,315.7 345.7,315.5 346.9,315.0 348.1,314.8 349.3,314.9 351.7,315.6 352.9,315.7 354.1,315.5 355.9,314.7 356.5,314.5 357.1,314.4 357.7,314.5 358.3,314.8 360.1,315.8 360.7,316.0 361.3,316.0 361.9,315.8 363.7,314.9 364.3,314.7 364.9,314.6 365.5,314.7 367.9,315.4 369.1,315.5 370.3,315.4 372.7,315.1 373.9,315.0 376.9,315.5 377.5,315.5 378.1,315.4 379.9,314.9 381.1,314.8 381.7,314.9 383.5,315.6 384.1,315.8 384.7,315.8 385.9,315.5 387.7,314.7 388.9,314.6 390.1,314.8 392.5,315.8 393.7,315.9 394.3,315.8 396.7,314.6 397.3,314.5 397.9,314.6 399.7,315.3" fill="none" stroke="#c85858" stroke-width="0.45"/>
<polyline points="297.3,315.3 299.1,315.4 300.3,315.3 300.9,315.1 301.5,314.7 303.9,312.6 304.5,312.4 305.1,312.6 305.7,313.4 306.3,314.6 308.7,321.6 309.3,322.6 309.9,322.8 310.5,322.2 311.1,320.8 311.7,318.6 313.5,310.3 314.1,308.0 314.7,306.4 315.3,305.8 315.9,306.1 316.5,307.3 317.1,309.4 317.7,312.0 319.5,320.7 320.1,322.8 320.7,324.2 321.3,324.7 321.9,324.1 322.5,322.7 323.1,320.5 324.9,312.2 325.5,309.9 326.1,308.3 326.7,307.6 327.3,307.8 327.9,308.7 328.5,310.2 330.3,315.6 330.9,316.9 331.5,317.6 332.1,317.9 332.7,317.7 334.5,316.0 335.1,315.6 335.7,315.4 336.3,315.4 337.5,315.7 338.1,315.7 338.7,315.6 340.5,314.6 341.1,314.4 341.7,314.4 342.3,314.7 344.1,315.7 344.7,315.8 345.3,315.7 347.1,314.9 347.7,314.7 348.3,314.7 349.5,314.9 351.3,315.6 352.5,315.8 353.7,315.7 354.3,315.4 356.1,314.5 356.7,314.3 357.3,314.3 357.9,314.5 359.7,315.8 360.3,316.1 360.9,316.2 361.5,316.1 362.1,315.8 363.3,315.0 363.9,314.7 364.5,314.5 365.1,314.5 365.7,314.6 368.1,315.5 369.3,315.6 370.5,315.4 373.5,314.9 374.7,315.0 376.5,315.4 377.7,315.5 380.1,314.8 380.7,314.7 381.3,314.8 381.9,314.9 383.7,315.8 384.3,315.9 384.9,315.8 385.5,315.7 387.3,314.8 387.9,314.6 389.1,314.5 390.3,314.8 392.1,315.7 393.3,316.1 393.9,316.0 394.5,315.8 396.3,314.7 396.9,314.5 397.5,314.4 398.1,314.5 399.3,315.1" fill="none" stroke="#200a0a" stroke-width="0.58"/>
<text x="394.4" y="311.1" font-size="3.1" font-weight="bold" fill="#5656a8" text-anchor="end">0.82</text>
<path d="M405.4,305.5H527.4" stroke="#b4b4b4" stroke-width="0.7"/>
<path d="M527.4,305.5V324.7M405.4,324.7H527.4" fill="none" stroke="#a0a0a0" stroke-width="0.8"/>
<path d="M405.4,305.5V324.7" stroke="#d8d8d8" stroke-width="1"/>
<path d="M405.4,309.2h1M405.4,315.2h1M405.4,321.2h1M527.4,309.2h-1M527.4,321.2h-1" stroke="#999" stroke-width="0.45"/>
<text x="406.9" y="324.1" font-size="2.4" fill="#888">x10⁻⁷</text>
<polyline points="405.9,315.2 428.1,315.2 434.7,314.9 436.5,315.1 439.5,315.7 441.3,315.8 443.1,315.6 446.7,314.5 448.5,314.3 450.3,314.7 453.9,316.0 455.1,316.2 455.7,316.1 456.9,315.9 460.5,314.6 462.3,314.2 462.9,314.3 464.1,314.5 467.7,315.8 469.5,316.1 471.3,315.9 474.9,314.7 476.7,314.5 478.5,314.7 481.5,315.4 483.3,315.6 486.9,315.3 491.1,315.3 494.1,314.8 495.3,314.7 496.5,314.8 498.9,315.6 500.1,315.7 501.3,315.5 503.1,314.9 504.3,314.8 505.5,315.0 507.3,315.5 508.5,315.6 509.7,315.5 511.5,315.0 512.7,314.8 514.5,314.9 517.5,315.5 518.7,315.6 520.5,315.5 522.9,315.0 524.1,314.8 525.3,314.9 526.5,315.1" fill="none" stroke="#c85858" stroke-width="0.45"/>
<polyline points="421.8,315.2 424.2,315.2 428.4,315.6 429.6,315.5 431.4,315.2 433.8,314.1 435,313.7 435.6,313.6 436.2,313.6 436.8,313.8 438,314.6 441,317.9 441.6,318.3 442.2,318.6 442.8,318.6 443.4,318.4 444,317.9 444.6,317.2 447,313.2 448.2,311.4 448.8,310.9 449.4,310.7 450,310.8 450.6,311.1 451.2,311.8 451.8,312.7 454.8,318.4 455.4,319.2 456,319.8 456.6,320.0 457.2,319.9 457.8,319.5 458.4,318.8 459.6,316.7 461.4,313.1 462,312.0 462.6,311.2 463.2,310.7 463.8,310.4 464.4,310.5 465,310.9 465.6,311.6 466.2,312.5 468.6,317.2 469.2,318.2 469.8,319.0 470.4,319.5 471,319.7 471.6,319.6 472.2,319.2 472.8,318.6 473.4,317.7 475.2,314.6 476.4,312.8 477,312.2 477.6,311.9 478.2,311.8 478.8,311.9 479.4,312.3 480,312.8 482.4,315.5 483,316.0 483.6,316.4 484.2,316.7 484.8,316.8 486,316.6 489,315.5 490.2,315.2 494.4,314.5 495.6,314.6 496.2,314.7 498.6,315.6 499.8,315.9 501,315.7 502.8,315.0 504,314.7 505.2,314.8 507,315.4 508.2,315.7 509.4,315.6 511.8,314.9 513,314.7 514.2,314.8 517.8,315.5 519,315.7 520.8,315.5 523.8,314.8 525,314.8 526.8,315.2" fill="none" stroke="#200a0a" stroke-width="0.58"/>
<text x="521.4" y="311.1" font-size="3.1" font-weight="bold" fill="#5656a8" text-anchor="end">0.33</text>
<path d="M532.2,305.5H654.2" stroke="#b4b4b4" stroke-width="0.7"/>
<path d="M654.2,305.5V324.7M532.2,324.7H654.2" fill="none" stroke="#a0a0a0" stroke-width="0.8"/>
<path d="M532.2,305.5V324.7" stroke="#d8d8d8" stroke-width="1"/>
<path d="M532.2,309.2h1M532.2,315.2h1M532.2,321.2h1M654.2,309.2h-1M654.2,321.2h-1" stroke="#999" stroke-width="0.45"/>
<text x="533.7" y="324.1" font-size="2.4" fill="#888">x10⁻⁷</text>
<polyline points="532.7,315.2 556.1,315.3 557.9,315.0 560.3,314.3 561.5,314.2 562.1,314.4 562.7,314.7 565.7,317.0 566.3,317.3 566.9,317.4 567.5,317.3 568.1,317.0 568.7,316.5 571.1,314.0 571.7,313.5 572.3,313.1 572.9,312.9 573.5,312.9 574.1,313.1 574.7,313.4 575.3,313.9 577.1,315.9 578.3,316.9 578.9,317.1 579.5,317.2 580.1,317.1 580.7,316.8 583.1,315.1 583.7,314.8 584.9,314.5 586.1,314.6 587.9,315.1 589.1,315.3 590.3,315.3 593.9,315.0 595.1,315.1 598.1,315.5 599.3,315.4 601.7,314.9 602.9,315.0 605.3,315.4 609.5,315.1 613.1,315.4 614.3,315.4 617.3,314.8 617.9,314.8 618.5,314.9 620.9,315.7 621.5,315.8 622.1,315.7 622.7,315.6 624.5,314.8 625.7,314.7 626.3,314.8 628.7,315.5 629.9,315.6 631.1,315.5 633.5,315.0 634.7,314.9 637.1,315.3 638.3,315.4 641.3,315.0 641.9,315.0 644.9,315.4 647.9,315.1 649.1,315.0 653.3,315.3" fill="none" stroke="#c85858" stroke-width="0.45"/>
<polyline points="553.4,315.2 557.6,315.5 558.8,315.4 560,315.0 562.4,313.6 563,313.5 563.6,313.5 564.2,313.7 564.8,314.1 567.8,317.2 568.4,317.6 569,317.8 569.6,317.7 570.2,317.5 570.8,317.0 571.4,316.4 573.2,314.2 574.4,313.1 575,312.7 575.6,312.6 576.2,312.7 576.8,313.0 577.4,313.5 579.2,315.5 580.4,316.6 581,316.9 581.6,317.0 582.2,316.9 582.8,316.6 585.2,315.2 586.4,314.9 590,315.3 593,315.0 594.2,315.0 595.4,315.1 597.2,315.5 598.4,315.5 600.8,315.0 602,314.9 602.6,314.9 605,315.4 605.6,315.4 609.2,315.1 614,315.4 615.2,315.3 617.6,314.7 618.8,314.9 620.6,315.7 621.2,315.9 621.8,315.9 622.4,315.7 624.2,314.8 624.8,314.6 625.4,314.5 626.6,314.8 628.4,315.4 629.6,315.6 630.8,315.6 633.2,315.0 634.4,314.8 635.6,315.0 637.4,315.4 638,315.5 638.6,315.5 641,314.9 641.6,314.9 644.6,315.5 645.8,315.4 647.6,315.1 648.8,315.0 653.6,315.4" fill="none" stroke="#200a0a" stroke-width="0.58"/>
<text x="648.2" y="311.1" font-size="3.1" font-weight="bold" fill="#5656a8" text-anchor="end">-0.43</text>
<text x="262.8" y="336.51" font-size="4.2" font-weight="bold" fill="#444" text-anchor="middle">ANS</text>
<path d="M278,327.9H400.4" stroke="#b4b4b4" stroke-width="0.7"/>
<path d="M400.4,327.9V347.1M278,347.1H400.4" fill="none" stroke="#a0a0a0" stroke-width="0.8"/>
<path d="M278,327.9V347.1" stroke="#d8d8d8" stroke-width="1"/>
<path d="M278,331.4h1M278,337.4h1M278,343.4h1M400.4,331.4h-1M400.4,343.4h-1" stroke="#999" stroke-width="0.45"/>
<text x="276.8" y="332.5" font-size="3.1" fill="#555" text-anchor="end">2</text>
<text x="276.8" y="338.5" font-size="3.1" fill="#555" text-anchor="end">0</text>
<text x="276.8" y="344.5" font-size="3.1" fill="#555" text-anchor="end">-2</text>
<text x="279.5" y="346.5" font-size="2.4" fill="#888">x10⁻⁷</text>
<polyline points="278.5,337.4 295.3,337.4 297.7,337.3 298.3,337.4 300.1,338.2 300.7,337.9 301.3,336.8 301.9,335.2 302.5,334.2 303.1,334.9 303.7,337.6 304.3,341.2 304.9,343.6 305.5,342.9 306.1,339.0 306.7,333.7 307.3,329.8 307.9,329.6 308.5,333.4 309.7,344.5 310.3,346.1 310.9,343.4 312.1,331.9 312.7,328.8 313.3,329.9 313.9,334.7 314.5,340.8 315.1,345.0 315.7,345.4 316.3,341.8 316.9,336.3 317.5,332.0 318.1,330.9 318.7,333.0 319.9,339.9 320.5,340.9 321.1,340.0 321.7,338.1 322.3,336.7 322.9,336.3 323.5,336.8 324.1,337.5 324.7,337.8 325.3,337.7 326.5,337.0 327.1,337.0 328.3,337.6 328.9,337.7 331.3,337.2 331.9,337.2 333.7,337.6 334.3,337.5 335.5,337.1 336.1,337.1 337.3,337.7 337.9,337.8 338.5,337.6 339.7,337.1 340.3,337.0 340.9,337.2 342.7,337.8 343.3,337.8 343.9,337.6 345.1,337.0 345.7,337.0 346.9,337.7 347.5,337.8 348.1,337.7 349.3,337.1 349.9,337.1 351.1,337.7 351.7,337.7 353.5,337.1 354.1,337.0 354.7,337.1 355.9,337.9 356.5,338.1 357.1,338.0 358.3,336.8 358.9,336.6 359.5,336.9 360.7,337.9 361.3,338.0 363.1,337.1 363.7,337.1 366.1,337.6 366.7,337.5 367.9,337.2 368.5,337.2 369.7,337.7 370.3,337.7 372.1,337.0 372.7,337.1 374.5,337.7 375.1,337.7 377.5,337.0 378.1,337.1 379.3,337.8 379.9,337.9 380.5,337.7 381.7,337.0 382.3,337.0 383.5,337.7 384.1,337.7 385.3,337.2 385.9,337.1 386.5,337.1 388.3,337.8 388.9,337.9 389.5,337.7 390.7,336.7 391.3,336.7 391.9,337.1 392.5,337.7 393.1,338.1 393.7,338.0 394.9,337.1 395.5,336.9 396.1,337.1 397.3,337.5 397.9,337.6 399.7,337.4" fill="none" stroke="#c85858" stroke-width="0.45"/>
<polyline points="297.5,337.3 298.1,337.3 298.7,337.5 299.9,338.2 300.5,338.3 301.1,337.6 302.3,334.4 302.9,333.9 303.5,335.7 304.7,342.9 305.3,344.2 305.9,341.9 307.1,331.4 307.7,328.7 308.3,330.3 309.5,342.0 310.1,346.1 310.7,345.9 311.3,341.5 312.5,329.8 313.1,328.3 313.7,331.3 314.9,343.2 315.5,346.1 316.1,344.6 317.3,334.2 317.9,330.9 318.5,331.2 319.7,338.3 320.3,340.6 320.9,340.7 322.1,337.4 322.7,336.4 323.3,336.5 324.5,337.8 325.1,337.8 326.3,337.0 326.9,336.9 328.7,337.7 329.3,337.7 331.1,337.2 331.7,337.2 332.3,337.3 333.5,337.6 334.1,337.6 335.3,337.1 335.9,337.0 337.7,337.8 338.3,337.8 339.5,337.1 340.1,337.0 340.7,337.0 342.5,337.8 343.1,337.8 343.7,337.7 344.9,337.0 345.5,336.8 346.1,337.1 347.3,337.9 347.9,337.8 349.1,337.1 349.7,337.0 350.9,337.6 351.5,337.8 352.1,337.7 353.3,337.1 353.9,336.9 354.5,336.9 355.1,337.2 356.3,338.2 356.9,338.2 357.5,337.7 358.1,336.9 358.7,336.4 359.3,336.6 360.5,337.9 361.1,338.1 361.7,337.9 362.9,337.2 363.5,337.0 364.1,337.1 365.9,337.6 366.5,337.6 367.7,337.2 368.3,337.1 370.1,337.8 370.7,337.7 371.9,337.0 372.5,337.0 374.3,337.7 374.9,337.8 375.5,337.7 377.3,336.9 377.9,336.9 379.7,338.0 380.3,337.9 381.5,337.0 382.1,336.9 383.3,337.6 383.9,337.8 384.5,337.6 385.7,337.0 386.3,337.0 386.9,337.2 388.1,337.8 388.7,338.0 389.3,337.9 390.5,336.8 391.1,336.5 391.7,336.8 392.9,338.1 393.5,338.3 394.1,337.8 394.7,337.3 395.3,336.9 395.9,336.9 397.1,337.4 397.7,337.6 398.3,337.6 399.5,337.4" fill="none" stroke="#200a0a" stroke-width="0.58"/>
<text x="394.4" y="333.5" font-size="3.1" font-weight="bold" fill="#5656a8" text-anchor="end">0.90</text>
<path d="M405.4,327.9H527.4" stroke="#b4b4b4" stroke-width="0.7"/>
<path d="M527.4,327.9V347.1M405.4,347.1H527.4" fill="none" stroke="#a0a0a0" stroke-width="0.8"/>
<path d="M405.4,327.9V347.1" stroke="#d8d8d8" stroke-width="1"/>
<path d="M405.4,331.4h1M405.4,337.4h1M405.4,343.4h1M527.4,331.4h-1M527.4,343.4h-1" stroke="#999" stroke-width="0.45"/>
<text x="406.9" y="346.5" font-size="2.4" fill="#888">x10⁻⁷</text>
<polyline points="405.9,337.4 427.5,337.4 429.3,337.5 429.9,337.4 431.1,336.9 431.7,336.9 432.3,337.5 432.9,338.5 433.5,339.2 434.1,338.5 435.3,334.5 435.9,334.1 436.5,336.1 437.1,339.6 437.7,342.0 438.3,341.4 439.5,333.8 440.1,331.9 440.7,333.7 441.9,341.9 442.5,342.9 443.1,340.2 443.7,335.7 444.3,332.3 444.9,332.3 445.5,335.6 446.1,340.1 446.7,342.8 447.3,341.8 448.5,334.0 449.1,332.5 449.7,334.2 450.3,337.8 450.9,340.5 451.5,340.9 452.1,339.0 452.7,336.7 453.3,335.4 453.9,335.6 455.1,337.8 455.7,338.3 456.3,338.2 456.9,337.9 457.5,337.6 458.7,336.6 459.3,336.5 459.9,336.8 461.1,338.3 461.7,338.4 462.3,337.9 462.9,337.1 463.5,336.7 464.1,336.8 465.3,337.6 465.9,337.7 466.5,337.7 468.3,337.2 468.9,337.2 470.1,337.7 470.7,337.8 471.3,337.6 472.5,336.7 473.1,336.7 473.7,337.3 474.3,338.0 474.9,338.4 475.5,338.2 476.7,336.8 477.3,336.4 477.9,336.6 479.7,338.3 480.3,338.5 480.9,338.0 482.1,336.4 482.7,336.3 483.3,337.1 483.9,338.0 484.5,338.4 485.1,337.9 485.7,337.0 486.3,336.5 486.9,336.8 488.1,338.2 488.7,338.3 489.3,337.9 490.5,336.7 491.1,336.4 491.7,336.5 492.3,337.2 492.9,338.1 493.5,338.7 494.1,338.5 495.3,336.7 495.9,336.3 496.5,336.6 497.7,337.9 498.3,338.0 500.1,337.2 500.7,337.1 501.3,337.2 502.5,337.6 503.1,337.7 503.7,337.5 504.9,336.9 505.5,337.0 506.7,338.0 507.3,338.2 507.9,337.9 509.1,336.5 509.7,336.5 511.5,338.1 512.1,338.2 512.7,338.0 513.9,337.0 514.5,336.8 515.1,336.9 516.3,337.7 516.9,337.8 518.1,337.3 518.7,337.2 520.5,337.5 522.9,337.4 526.5,337.4" fill="none" stroke="#c85858" stroke-width="0.45"/>
<polyline points="428.5,337.4 429.7,337.5 430.3,337.3 431.5,336.7 432.1,337.0 433.3,339.1 433.9,339.3 434.5,337.8 435.1,335.4 435.7,333.8 436.3,334.5 437.5,341.2 438.1,342.5 438.7,340.4 439.9,332.3 440.5,332.0 441.1,335.3 441.7,340.0 442.3,343.1 442.9,342.4 444.1,333.7 444.7,331.5 445.3,333.2 446.5,341.9 447.1,343.1 447.7,340.5 448.3,336.0 448.9,332.7 449.5,332.7 450.1,335.6 450.7,339.3 451.3,341.1 451.9,340.4 453.1,335.9 453.7,335.3 454.3,336.0 454.9,337.3 455.5,338.2 456.1,338.4 456.7,338.2 457.3,337.8 458.5,336.7 459.1,336.3 459.7,336.5 460.9,338.2 461.5,338.7 462.1,338.3 463.3,336.6 463.9,336.5 465.1,337.5 465.7,337.8 466.3,337.8 468.1,337.2 468.7,337.1 469.3,337.3 470.5,337.9 471.1,337.8 472.3,336.7 472.9,336.5 473.5,336.9 474.7,338.5 475.3,338.5 475.9,337.8 476.5,336.9 477.1,336.3 477.7,336.3 478.3,336.7 479.5,338.2 480.1,338.6 480.7,338.4 481.9,336.5 482.5,336.1 483.1,336.6 483.7,337.7 484.3,338.5 484.9,338.3 486.1,336.5 486.7,336.5 487.9,338.1 488.5,338.5 489.1,338.2 490.3,336.8 490.9,336.3 491.5,336.2 492.1,336.8 493.3,338.7 493.9,338.9 494.5,338.1 495.1,336.9 495.7,336.1 496.3,336.2 497.5,337.8 498.1,338.2 498.7,338.0 499.9,337.2 500.5,337.1 501.1,337.1 502.9,337.7 503.5,337.7 504.7,336.9 505.3,336.8 505.9,337.2 506.5,337.9 507.1,338.4 507.7,338.2 508.9,336.6 509.5,336.3 510.1,336.6 511.3,338.0 511.9,338.3 512.5,338.2 514.3,336.7 514.9,336.7 516.1,337.6 516.7,337.9 517.3,337.7 518.5,337.2 520.9,337.5 522.7,337.4 526.9,337.4" fill="none" stroke="#200a0a" stroke-width="0.58"/>
<text x="521.4" y="333.5" font-size="3.1" font-weight="bold" fill="#5656a8" text-anchor="end">0.77</text>
<path d="M532.2,327.9H654.2" stroke="#b4b4b4" stroke-width="0.7"/>
<path d="M654.2,327.9V347.1M532.2,347.1H654.2" fill="none" stroke="#a0a0a0" stroke-width="0.8"/>
<path d="M532.2,327.9V347.1" stroke="#d8d8d8" stroke-width="1"/>
<path d="M532.2,331.4h1M532.2,337.4h1M532.2,343.4h1M654.2,331.4h-1M654.2,343.4h-1" stroke="#999" stroke-width="0.45"/>
<text x="533.7" y="346.5" font-size="2.4" fill="#888">x10⁻⁷</text>
<polyline points="532.7,337.4 557.3,337.4 559.7,337.5 560.3,337.5 560.9,337.2 562.1,336.6 562.7,336.8 563.3,337.7 563.9,339.0 564.5,339.9 565.1,339.6 565.7,337.8 566.3,335.4 566.9,333.7 567.5,333.7 568.1,335.6 569.3,341.0 569.9,341.7 570.5,340.3 571.7,334.6 572.3,333.1 572.9,333.7 573.5,336.1 574.1,339.0 574.7,341.1 575.3,341.3 575.9,339.6 576.5,337.1 577.1,335.1 577.7,334.7 578.3,335.6 578.9,337.0 579.5,338.1 580.1,338.4 581.9,337.3 582.5,337.2 583.1,337.3 585.5,337.6 586.1,337.6 587.9,336.9 588.5,337.0 589.7,337.9 590.3,338.1 590.9,338.0 592.1,337.0 592.7,336.8 593.3,336.8 595.1,337.8 595.7,337.9 596.3,337.8 598.1,337.0 598.7,336.9 599.9,337.6 600.5,337.8 601.1,337.7 602.3,337.0 602.9,336.9 604.7,337.9 605.3,337.8 607.1,337.1 607.7,337.0 608.3,337.1 610.1,337.7 610.7,337.8 611.3,337.7 612.5,337.1 613.1,337.0 613.7,337.1 614.9,337.6 615.5,337.7 617.3,337.3 617.9,337.2 619.7,337.5 620.9,337.5 622.7,337.1 623.3,337.1 623.9,337.3 625.1,338.0 625.7,338.0 626.3,337.6 627.5,336.7 628.1,336.7 629.9,337.9 630.5,338.0 631.1,337.9 632.9,337.0 633.5,336.9 634.1,337.0 635.3,337.7 635.9,337.9 636.5,337.7 637.7,337.0 638.3,337.0 639.5,337.7 640.1,337.9 640.7,337.7 641.9,337.1 642.5,337.0 643.1,337.1 644.9,337.7 645.5,337.8 646.1,337.7 647.9,337.0 648.5,337.0 650.3,337.7 650.9,337.7 652.7,337.2 653.3,337.3" fill="none" stroke="#c85858" stroke-width="0.45"/>
<polyline points="559.1,337.4 560.3,337.5 560.9,337.3 562.1,336.5 562.7,336.6 563.3,337.3 564.5,339.9 565.1,340.0 565.7,338.5 566.9,333.8 567.5,333.2 568.1,334.8 569.3,340.6 569.9,342.0 570.5,341.1 571.7,335.2 572.3,333.1 572.9,333.1 573.5,335.1 574.7,340.8 575.3,341.6 575.9,340.3 577.1,335.5 577.7,334.6 578.3,335.2 579.5,337.9 580.1,338.4 580.7,338.2 581.9,337.4 582.5,337.2 583.1,337.2 585.5,337.6 586.1,337.6 587.9,336.8 588.5,336.9 589.7,337.9 590.3,338.2 590.9,338.1 592.1,337.0 592.7,336.6 593.3,336.7 595.1,337.8 595.7,338.0 596.3,337.9 598.1,336.9 598.7,336.9 600.5,337.9 601.1,337.8 602.3,337.0 602.9,336.9 603.5,337.1 604.7,337.9 605.3,337.9 607.1,337.0 607.7,336.9 608.3,337.0 610.1,337.8 610.7,337.9 611.3,337.8 612.5,337.1 613.1,336.9 613.7,337.0 614.9,337.6 615.5,337.7 616.1,337.7 617.3,337.3 617.9,337.2 619.7,337.5 620.9,337.5 622.7,337.1 623.3,337.0 623.9,337.2 625.1,338.0 625.7,338.1 626.3,337.7 627.5,336.6 628.1,336.5 628.7,336.9 629.9,338.0 630.5,338.1 631.1,338.0 632.9,336.9 633.5,336.8 634.1,336.9 635.3,337.8 635.9,338.0 636.5,337.8 637.7,337.0 638.3,336.9 639.5,337.7 640.1,337.9 640.7,337.8 641.9,337.0 642.5,336.9 643.1,337.0 644.9,337.8 645.5,337.9 646.1,337.8 647.9,336.9 648.5,336.9 650.3,337.7 650.9,337.8 652.7,337.2 653.3,337.2" fill="none" stroke="#200a0a" stroke-width="0.58"/>
<text x="648.2" y="333.5" font-size="3.1" font-weight="bold" fill="#5656a8" text-anchor="end">0.84</text>
<text x="262.8" y="358.61" font-size="4.2" font-weight="bold" fill="#444" text-anchor="middle">EVR</text>
<path d="M278,349.4H400.4" stroke="#b4b4b4" stroke-width="0.7"/>
<path d="M400.4,349.4V369M278,369H400.4" fill="none" stroke="#a0a0a0" stroke-width="0.8"/>
<path d="M278,349.4V369" stroke="#d8d8d8" stroke-width="1"/>
<path d="M278,353.4h1M278,359.4h1M278,365.4h1M400.4,353.4h-1M400.4,365.4h-1" stroke="#999" stroke-width="0.45"/>
<text x="276.8" y="354.5" font-size="3.1" fill="#555" text-anchor="end">2</text>
<text x="276.8" y="360.5" font-size="3.1" fill="#555" text-anchor="end">0</text>
<text x="276.8" y="366.5" font-size="3.1" fill="#555" text-anchor="end">-2</text>
<text x="279.5" y="368.4" font-size="2.4" fill="#888">x10⁻⁷</text>
<polyline points="278.5,359.4 297.1,359.4 300.1,359.5 303.7,359.1 304.9,359.3 306.7,359.9 307.3,360.0 307.9,360.0 308.5,359.8 310.3,358.5 310.9,358.3 311.5,358.4 312.1,358.9 313.3,360.7 313.9,361.4 314.5,361.4 315.1,360.7 316.3,358.0 316.9,356.9 317.5,356.5 318.1,357.0 318.7,358.2 319.9,361.3 320.5,362.2 321.1,362.4 321.7,361.8 322.3,360.5 323.5,357.4 324.1,356.4 324.7,356.2 325.3,356.9 325.9,358.2 327.1,361.5 327.7,362.5 328.3,362.6 328.9,361.8 330.1,358.8 330.7,357.5 331.3,357.0 331.9,357.2 332.5,357.9 333.7,359.8 334.3,360.4 334.9,360.5 335.5,360.3 337.3,359.3 338.5,359.0 339.7,359.0 342.7,359.7 343.9,359.6 345.7,359.1 346.3,359.1 348.1,359.6 348.7,359.7 349.3,359.7 351.1,359.1 351.7,359.0 352.3,359.0 352.9,359.1 354.7,359.7 355.9,359.9 357.1,359.7 359.5,358.7 360.1,358.6 360.7,358.7 361.3,359.1 362.5,360.0 363.1,360.3 363.7,360.4 364.3,360.1 366.1,358.7 366.7,358.6 367.3,358.7 369.1,359.7 369.7,359.8 370.3,359.8 372.7,359.2 373.9,359.1 375.1,359.3 376.9,359.8 377.5,359.9 378.1,359.7 379.9,358.8 380.5,358.6 381.1,358.7 381.7,359.0 382.9,359.9 383.5,360.1 384.1,360.2 384.7,360.0 386.5,359.0 387.1,358.9 388.3,359.0 390.7,359.7 391.3,359.7 392.5,359.3 393.1,359.4 393.7,360.1 394.3,361.0 394.9,361.4 395.5,360.9 396.7,358.2 397.3,357.2 397.9,357.1 398.5,357.9 399.1,359.2 399.7,360.1" fill="none" stroke="#c85858" stroke-width="0.45"/>
<polyline points="299.3,359.5 300.5,359.5 303.5,359.1 304.7,359.2 306.5,359.9 307.1,360.1 307.7,360.1 308.3,360.0 308.9,359.6 310.7,358.1 311.3,358.0 311.9,358.3 312.5,359.2 313.7,361.4 314.3,362.0 314.9,361.9 315.5,361.0 316.7,357.7 317.3,356.4 317.9,355.9 318.5,356.4 319.1,357.7 320.3,361.3 320.9,362.6 321.5,363.0 322.1,362.4 322.7,361.0 323.9,357.4 324.5,356.1 325.1,355.6 325.7,356.3 326.3,357.8 327.5,361.7 328.1,362.9 328.7,363.0 329.3,362.1 330.5,358.7 331.1,357.4 331.7,356.8 332.3,357.1 334.1,360.0 334.7,360.5 335.3,360.5 337.7,359.1 338.9,358.9 340.1,359.1 341.9,359.7 343.1,359.8 343.7,359.7 345.5,359.1 346.1,359.0 346.7,359.1 348.5,359.7 349.1,359.8 349.7,359.7 351.5,359.0 352.1,358.9 352.7,359.0 354.5,359.7 355.7,360.0 356.9,359.8 359.3,358.6 359.9,358.5 360.5,358.5 361.1,358.9 362.9,360.4 363.5,360.6 364.1,360.4 365.9,358.8 366.5,358.5 367.1,358.5 367.7,358.7 368.9,359.6 369.5,359.9 370.1,359.9 370.7,359.8 372.5,359.2 373.7,359.1 374.9,359.2 376.7,359.9 377.3,360.0 377.9,359.9 378.5,359.6 379.7,358.8 380.3,358.5 380.9,358.5 381.5,358.8 382.7,359.8 383.3,360.2 383.9,360.3 384.5,360.2 386.3,359.0 386.9,358.8 387.5,358.7 388.1,358.8 389.9,359.5 391.1,359.8 391.7,359.7 392.9,358.9 393.5,359.1 394.7,361.4 395.3,361.9 395.9,361.4 397.1,358.3 397.7,357.1 398.3,356.8 398.9,357.7 399.5,359.0" fill="none" stroke="#200a0a" stroke-width="0.58"/>
<text x="394.4" y="355" font-size="3.1" font-weight="bold" fill="#5656a8" text-anchor="end">0.32</text>
<path d="M405.4,349.4H527.4" stroke="#b4b4b4" stroke-width="0.7"/>
<path d="M527.4,349.4V369M405.4,369H527.4" fill="none" stroke="#a0a0a0" stroke-width="0.8"/>
<path d="M405.4,349.4V369" stroke="#d8d8d8" stroke-width="1"/>
<path d="M405.4,353.4h1M405.4,359.4h1M405.4,365.4h1M527.4,353.4h-1M527.4,365.4h-1" stroke="#999" stroke-width="0.45"/>
<text x="406.9" y="368.4" font-size="2.4" fill="#888">x10⁻⁷</text>
<polyline points="405.9,359.4 432.9,359.4 435.9,359.7 436.5,359.6 437.1,359.3 438.3,358.3 438.9,358.2 439.5,358.5 440.1,359.3 441.3,361.3 441.9,361.8 442.5,361.5 443.1,360.4 444.3,357.3 444.9,356.3 445.5,356.4 446.1,357.4 447.3,361.0 447.9,362.4 448.5,362.8 449.1,362.2 449.7,360.6 450.9,357.0 451.5,356.0 452.1,356.2 452.7,357.3 453.9,361.0 454.5,362.4 455.1,362.8 455.7,362.1 457.5,357.2 458.1,356.5 458.7,356.7 459.3,357.8 460.5,360.5 461.1,361.2 461.7,361.2 462.3,360.6 463.5,359.1 464.1,358.7 464.7,358.7 466.5,359.5 467.1,359.6 469.5,359.2 470.1,359.2 472.5,359.6 473.1,359.6 474.9,359.1 475.5,359.1 477.3,359.8 477.9,359.8 478.5,359.7 479.7,359.1 480.3,358.9 480.9,358.9 481.5,359.0 483.3,359.9 483.9,360.0 484.5,359.9 485.1,359.7 486.9,358.7 487.5,358.6 488.1,358.8 489.9,360.1 490.5,360.1 491.1,359.9 492.3,359.1 492.9,358.9 493.5,359.0 495.3,359.6 495.9,359.6 497.7,359.3 498.9,359.2 500.1,359.3 501.9,359.7 502.5,359.7 504.3,359.1 504.9,358.9 505.5,359.0 507.3,359.7 507.9,359.8 508.5,359.8 510.3,359.2 510.9,359.1 512.1,359.2 514.5,359.7 515.7,359.5 517.5,359.1 518.1,359.2 519.9,359.7 520.5,359.7 522.3,359.0 522.9,359.0 524.7,359.7 525.3,359.8 526.5,359.6" fill="none" stroke="#c85858" stroke-width="0.45"/>
<polyline points="432,359.4 433.8,359.3 434.4,359.4 436.2,360.0 436.8,360.1 437.4,359.8 438,359.2 439.2,357.6 439.8,357.3 440.4,357.8 441,359.1 442.2,362.3 442.8,363.0 443.4,362.5 444,360.9 445.2,356.5 445.8,355.2 446.4,355.2 447,356.5 448.2,361.4 448.8,363.3 449.4,364.0 450,363.2 450.6,361.2 451.8,356.3 452.4,355.0 453,355.0 453.6,356.5 454.8,361.4 455.4,363.2 456,363.8 456.6,363.0 458.4,356.8 459,355.9 459.6,356.2 460.2,357.4 461.4,360.6 462,361.3 462.6,361.3 464.4,359.2 465,358.9 465.6,358.9 467.4,359.4 468,359.5 469.8,359.2 470.4,359.2 472.2,359.6 472.8,359.7 475.2,359.0 475.8,359.1 477,359.7 477.6,359.9 478.2,359.9 480,358.8 480.6,358.7 481.2,358.9 483,359.9 483.6,360.1 484.2,360.1 484.8,359.9 486.6,358.8 487.2,358.5 487.8,358.6 488.4,358.9 489.6,360.0 490.2,360.3 490.8,360.2 492.6,358.9 493.2,358.8 493.8,359.0 495,359.6 495.6,359.7 496.2,359.7 498,359.2 498.6,359.2 499.8,359.3 501.6,359.8 502.2,359.8 502.8,359.7 504.6,358.9 505.2,358.9 505.8,359.1 507,359.7 507.6,359.9 508.2,359.9 510,359.2 511.2,359.0 514.2,359.7 514.8,359.7 515.4,359.6 517.2,359.1 517.8,359.1 519.6,359.7 520.2,359.8 520.8,359.6 522,359.0 522.6,358.9 523.2,359.0 525,359.8 525.6,359.9 526.8,359.6" fill="none" stroke="#200a0a" stroke-width="0.58"/>
<text x="521.4" y="355" font-size="3.1" font-weight="bold" fill="#5656a8" text-anchor="end">-0.32</text>
<path d="M532.2,349.4H654.2" stroke="#b4b4b4" stroke-width="0.7"/>
<path d="M654.2,349.4V369M532.2,369H654.2" fill="none" stroke="#a0a0a0" stroke-width="0.8"/>
<path d="M532.2,349.4V369" stroke="#d8d8d8" stroke-width="1"/>
<path d="M532.2,353.4h1M532.2,359.4h1M532.2,365.4h1M654.2,353.4h-1M654.2,365.4h-1" stroke="#999" stroke-width="0.45"/>
<text x="533.7" y="368.4" font-size="2.4" fill="#888">x10⁻⁷</text>
<polyline points="532.7,359.4 561.5,359.4 562.1,359.3 563.9,358.5 564.5,358.7 565.1,359.5 566.3,362.5 566.9,363.4 567.5,363.0 568.1,360.8 569.3,354.0 569.9,352.0 570.5,352.3 571.1,355.2 572.3,364.3 572.9,367.4 573.5,368.1 574.1,365.9 575.9,352.5 576.5,350.6 577.1,351.5 577.7,354.9 578.9,364.3 579.5,367.1 580.1,367.3 580.7,365.0 581.9,357.3 582.5,354.7 583.1,354.1 583.7,355.2 584.9,359.4 585.5,360.7 586.1,361.2 586.7,361.1 587.3,360.7 589.7,358.7 590.3,358.4 590.9,358.4 591.5,358.7 592.7,359.8 593.3,360.1 593.9,360.2 594.5,359.9 595.7,359.1 596.3,358.8 596.9,358.8 597.5,358.9 599.3,359.8 600.5,360.0 601.7,359.8 604.1,358.6 604.7,358.5 605.3,358.6 605.9,358.9 607.7,360.4 608.3,360.6 608.9,360.4 609.5,360.0 610.7,358.8 611.3,358.4 611.9,358.3 612.5,358.4 614.3,359.8 614.9,360.1 615.5,360.2 616.1,360.1 618.5,359.1 619.7,358.8 620.3,358.9 620.9,359.2 622.1,359.9 622.7,360.2 623.3,360.2 623.9,359.8 625.1,358.6 625.7,358.1 626.3,358.0 626.9,358.4 628.7,361.0 629.3,361.4 629.9,361.2 630.5,360.5 631.7,358.6 632.3,357.9 632.9,357.6 633.5,357.7 634.1,358.2 635.9,360.2 636.5,360.7 637.1,361.0 637.7,360.9 638.3,360.6 640.1,358.5 640.7,358.0 641.3,357.9 641.9,358.2 643.7,360.2 644.3,360.5 644.9,360.4 646.7,358.9 647.3,358.7 647.9,358.8 649.7,359.7 650.3,359.9 650.9,359.9 653.3,359.2" fill="none" stroke="#c85858" stroke-width="0.45"/>
<polyline points="561.2,359.5 561.8,359.5 562.4,359.3 564.2,358.2 564.8,358.3 565.4,359.3 566.6,363.1 567.2,364.4 567.8,364.0 568.4,361.5 569.6,353.5 570.2,351.0 570.8,351.1 571.4,354.1 572.6,364.3 573.2,368.1 573.8,369.1 574.4,367.0 576.2,352.2 576.8,349.8 577.4,350.4 578,353.9 579.2,364.2 579.8,367.6 580.4,368.1 581,365.7 582.2,357.6 582.8,354.7 583.4,354.0 584,355.1 585.2,359.3 585.8,360.7 586.4,361.3 587,361.3 587.6,360.8 589.4,358.8 590,358.3 590.6,358.2 591.2,358.4 593,360.1 593.6,360.3 594.2,360.2 596,358.8 596.6,358.6 597.2,358.7 599,359.7 599.6,360.0 600.2,360.1 600.8,360.1 601.4,359.9 602,359.7 603.8,358.6 604.4,358.4 605,358.4 605.6,358.7 607.4,360.4 608,360.7 608.6,360.7 609.2,360.4 611,358.4 611.6,358.1 612.2,358.1 612.8,358.5 614,359.7 614.6,360.1 615.2,360.3 615.8,360.3 616.4,360.1 618.2,359.1 619.4,358.7 620,358.8 620.6,359.0 622.4,360.2 623,360.4 623.6,360.1 624.2,359.5 625.4,358.0 626,357.7 626.6,358.0 627.2,358.7 628.4,360.9 629,361.6 629.6,361.7 630.2,361.1 632,357.9 632.6,357.3 633.2,357.3 633.8,357.7 636.2,360.7 636.8,361.1 637.4,361.3 638,361.0 638.6,360.4 639.8,358.6 640.4,357.9 641,357.6 641.6,357.8 642.2,358.4 643.4,360.1 644,360.6 644.6,360.7 645.2,360.3 646.4,359.1 647,358.7 647.6,358.6 648.2,358.8 649.4,359.6 650,359.9 650.6,360.0 651.2,359.9 653,359.2 653.6,359.1" fill="none" stroke="#200a0a" stroke-width="0.58"/>
<text x="648.2" y="355" font-size="3.1" font-weight="bold" fill="#5656a8" text-anchor="end">0.16</text>
<text x="262.8" y="380.61" font-size="4.2" font-weight="bold" fill="#444" text-anchor="middle">AMT</text>
<path d="M278,371.8H400.4" stroke="#b4b4b4" stroke-width="0.7"/>
<path d="M400.4,371.8V391.7M278,391.7H400.4" fill="none" stroke="#a0a0a0" stroke-width="0.8"/>
<path d="M278,371.8V391.7" stroke="#d8d8d8" stroke-width="1"/>
<path d="M278,375.5h1M278,381.5h1M278,387.5h1M400.4,375.5h-1M400.4,387.5h-1" stroke="#999" stroke-width="0.45"/>
<text x="276.8" y="376.6" font-size="3.1" fill="#555" text-anchor="end">2</text>
<text x="276.8" y="382.6" font-size="3.1" fill="#555" text-anchor="end">0</text>
<text x="276.8" y="388.6" font-size="3.1" fill="#555" text-anchor="end">-2</text>
<text x="279.5" y="391.1" font-size="2.4" fill="#888">x10⁻⁷</text>
<polyline points="278.5,381.5 300.7,381.5 301.3,381.5 302.5,381.9 303.1,381.9 303.7,381.3 304.3,380.2 304.9,379.6 305.5,380.6 306.7,385.4 307.3,384.8 308.5,377.3 309.1,376.2 309.7,379.0 310.3,383.8 310.9,387.0 311.5,386.3 312.7,377.5 313.3,375.8 313.9,378.2 314.5,383.0 315.1,386.6 315.7,386.3 316.9,378.7 317.5,377.2 318.1,378.9 318.7,381.8 319.3,383.6 319.9,383.5 321.1,381.2 321.7,380.7 322.3,380.5 322.9,380.6 323.5,381.3 324.1,382.4 324.7,383.1 325.3,382.8 326.5,380.1 327.1,379.5 327.7,380.2 328.9,383.1 329.5,383.5 330.1,382.6 331.3,379.7 331.9,379.5 332.5,380.6 333.1,382.3 333.7,383.3 334.3,383.2 335.5,380.6 336.1,379.9 336.7,380.3 337.9,382.2 338.5,382.4 339.7,381.5 340.3,381.3 341.5,381.6 342.1,381.5 343.3,381.2 343.9,381.2 345.7,381.8 346.3,381.9 346.9,381.9 347.5,381.6 348.7,381.0 349.3,380.9 349.9,381.1 351.1,382.1 351.7,382.2 352.3,381.9 353.5,381.1 354.1,381.0 355.3,381.6 355.9,381.8 356.5,381.8 358.3,381.2 358.9,381.1 359.5,381.3 360.7,382.0 361.3,382.3 361.9,382.1 363.1,380.7 363.7,380.4 364.3,380.7 365.5,382.2 366.1,382.5 366.7,382.3 367.9,381.2 368.5,380.9 369.1,380.9 369.7,381.1 371.5,381.9 372.1,381.9 373.9,381.1 374.5,381.2 375.7,381.8 376.3,381.8 376.9,381.7 378.1,381.1 378.7,381.1 380.5,381.8 381.1,381.9 381.7,381.8 383.5,381.1 384.1,381.0 384.7,381.1 385.9,381.9 386.5,382.2 387.1,382.1 388.3,381.1 388.9,380.8 389.5,381.0 390.7,381.8 391.3,381.9 393.1,381.3 393.7,381.2 394.3,381.3 396.1,381.9 396.7,381.8 398.5,380.9 399.1,381.0 399.7,381.3" fill="none" stroke="#c87878" stroke-width="0.5"/>
<polyline points="278.5,381.5 301.3,381.5 301.9,381.6 302.5,382.0 303.1,382.1 303.7,381.4 304.3,380.0 304.9,379.0 305.5,380.0 306.7,386.2 307.3,386.1 307.9,382.1 308.5,376.9 309.1,374.7 309.7,377.4 310.3,383.3 310.9,388.0 311.5,388.0 312.1,383.3 312.7,377.3 313.3,374.3 313.9,376.6 315.1,387.3 315.7,387.9 316.3,384.0 316.9,378.8 317.5,376.3 318.1,377.8 318.7,381.3 319.3,383.8 319.9,384.0 321.1,381.4 321.7,380.6 322.3,380.2 322.9,380.3 323.5,381.1 324.1,382.4 324.7,383.4 325.3,383.3 325.9,381.9 326.5,380.1 327.1,379.0 327.7,379.6 328.9,383.3 329.5,384.1 330.1,383.2 331.3,379.5 331.9,379.0 332.5,380.1 333.1,382.1 333.7,383.7 334.3,383.8 334.9,382.5 335.5,380.7 336.1,379.6 336.7,379.9 337.9,382.2 338.5,382.6 339.1,382.2 339.7,381.6 340.3,381.3 341.5,381.5 342.1,381.5 343.3,381.2 343.9,381.2 345.7,381.8 346.3,381.9 346.9,381.9 347.5,381.6 348.7,381.0 349.3,380.9 349.9,381.1 351.1,382.1 351.7,382.2 352.3,381.9 353.5,381.1 354.1,381.0 355.3,381.6 355.9,381.8 356.5,381.8 358.3,381.2 358.9,381.1 359.5,381.3 360.7,382.0 361.3,382.3 361.9,382.1 363.1,380.7 363.7,380.4 364.3,380.7 365.5,382.2 366.1,382.5 366.7,382.3 367.9,381.2 368.5,380.9 369.1,380.9 369.7,381.1 371.5,381.9 372.1,381.9 373.9,381.1 374.5,381.2 375.7,381.8 376.3,381.8 376.9,381.7 378.1,381.1 378.7,381.1 380.5,381.8 381.1,381.9 381.7,381.8 383.5,381.1 384.1,381.0 384.7,381.1 385.9,381.9 386.5,382.2 387.1,382.1 388.3,381.1 388.9,380.8 389.5,381.0 390.7,381.8 391.3,381.9 393.1,381.3 393.7,381.2 394.3,381.3 396.1,381.9 396.7,381.8 398.5,380.9 399.1,381.0 399.7,381.3" fill="none" stroke="#6e6464" stroke-width="0.55"/>
<text x="394.4" y="377.4" font-size="3.1" font-weight="bold" fill="#5656a8" text-anchor="end">-1.28</text>
<path d="M405.4,371.8H527.4" stroke="#b4b4b4" stroke-width="0.7"/>
<path d="M527.4,371.8V391.7M405.4,391.7H527.4" fill="none" stroke="#a0a0a0" stroke-width="0.8"/>
<path d="M405.4,371.8V391.7" stroke="#d8d8d8" stroke-width="1"/>
<path d="M405.4,375.5h1M405.4,381.5h1M405.4,387.5h1M527.4,375.5h-1M527.4,387.5h-1" stroke="#999" stroke-width="0.45"/>
<text x="406.9" y="391.1" font-size="2.4" fill="#888">x10⁻⁷</text>
<polyline points="405.9,381.5 421.5,381.5 422.7,381.3 423.3,381.3 424.5,382.0 425.1,382.1 426.3,380.8 426.9,380.6 427.5,381.2 428.1,382.1 428.7,382.5 429.3,382.1 429.9,381.2 430.5,380.5 431.1,380.7 432.3,382.3 432.9,382.4 434.1,381.0 434.7,380.7 435.3,381.1 436.5,382.7 437.1,381.8 437.7,379.4 438.3,378.7 439.5,386.4 440.1,385.0 440.7,378.7 441.3,375.0 441.9,379.0 442.5,386.1 443.1,387.9 444.3,375.6 444.9,376.0 445.5,382.8 446.1,387.9 446.7,385.4 447.3,378.8 447.9,376.2 449.1,384.1 449.7,384.0 450.3,381.5 450.9,380.4 452.1,381.9 452.7,381.8 453.9,381.0 454.5,381.0 455.1,381.3 456.3,382.3 456.9,382.2 458.1,380.8 458.7,380.7 459.9,382.0 460.5,382.1 461.7,381.2 462.3,381.2 463.5,381.8 464.1,381.9 464.7,381.7 465.9,380.9 466.5,380.9 467.1,381.4 467.7,382.1 468.3,382.3 468.9,381.9 469.5,381.1 470.1,380.8 470.7,381.0 471.3,381.5 471.9,381.9 472.5,381.9 474.3,381.2 474.9,381.2 476.1,381.7 476.7,381.8 477.9,381.2 478.5,381.2 479.7,381.9 480.3,381.9 481.5,381.1 482.1,380.9 482.7,381.2 483.9,382.1 484.5,382.2 485.1,381.8 486.3,380.6 486.9,380.8 488.1,382.3 488.7,382.3 489.9,381.0 490.5,381.0 491.7,381.8 492.3,381.8 493.5,381.2 494.1,381.1 494.7,381.2 495.9,382.1 496.5,382.1 497.7,380.9 498.3,380.7 498.9,381.2 499.5,381.9 500.1,382.1 500.7,381.9 501.9,381.2 502.5,381.1 504.3,381.8 504.9,381.8 506.1,381.3 506.7,381.2 507.9,381.8 508.5,381.8 509.7,381.0 510.3,381.1 511.5,381.9 512.1,382.1 512.7,381.9 513.9,380.9 514.5,380.7 515.1,381.1 515.7,381.9 516.3,382.4 516.9,382.2 518.1,380.8 518.7,380.9 519.3,381.5 519.9,381.9 520.5,381.9 521.7,381.2 522.3,381.3 524.1,381.9 524.7,381.8 525.9,381.1 526.5,381.1" fill="none" stroke="#c87878" stroke-width="0.5"/>
<polyline points="405.9,381.5 421.5,381.5 422.7,381.3 423.3,381.2 423.9,381.6 424.5,382.1 425.1,382.3 425.7,381.7 426.3,380.7 426.9,380.3 427.5,380.9 428.1,382.1 428.7,382.8 429.3,382.4 430.5,380.3 431.1,380.3 432.3,382.4 432.9,382.7 433.5,382.0 434.1,381.0 434.7,380.6 435.3,380.9 436.5,383.0 437.1,382.2 437.7,379.1 438.3,377.7 438.9,381.7 439.5,387.3 440.1,386.7 440.7,379.1 441.3,373.4 441.9,377.2 442.5,386.3 443.1,389.8 443.7,383.6 444.3,374.9 444.9,373.9 446.1,389.1 446.7,387.2 447.3,379.1 447.9,374.9 448.5,378.7 449.1,384.2 449.7,384.8 450.3,381.9 450.9,380.3 451.5,380.9 452.1,381.9 452.7,381.9 453.9,381.0 454.5,381.0 455.1,381.3 456.3,382.3 456.9,382.2 458.1,380.8 458.7,380.7 459.9,382.0 460.5,382.1 461.7,381.2 462.3,381.2 463.5,381.8 464.1,381.9 464.7,381.7 465.9,380.9 466.5,380.9 467.1,381.4 467.7,382.1 468.3,382.3 468.9,381.9 469.5,381.1 470.1,380.8 470.7,381.0 471.3,381.5 471.9,381.9 472.5,381.9 474.3,381.2 474.9,381.2 476.1,381.7 476.7,381.8 477.9,381.2 478.5,381.2 479.7,381.9 480.3,381.9 481.5,381.1 482.1,380.9 482.7,381.2 483.9,382.1 484.5,382.2 485.1,381.8 486.3,380.6 486.9,380.8 488.1,382.3 488.7,382.3 489.9,381.0 490.5,381.0 491.7,381.8 492.3,381.8 493.5,381.2 494.1,381.1 494.7,381.2 495.9,382.1 496.5,382.1 497.7,380.9 498.3,380.7 498.9,381.2 499.5,381.9 500.1,382.1 500.7,381.9 501.9,381.2 502.5,381.1 504.3,381.8 504.9,381.8 506.1,381.3 506.7,381.2 507.9,381.8 508.5,381.8 509.7,381.0 510.3,381.1 511.5,381.9 512.1,382.1 512.7,381.9 513.9,380.9 514.5,380.7 515.1,381.1 515.7,381.9 516.3,382.4 516.9,382.2 518.1,380.8 518.7,380.9 519.3,381.5 519.9,381.9 520.5,381.9 521.7,381.2 522.3,381.3 524.1,381.9 524.7,381.8 525.9,381.1 526.5,381.1" fill="none" stroke="#6e6464" stroke-width="0.55"/>
<text x="521.4" y="377.4" font-size="3.1" font-weight="bold" fill="#5656a8" text-anchor="end">-1.88</text>
<path d="M532.2,371.8H654.2" stroke="#b4b4b4" stroke-width="0.7"/>
<path d="M654.2,371.8V391.7M532.2,391.7H654.2" fill="none" stroke="#a0a0a0" stroke-width="0.8"/>
<path d="M532.2,371.8V391.7" stroke="#d8d8d8" stroke-width="1"/>
<path d="M532.2,375.5h1M532.2,381.5h1M532.2,387.5h1M654.2,375.5h-1M654.2,387.5h-1" stroke="#999" stroke-width="0.45"/>
<text x="533.7" y="391.1" font-size="2.4" fill="#888">x10⁻⁷</text>
<polyline points="532.7,381.5 548.3,381.5 549.5,381.3 550.1,381.3 551.3,382.0 551.9,382.1 553.1,380.8 553.7,380.6 554.3,381.2 554.9,382.1 555.5,382.5 556.1,382.1 556.7,381.2 557.3,380.5 557.9,380.7 559.1,382.3 559.7,382.4 560.3,381.9 561.5,380.6 562.1,380.7 562.7,382.3 563.3,382.9 563.9,380.3 564.5,379.6 565.1,383.5 565.7,384.1 566.3,378.9 566.9,378.4 567.5,384.5 568.1,384.9 568.7,378.3 569.3,378.0 569.9,384.7 570.5,385.0 571.1,378.3 571.7,378.0 572.3,384.7 572.9,384.9 573.5,378.3 574.1,378.1 574.7,384.4 575.3,384.5 575.9,379.2 576.5,379.2 577.1,383.2 577.7,382.9 578.3,380.3 578.9,380.8 579.5,382.2 580.1,381.9 580.7,381.1 581.3,381.2 581.9,381.5 583.1,381.7 583.7,381.7 584.9,381.2 585.5,381.1 586.1,381.3 586.7,381.7 587.3,381.9 587.9,381.8 589.1,381.2 589.7,381.2 590.9,381.6 591.5,381.7 593.9,381.3 595.7,381.8 596.3,381.5 596.9,381.2 597.5,381.1 598.7,382.0 599.3,382.1 599.9,381.7 600.5,381.2 601.1,380.9 601.7,381.0 602.9,381.9 603.5,382.2 604.1,382.0 605.3,380.9 605.9,380.8 607.1,381.9 607.7,382.0 608.9,381.2 609.5,381.2 610.7,381.7 611.3,381.7 613.1,381.2 613.7,381.2 614.9,381.8 615.5,381.9 616.1,381.7 616.7,381.3 617.3,381.1 617.9,381.2 619.1,381.8 619.7,381.8 620.9,381.4 621.5,381.3 622.1,381.3 623.3,381.7 623.9,381.7 625.1,381.3 625.7,381.2 626.9,381.9 627.5,382.0 628.7,381.0 629.3,380.9 629.9,381.2 630.5,381.8 631.1,382.1 631.7,382.1 633.5,380.8 634.1,380.9 635.3,382.1 635.9,382.1 637.1,381.1 637.7,381.1 638.9,381.8 639.5,381.7 640.7,381.3 641.3,381.3 643.1,381.8 643.7,381.8 644.9,381.2 645.5,381.1 646.1,381.3 646.7,381.7 647.3,381.9 647.9,381.8 649.1,381.3 649.7,381.3 651.5,381.7 652.1,381.6 653.3,381.4" fill="none" stroke="#c87878" stroke-width="0.5"/>
<polyline points="532.7,381.5 548.3,381.5 549.5,381.3 550.1,381.2 550.7,381.6 551.3,382.1 551.9,382.3 552.5,381.7 553.1,380.7 553.7,380.3 554.3,380.9 554.9,382.1 555.5,382.8 556.1,382.4 557.3,380.3 557.9,380.3 559.1,382.4 559.7,382.6 560.3,382.1 561.5,380.4 562.1,380.3 562.7,382.3 563.3,383.4 563.9,380.3 564.5,378.9 565.1,383.6 565.7,385.1 566.3,378.8 566.9,377.2 567.5,384.6 568.1,386.2 568.7,378.2 569.3,376.6 569.9,384.8 570.5,386.4 571.1,378.2 571.7,376.6 572.3,384.8 572.9,386.3 573.5,378.2 574.1,376.8 574.7,384.5 575.3,385.7 575.9,379.2 576.5,378.3 577.1,383.2 577.7,383.5 578.3,380.3 578.9,380.4 579.5,382.3 580.1,382.0 580.7,381.1 581.3,381.1 581.9,381.5 583.1,381.7 583.7,381.7 584.9,381.2 585.5,381.1 586.1,381.3 586.7,381.7 587.3,381.9 587.9,381.8 589.1,381.2 589.7,381.2 590.9,381.6 591.5,381.7 593.9,381.3 595.7,381.8 596.3,381.5 596.9,381.2 597.5,381.1 598.7,382.0 599.3,382.1 599.9,381.7 600.5,381.2 601.1,380.9 601.7,381.0 602.9,381.9 603.5,382.2 604.1,382.0 605.3,380.9 605.9,380.8 607.1,381.9 607.7,382.0 608.9,381.2 609.5,381.2 610.7,381.7 611.3,381.7 613.1,381.2 613.7,381.2 614.9,381.8 615.5,381.9 616.1,381.7 616.7,381.3 617.3,381.1 617.9,381.2 619.1,381.8 619.7,381.8 620.9,381.4 621.5,381.3 622.1,381.3 623.3,381.7 623.9,381.7 625.1,381.3 625.7,381.2 626.9,381.9 627.5,382.0 628.7,381.0 629.3,380.9 629.9,381.2 630.5,381.8 631.1,382.1 631.7,382.1 633.5,380.8 634.1,380.9 635.3,382.1 635.9,382.1 637.1,381.1 637.7,381.1 638.9,381.8 639.5,381.7 640.7,381.3 641.3,381.3 643.1,381.8 643.7,381.8 644.9,381.2 645.5,381.1 646.1,381.3 646.7,381.7 647.3,381.9 647.9,381.8 649.1,381.3 649.7,381.3 651.5,381.7 652.1,381.6 653.3,381.4" fill="none" stroke="#6e6464" stroke-width="0.55"/>
<text x="648.2" y="377.4" font-size="3.1" font-weight="bold" fill="#5656a8" text-anchor="end">-2.88</text>
<text x="262.8" y="403.01" font-size="4.2" font-weight="bold" fill="#444" text-anchor="middle">ITM</text>
<path d="M278,394H400.4" stroke="#b4b4b4" stroke-width="0.7"/>
<path d="M400.4,394V413.4M278,413.4H400.4" fill="none" stroke="#a0a0a0" stroke-width="0.8"/>
<path d="M278,394V413.4" stroke="#d8d8d8" stroke-width="1"/>
<path d="M278,397.7h1M278,403.7h1M278,409.7h1M400.4,397.7h-1M400.4,409.7h-1" stroke="#999" stroke-width="0.45"/>
<text x="276.8" y="398.8" font-size="3.1" fill="#555" text-anchor="end">2</text>
<text x="276.8" y="404.8" font-size="3.1" fill="#555" text-anchor="end">0</text>
<text x="276.8" y="410.8" font-size="3.1" fill="#555" text-anchor="end">-2</text>
<text x="279.5" y="412.8" font-size="2.4" fill="#888">x10⁻⁷</text>
<polyline points="278.5,403.7 295.3,403.7 297.7,403.8 300.1,403.6 302.5,403.9 304.9,403.5 307.3,403.9 309.7,403.5 312.1,403.9 314.5,403.5 316.9,403.8 319.3,403.6 321.7,403.7 323.5,403.5 324.1,403.6 325.9,404.3 326.5,404.3 327.1,403.9 328.3,402.6 328.9,402.3 329.5,402.7 331.3,405.5 331.9,405.7 332.5,405.1 333.7,402.5 334.3,401.6 334.9,401.5 335.5,402.3 336.7,405.1 337.3,406.0 337.9,405.9 338.5,405.0 339.7,402.2 340.3,401.4 340.9,401.5 341.5,402.5 342.7,405.3 343.3,406.0 343.9,405.8 344.5,404.8 345.7,402.2 346.3,401.7 346.9,402.0 348.1,404.0 348.7,404.8 349.3,405.0 349.9,404.7 351.1,403.5 351.7,403.3 352.3,403.3 353.5,403.6 355.3,403.6 357.7,403.9 359.5,403.5 360.7,403.4 363.7,404.1 364.3,404.1 364.9,403.9 366.7,402.9 367.3,402.9 367.9,403.2 369.1,404.4 369.7,404.7 370.3,404.7 370.9,404.2 372.1,403.1 372.7,402.9 373.3,402.9 375.1,404.0 375.7,404.2 376.3,404.2 376.9,404.1 378.7,403.4 379.3,403.3 379.9,403.4 381.7,404.2 382.3,404.2 382.9,403.9 384.1,403.1 384.7,403.0 385.3,403.2 386.5,404.1 387.1,404.4 387.7,404.4 389.5,403.5 390.1,403.3 390.7,403.2 391.9,403.4 393.7,404.1 394.3,404.1 394.9,404.1 396.7,403.4 397.3,403.3 399.7,403.9" fill="none" stroke="#c87878" stroke-width="0.5"/>
<polyline points="278.5,403.7 292.9,403.7 295.3,403.6 297.1,404.0 297.7,404.0 298.3,403.8 299.5,403.3 300.1,403.3 300.7,403.5 301.9,404.1 302.5,404.2 303.1,404.0 304.3,403.2 304.9,403.1 305.5,403.3 306.7,404.1 307.3,404.3 307.9,404.2 309.1,403.3 309.7,403.1 310.3,403.2 311.5,404.0 312.1,404.3 312.7,404.2 314.5,403.2 315.1,403.2 316.9,404.1 317.5,404.1 319.3,403.5 319.9,403.5 321.1,403.8 321.7,403.8 323.5,403.1 324.1,403.3 324.7,404.0 325.9,405.8 326.5,405.8 327.1,404.7 328.3,400.4 328.9,399.1 329.5,399.7 330.1,402.2 331.3,409.1 331.9,410.4 332.5,409.0 333.1,405.2 333.7,400.6 334.3,397.1 334.9,396.1 335.5,398.1 336.7,407.3 337.3,410.8 337.9,411.5 338.5,409.1 339.7,399.7 340.3,396.4 340.9,396.0 341.5,398.7 342.7,408.0 343.3,411.0 343.9,411.0 344.5,408.2 345.7,399.5 346.3,397.2 346.9,397.6 347.5,400.3 348.7,406.9 349.3,408.2 349.9,407.5 351.1,403.4 351.7,402.1 352.3,401.8 352.9,402.3 353.5,403.1 354.1,403.8 354.7,404.0 356.5,403.8 357.7,403.9 360.1,403.4 361.3,403.6 363.1,404.0 363.7,404.1 364.3,404.1 364.9,403.9 366.7,402.9 367.3,402.9 367.9,403.2 369.1,404.4 369.7,404.7 370.3,404.7 370.9,404.2 372.1,403.1 372.7,402.9 373.3,402.9 375.1,404.0 375.7,404.2 376.3,404.2 376.9,404.1 378.7,403.4 379.3,403.3 379.9,403.4 381.7,404.2 382.3,404.2 382.9,403.9 384.1,403.1 384.7,403.0 385.3,403.2 386.5,404.1 387.1,404.4 387.7,404.4 389.5,403.5 390.1,403.3 390.7,403.2 391.9,403.4 393.7,404.1 394.3,404.1 394.9,404.1 396.7,403.4 397.3,403.3 399.7,403.9" fill="none" stroke="#6e6464" stroke-width="0.55"/>
<text x="394.4" y="399.6" font-size="3.1" font-weight="bold" fill="#5656a8" text-anchor="end">0.88</text>
<path d="M405.4,394H527.4" stroke="#b4b4b4" stroke-width="0.7"/>
<path d="M527.4,394V413.4M405.4,413.4H527.4" fill="none" stroke="#a0a0a0" stroke-width="0.8"/>
<path d="M405.4,394V413.4" stroke="#d8d8d8" stroke-width="1"/>
<path d="M405.4,397.7h1M405.4,403.7h1M405.4,409.7h1M527.4,397.7h-1M527.4,409.7h-1" stroke="#999" stroke-width="0.45"/>
<text x="406.9" y="412.8" font-size="2.4" fill="#888">x10⁻⁷</text>
<polyline points="405.9,403.7 422.1,403.7 424.5,403.8 426.9,403.6 429.3,403.9 432.3,403.5 434.1,403.9 434.7,403.9 437.1,403.5 439.5,403.9 441.9,403.5 444.3,403.8 446.7,403.6 450.9,403.8 451.5,403.7 453.3,403.2 453.9,403.2 454.5,403.3 455.1,403.7 456.3,404.7 456.9,404.9 457.5,404.7 458.1,404.1 459.3,402.5 459.9,402.1 460.5,402.2 461.1,402.7 462.3,404.6 462.9,405.3 463.5,405.5 464.1,405.1 465.9,402.4 466.5,402.0 467.1,402.1 467.7,402.7 468.9,404.6 469.5,405.2 470.1,405.4 470.7,405.0 472.5,402.6 473.1,402.3 473.7,402.5 475.5,404.2 476.1,404.5 476.7,404.5 478.5,403.5 479.1,403.3 479.7,403.3 482.1,403.9 483.3,404.0 483.9,403.9 485.7,403.4 486.3,403.4 486.9,403.5 488.1,403.9 488.7,404.0 489.3,404.0 491.1,403.4 491.7,403.4 493.5,404.0 494.1,404.1 494.7,404.0 496.5,403.4 497.7,403.2 498.3,403.3 500.1,404.3 500.7,404.5 501.3,404.4 501.9,404.0 503.1,403.0 503.7,402.8 504.3,403.0 506.1,404.2 506.7,404.3 507.3,404.1 508.5,403.6 509.7,403.4 512.7,403.9 513.3,403.9 515.7,403.4 516.3,403.5 518.1,404.1 518.7,404.1 520.5,403.4 521.1,403.3 521.7,403.4 524.1,403.9 525.3,403.9 526.5,403.7" fill="none" stroke="#c87878" stroke-width="0.5"/>
<polyline points="405.9,403.7 420.3,403.7 422.7,403.6 424.5,404.0 425.1,404.0 426.9,403.3 427.5,403.3 429.3,404.2 429.9,404.2 430.5,404.0 431.7,403.2 432.3,403.1 432.9,403.3 434.1,404.2 434.7,404.3 435.3,404.1 436.5,403.3 437.1,403.1 437.7,403.2 438.9,404.1 439.5,404.3 440.1,404.2 441.3,403.4 441.9,403.2 442.5,403.2 444.3,404.1 444.9,404.1 446.7,403.4 447.3,403.4 449.7,404.0 450.9,404.1 451.5,404.0 452.1,403.6 453.3,402.2 453.9,401.8 454.5,402.1 455.1,403.2 456.3,406.7 456.9,407.8 457.5,407.5 458.1,405.8 459.3,400.4 459.9,398.5 460.5,398.3 461.1,399.8 462.3,406.0 462.9,408.5 463.5,409.6 464.1,408.8 464.7,406.3 465.9,400.0 466.5,398.1 467.1,398.0 467.7,399.7 468.9,405.9 469.5,408.4 470.1,409.3 470.7,408.3 472.5,400.7 473.1,399.5 473.7,399.8 474.3,401.3 475.5,404.9 476.1,405.7 476.7,405.7 477.3,405.1 478.5,403.4 479.1,403.1 479.7,403.0 481.5,403.7 482.7,404.0 483.9,403.9 485.7,403.4 486.3,403.4 488.7,404.0 489.3,404.0 491.1,403.4 491.7,403.4 493.5,404.0 494.1,404.1 494.7,404.0 496.5,403.4 497.7,403.2 498.3,403.3 500.1,404.3 500.7,404.5 501.3,404.4 501.9,404.0 503.1,403.0 503.7,402.8 504.3,403.0 506.1,404.2 506.7,404.3 507.3,404.1 508.5,403.6 509.7,403.4 512.7,403.9 513.3,403.9 515.7,403.4 516.3,403.5 518.1,404.1 518.7,404.1 520.5,403.4 521.1,403.3 521.7,403.4 524.1,403.9 525.3,403.9 526.5,403.7" fill="none" stroke="#6e6464" stroke-width="0.55"/>
<text x="521.4" y="399.6" font-size="3.1" font-weight="bold" fill="#5656a8" text-anchor="end">-0.88</text>
<path d="M532.2,394H654.2" stroke="#b4b4b4" stroke-width="0.7"/>
<path d="M654.2,394V413.4M532.2,413.4H654.2" fill="none" stroke="#a0a0a0" stroke-width="0.8"/>
<path d="M532.2,394V413.4" stroke="#d8d8d8" stroke-width="1"/>
<path d="M532.2,397.7h1M532.2,403.7h1M532.2,409.7h1M654.2,397.7h-1M654.2,409.7h-1" stroke="#999" stroke-width="0.45"/>
<text x="533.7" y="412.8" font-size="2.4" fill="#888">x10⁻⁷</text>
<polyline points="532.7,403.7 571.1,403.6 574.1,404.1 574.7,403.9 576.5,402.6 577.1,402.5 577.7,403.0 578.9,404.8 579.5,405.6 580.1,405.8 580.7,405.1 581.9,402.5 582.5,401.4 583.1,401.1 583.7,401.7 585.5,406.0 586.1,406.5 586.7,406.0 587.3,404.7 588.5,401.7 589.1,401.0 589.7,401.2 590.3,402.3 591.5,405.4 592.1,406.3 592.7,406.3 593.3,405.4 594.5,402.6 595.1,401.7 595.7,401.4 596.3,401.9 597.5,404.0 598.1,404.7 598.7,405.0 599.3,404.9 602.9,403.0 603.5,402.7 604.1,402.7 604.7,403.2 605.9,404.6 606.5,404.9 607.1,404.7 608.3,402.9 608.9,402.2 609.5,402.2 610.1,403.0 611.3,405.2 611.9,405.7 612.5,405.4 613.1,404.6 614.3,402.5 614.9,401.9 615.5,401.8 616.1,402.1 616.7,402.8 618.5,405.7 619.1,406.0 619.7,405.7 620.3,404.7 621.5,402.0 622.1,401.4 622.7,401.6 623.3,402.5 624.5,404.8 625.1,405.3 625.7,405.1 626.9,403.6 627.5,403.1 628.1,402.9 628.7,403.1 629.9,403.8 630.5,404.0 631.1,404.1 632.3,403.9 634.1,403.1 634.7,403.0 635.3,403.1 635.9,403.6 637.1,404.7 637.7,404.9 638.3,404.7 640.1,402.5 640.7,402.2 641.3,402.4 643.1,404.6 643.7,405.0 644.3,405.0 644.9,404.6 646.7,403.0 647.3,402.7 647.9,402.6 648.5,402.8 650.3,404.5 650.9,404.8 651.5,404.5 652.7,403.3 653.3,403.0" fill="none" stroke="#c87878" stroke-width="0.5"/>
<polyline points="532.7,403.7 568.1,403.7 571.1,403.5 571.7,403.6 572.3,403.8 573.5,404.8 574.1,405.1 574.7,404.7 575.3,403.5 576.5,400.2 577.1,399.6 577.7,400.6 578.3,403.2 579.5,409.7 580.1,410.8 580.7,409.4 581.3,405.5 582.5,396.6 583.1,394.9 583.7,396.3 584.3,400.3 585.5,410.4 586.1,412.8 586.7,412.0 587.3,408.4 588.5,398.0 589.1,394.9 589.7,394.9 590.3,397.9 591.5,408.1 592.1,411.7 592.7,412.4 593.3,410.1 594.5,400.9 595.1,397.5 595.7,396.4 596.3,397.9 597.5,404.5 598.1,407.0 598.7,407.9 599.3,407.2 600.5,404.2 601.1,403.2 601.7,402.7 602.3,402.6 603.5,402.6 604.1,402.8 604.7,403.3 605.9,404.6 606.5,404.9 607.1,404.7 608.3,402.9 608.9,402.2 609.5,402.2 610.1,403.0 611.3,405.2 611.9,405.7 612.5,405.4 613.1,404.6 614.3,402.5 614.9,401.9 615.5,401.8 616.1,402.1 616.7,402.8 618.5,405.7 619.1,406.0 619.7,405.7 620.3,404.7 621.5,402.0 622.1,401.4 622.7,401.6 623.3,402.5 624.5,404.8 625.1,405.3 625.7,405.1 626.9,403.6 627.5,403.1 628.1,402.9 628.7,403.1 629.9,403.8 630.5,404.0 631.1,404.1 632.3,403.9 634.1,403.1 634.7,403.0 635.3,403.1 635.9,403.6 637.1,404.7 637.7,404.9 638.3,404.7 640.1,402.5 640.7,402.2 641.3,402.4 643.1,404.6 643.7,405.0 644.3,405.0 644.9,404.6 646.7,403.0 647.3,402.7 647.9,402.6 648.5,402.8 650.3,404.5 650.9,404.8 651.5,404.5 652.7,403.3 653.3,403.0" fill="none" stroke="#6e6464" stroke-width="0.55"/>
<text x="648.2" y="399.6" font-size="3.1" font-weight="bold" fill="#5656a8" text-anchor="end">0.88</text>
<text x="262.8" y="425.51" font-size="4.2" font-weight="bold" fill="#444" text-anchor="middle">KPRO</text>
<path d="M278,416.4H400.4" stroke="#b4b4b4" stroke-width="0.7"/>
<path d="M400.4,416.4V434.9M278,434.9H400.4" fill="none" stroke="#a0a0a0" stroke-width="0.8"/>
<path d="M278,416.4V434.9" stroke="#d8d8d8" stroke-width="1"/>
<path d="M278,419.9h1M278,425.9h1M278,431.9h1M400.4,419.9h-1M400.4,431.9h-1" stroke="#999" stroke-width="0.45"/>
<text x="276.8" y="421" font-size="3.1" fill="#555" text-anchor="end">2</text>
<text x="276.8" y="427" font-size="3.1" fill="#555" text-anchor="end">0</text>
<text x="276.8" y="433" font-size="3.1" fill="#555" text-anchor="end">-2</text>
<text x="279.5" y="434.3" font-size="2.4" fill="#888">x10⁻⁷</text>
<polyline points="278.5,425.9 314.5,425.9 315.7,425.9 317.5,426.2 318.1,426.2 318.7,425.9 319.9,424.8 320.5,424.4 321.1,424.5 321.7,425.4 322.9,428.2 323.5,429.1 324.1,429.0 324.7,427.7 325.9,423.3 326.5,421.7 327.1,421.6 327.7,422.8 328.9,427.9 329.5,429.9 330.1,430.6 330.7,429.8 331.3,427.7 332.5,422.6 333.1,421.3 333.7,421.5 334.3,423.1 335.5,428.3 336.1,430.0 336.7,430.4 337.3,429.2 338.5,424.7 339.1,423.0 339.7,422.4 340.3,423.0 341.5,426.1 342.1,427.4 342.7,427.9 343.3,427.5 344.5,425.8 345.1,425.1 345.7,424.9 346.3,425.2 347.5,426.3 348.1,426.6 348.7,426.6 350.5,425.5 351.1,425.4 351.7,425.5 353.5,426.1 354.7,426.3 355.3,426.1 357.1,425.3 357.7,425.3 358.3,425.7 359.5,426.9 360.1,427.1 360.7,426.8 361.9,425.1 362.5,424.5 363.1,424.5 363.7,425.0 364.9,426.6 365.5,427.0 366.1,427.1 366.7,426.8 368.5,425.3 369.1,425.0 369.7,425.0 370.3,425.2 372.1,426.6 372.7,426.7 373.3,426.5 374.5,425.6 375.1,425.3 375.7,425.4 377.5,426.3 378.1,426.3 379.9,425.6 380.5,425.5 381.1,425.5 382.9,426.2 384.1,426.4 384.7,426.3 385.3,426.1 386.5,425.4 387.1,425.2 387.7,425.2 388.3,425.5 389.5,426.5 390.1,426.8 390.7,426.8 391.3,426.4 392.5,425.3 393.1,425.1 393.7,425.2 395.5,426.2 396.1,426.3 396.7,426.3 398.5,425.8 399.7,425.7" fill="none" stroke="#c85858" stroke-width="0.45"/>
<polyline points="314.7,425.9 315.9,425.9 317.7,426.3 318.3,426.2 318.9,425.8 320.1,424.5 320.7,424.2 321.3,424.4 321.9,425.5 323.1,428.6 323.7,429.4 324.3,429.1 324.9,427.5 326.1,422.8 326.7,421.4 327.3,421.4 327.9,422.9 329.1,428.3 329.7,430.3 330.3,430.9 330.9,429.8 332.7,422.2 333.3,421.0 333.9,421.4 334.5,423.3 335.7,428.7 336.3,430.4 336.9,430.5 337.5,429.1 338.7,424.4 339.3,422.7 339.9,422.3 340.5,423.1 341.7,426.4 342.3,427.6 342.9,427.9 343.5,427.4 344.7,425.5 345.3,424.9 345.9,424.9 346.5,425.3 347.7,426.6 348.3,426.8 348.9,426.6 350.1,425.7 350.7,425.4 351.3,425.3 351.9,425.5 353.1,426.0 354.3,426.3 354.9,426.3 355.5,426.1 356.7,425.3 357.3,425.1 357.9,425.3 359.7,427.2 360.3,427.2 360.9,426.6 362.1,424.7 362.7,424.2 363.3,424.4 365.1,426.9 365.7,427.3 366.3,427.2 366.9,426.7 368.1,425.5 368.7,425.1 369.3,424.8 369.9,424.9 370.5,425.3 371.7,426.4 372.3,426.8 372.9,426.8 373.5,426.4 374.7,425.4 375.3,425.2 375.9,425.4 377.1,426.2 377.7,426.4 378.3,426.3 380.1,425.4 380.7,425.4 381.3,425.6 383.1,426.3 383.7,426.4 384.3,426.4 384.9,426.3 386.7,425.2 387.3,425.0 387.9,425.2 389.7,426.8 390.3,427.0 390.9,426.8 392.1,425.5 392.7,425.1 393.3,425.0 393.9,425.2 395.1,426.1 395.7,426.3 396.3,426.4 396.9,426.3 398.7,425.7 399.3,425.6" fill="none" stroke="#200a0a" stroke-width="0.58"/>
<path d="M301.26,434.9v-1.3M325.74,434.9v-1.3M350.22,434.9v-1.3M374.7,434.9v-1.3" stroke="#888" stroke-width="0.5"/>
<text x="394.4" y="422" font-size="3.1" font-weight="bold" fill="#5656a8" text-anchor="end">0.73</text>
<path d="M405.4,416.4H527.4" stroke="#b4b4b4" stroke-width="0.7"/>
<path d="M527.4,416.4V434.9M405.4,434.9H527.4" fill="none" stroke="#a0a0a0" stroke-width="0.8"/>
<path d="M405.4,416.4V434.9" stroke="#d8d8d8" stroke-width="1"/>
<path d="M405.4,419.9h1M405.4,425.9h1M405.4,431.9h1M527.4,419.9h-1M527.4,431.9h-1" stroke="#999" stroke-width="0.45"/>
<text x="406.9" y="434.3" font-size="2.4" fill="#888">x10⁻⁷</text>
<polyline points="405.9,425.9 443.7,425.9 444.9,426.0 446.1,426.2 446.7,426.1 447.3,425.8 448.5,424.3 449.1,423.9 449.7,424.7 450.3,426.7 450.9,429.3 451.5,431.1 452.1,430.9 452.7,428.2 453.9,419.8 454.5,417.9 455.1,419.2 455.7,423.3 456.3,428.7 456.9,433.1 457.5,434.6 458.1,432.7 459.3,422.6 459.9,418.4 460.5,417.2 461.1,419.4 462.3,429.5 462.9,433.2 463.5,433.9 464.1,431.4 465.3,422.8 465.9,420.4 466.5,420.6 467.1,422.6 467.7,425.2 468.3,427.1 468.9,427.7 469.5,427.5 470.1,427.0 470.7,426.8 471.3,426.7 471.9,426.5 473.7,424.7 474.3,424.7 474.9,425.2 476.1,426.5 476.7,426.8 477.3,426.5 478.5,425.7 479.1,425.4 479.7,425.3 480.3,425.5 480.9,425.8 482.1,426.7 482.7,426.9 483.3,426.8 483.9,426.1 485.1,424.4 485.7,424.2 486.3,424.7 487.5,426.9 488.1,427.6 488.7,427.7 489.3,427.0 490.5,425.1 491.1,424.7 491.7,424.7 492.3,425.0 493.5,426.1 494.1,426.5 494.7,426.7 495.3,426.7 495.9,426.4 497.1,425.5 497.7,425.3 498.3,425.3 498.9,425.6 500.1,426.4 500.7,426.5 501.3,426.3 502.5,425.4 503.1,425.2 503.7,425.4 504.9,426.4 505.5,426.7 506.1,426.7 506.7,426.4 508.5,425.1 509.1,424.9 509.7,425.0 510.3,425.4 512.1,427.3 512.7,427.5 513.3,427.0 514.5,424.9 515.1,424.2 515.7,424.2 516.3,424.9 517.5,426.9 518.1,427.3 518.7,427.0 519.9,425.7 520.5,425.3 521.1,425.2 522.9,426.1 523.5,426.3 524.1,426.4 524.7,426.2 526.5,425.3" fill="none" stroke="#c85858" stroke-width="0.45"/>
<polyline points="444.9,426.0 446.1,426.2 446.7,426.2 447.3,425.8 448.5,424.2 449.1,423.7 449.7,424.3 450.3,426.4 450.9,429.1 451.5,431.4 452.1,431.5 452.7,429.1 453.9,420.1 454.5,417.5 455.1,418.3 455.7,422.3 456.9,432.8 457.5,435.1 458.1,433.6 458.7,429.2 459.9,418.6 460.5,416.7 461.1,418.4 462.3,428.8 462.9,433.1 463.5,434.4 464.1,432.3 465.3,423.4 465.9,420.5 466.5,420.3 467.1,422.1 467.7,424.7 468.3,426.7 468.9,427.6 469.5,427.6 470.1,427.3 471.3,427.0 471.9,426.6 473.1,425.1 473.7,424.5 474.3,424.5 474.9,425.1 476.1,426.7 476.7,426.9 477.3,426.6 478.5,425.6 479.1,425.3 479.7,425.2 480.3,425.4 480.9,425.8 482.1,426.8 482.7,427.1 483.3,426.9 483.9,426.1 485.1,424.1 485.7,423.9 486.3,424.5 487.5,427.1 488.1,428.0 488.7,427.9 489.3,427.1 490.5,424.9 491.1,424.4 491.7,424.5 492.3,424.9 493.5,426.2 494.1,426.6 494.7,426.8 495.3,426.8 495.9,426.5 497.1,425.5 497.7,425.1 498.3,425.2 498.9,425.5 500.1,426.5 500.7,426.6 501.3,426.3 502.5,425.3 503.1,425.1 503.7,425.3 504.9,426.5 505.5,426.9 506.1,426.8 506.7,426.5 507.9,425.3 508.5,424.9 509.1,424.7 509.7,424.8 510.3,425.3 511.5,426.9 512.1,427.6 512.7,427.7 513.3,427.1 514.5,424.7 515.1,423.8 515.7,423.9 516.3,424.8 517.5,427.1 518.1,427.5 518.7,427.2 519.9,425.6 520.5,425.1 521.1,425.1 522.9,426.2 523.5,426.4 524.1,426.5 524.7,426.3 526.5,425.2" fill="none" stroke="#200a0a" stroke-width="0.58"/>
<path d="M428.58,434.9v-1.3M452.98,434.9v-1.3M477.38,434.9v-1.3M501.78,434.9v-1.3" stroke="#888" stroke-width="0.5"/>
<text x="521.4" y="422" font-size="3.1" font-weight="bold" fill="#5656a8" text-anchor="end">0.87</text>
<path d="M532.2,416.4H654.2" stroke="#b4b4b4" stroke-width="0.7"/>
<path d="M654.2,416.4V434.9M532.2,434.9H654.2" fill="none" stroke="#a0a0a0" stroke-width="0.8"/>
<path d="M532.2,416.4V434.9" stroke="#d8d8d8" stroke-width="1"/>
<path d="M532.2,419.9h1M532.2,425.9h1M532.2,431.9h1M654.2,419.9h-1M654.2,431.9h-1" stroke="#999" stroke-width="0.45"/>
<text x="533.7" y="434.3" font-size="2.4" fill="#888">x10⁻⁷</text>
<polyline points="532.7,425.9 562.7,425.9 563.9,425.9 565.7,426.1 566.3,426.1 568.1,425.2 568.7,425.2 569.3,425.4 570.5,426.8 571.1,427.3 571.7,427.3 572.3,426.7 573.5,424.3 574.1,423.6 574.7,423.8 575.3,424.9 576.5,428.0 577.1,428.7 577.7,428.3 578.3,426.9 579.5,423.4 580.1,422.8 580.7,423.4 582.5,428.5 583.1,429.0 583.7,428.3 584.9,424.7 585.5,423.2 586.1,422.8 586.7,423.6 587.9,427.3 588.5,428.7 589.1,428.9 589.7,428.0 590.9,424.4 591.5,423.2 592.1,423.1 592.7,424.1 593.9,427.3 594.5,428.2 595.1,428.1 595.7,427.2 596.9,424.8 597.5,424.4 598.1,424.5 599.3,425.9 599.9,426.4 600.5,426.5 602.3,426.1 604.1,426.0 605.9,425.4 606.5,425.3 607.1,425.4 607.7,425.6 609.5,426.6 610.1,426.7 610.7,426.6 612.5,425.1 613.1,424.9 613.7,425.2 614.9,426.3 615.5,426.6 616.1,426.6 617.9,425.5 618.5,425.5 619.1,425.6 620.3,426.1 620.9,426.2 622.1,426.1 623.9,425.5 624.5,425.4 625.1,425.5 625.7,425.7 626.9,426.4 627.5,426.6 628.1,426.5 629.9,425.4 630.5,425.2 631.1,425.3 632.9,426.2 633.5,426.3 634.1,426.3 636.5,425.7 637.7,425.7 640.1,426.2 640.7,426.1 642.5,425.6 643.1,425.6 644.9,426.4 645.5,426.4 646.1,426.3 647.3,425.5 647.9,425.3 648.5,425.3 650.9,426.4 651.5,426.5 652.1,426.4 653.3,425.9" fill="none" stroke="#c85858" stroke-width="0.45"/>
<polyline points="561.7,425.9 563.5,425.9 565.9,426.2 566.5,426.1 568.3,425.1 568.9,425.1 569.5,425.5 570.7,427.0 571.3,427.5 571.9,427.4 572.5,426.6 573.7,424.0 574.3,423.4 574.9,423.8 575.5,425.1 576.7,428.3 577.3,428.9 577.9,428.3 579.7,423.1 580.3,422.7 580.9,423.5 582.1,427.3 582.7,428.8 583.3,429.2 583.9,428.2 585.1,424.3 585.7,422.9 586.3,422.7 586.9,423.7 588.1,427.6 588.7,428.9 589.3,429.0 589.9,427.9 591.1,424.1 591.7,423.0 592.3,423.1 592.9,424.3 594.1,427.5 594.7,428.3 595.3,428.1 597.1,424.7 597.7,424.3 598.3,424.6 599.5,426.0 600.1,426.4 600.7,426.5 601.9,426.2 603.7,426.1 604.3,426.0 606.1,425.2 606.7,425.2 607.3,425.4 609.1,426.6 609.7,426.8 610.3,426.9 610.9,426.5 612.1,425.3 612.7,424.8 613.3,424.8 613.9,425.3 615.1,426.5 615.7,426.8 616.3,426.6 617.5,425.7 618.1,425.4 618.7,425.4 620.5,426.2 621.1,426.3 621.7,426.2 624.1,425.4 624.7,425.4 625.3,425.5 627.1,426.6 627.7,426.7 628.3,426.5 629.5,425.6 630.1,425.2 630.7,425.1 631.3,425.4 632.5,426.1 633.1,426.4 633.7,426.4 636.1,425.7 636.7,425.6 637.9,425.7 639.7,426.2 640.3,426.2 640.9,426.1 642.1,425.6 642.7,425.5 643.3,425.6 645.1,426.5 645.7,426.5 646.3,426.2 647.5,425.3 648.1,425.1 648.7,425.2 650.5,426.3 651.1,426.5 651.7,426.5 652.3,426.4 653.5,425.8" fill="none" stroke="#200a0a" stroke-width="0.58"/>
<path d="M555.38,434.9v-1.3M579.78,434.9v-1.3M604.18,434.9v-1.3M628.58,434.9v-1.3" stroke="#888" stroke-width="0.5"/>
<text x="648.2" y="422" font-size="3.1" font-weight="bold" fill="#5656a8" text-anchor="end">0.48</text>
<text x="244" y="518.4" font-size="3.6" font-weight="bold" fill="#444" text-anchor="middle">PVO</text>
<path d="M259.6,510.6H387.4" stroke="#b4b4b4" stroke-width="0.7"/>
<path d="M387.4,510.6V527.4M259.6,527.4H387.4" fill="none" stroke="#a0a0a0" stroke-width="0.8"/>
<path d="M259.6,510.6V527.4" stroke="#d8d8d8" stroke-width="1"/>
<path d="M259.6,513h1M259.6,519h1M259.6,525h1M387.4,513h-1M387.4,525h-1" stroke="#999" stroke-width="0.45"/>
<text x="258.4" y="514.1" font-size="3.1" fill="#555" text-anchor="end">2</text>
<text x="258.4" y="520.1" font-size="3.1" fill="#555" text-anchor="end">0</text>
<text x="258.4" y="526.1" font-size="3.1" fill="#555" text-anchor="end">-2</text>
<text x="261.1" y="526.8" font-size="2.4" fill="#888">x10⁻⁷</text>
<polyline points="260.1,519.0 279.9,519.0 281.7,518.9 282.3,518.9 282.9,519.2 284.1,519.9 284.7,519.5 285.3,518.3 285.9,516.8 286.5,516.0 287.1,517.1 288.3,523.3 288.9,524.6 289.5,522.7 290.7,513.7 291.3,511.9 291.9,513.9 293.1,524.0 293.7,526.5 294.3,524.8 295.5,514.7 296.1,511.7 296.7,512.6 297.9,522.5 298.5,525.9 299.1,525.4 299.7,521.6 300.3,516.7 300.9,513.6 301.5,513.8 302.7,519.9 303.3,521.9 303.9,521.8 305.1,518.8 305.7,518.2 306.3,518.4 306.9,518.9 307.5,519.1 308.1,519.1 309.3,518.7 309.9,518.8 311.1,519.4 311.7,519.4 312.9,518.6 313.5,518.4 314.1,518.5 315.3,519.4 315.9,519.7 316.5,519.7 317.1,519.4 318.9,518.3 319.5,518.2 320.1,518.4 321.3,519.5 321.9,520.0 322.5,520.0 323.1,519.5 324.3,518.3 324.9,518.1 325.5,518.5 326.7,519.4 327.3,519.5 329.1,518.8 330.3,518.8 332.1,519.2 332.7,519.2 333.3,519.2 335.1,518.6 335.7,518.7 337.5,519.5 338.1,519.5 339.9,518.5 340.5,518.5 341.1,518.6 342.3,519.2 342.9,519.4 343.5,519.4 344.1,519.3 345.9,518.6 346.5,518.5 347.1,518.7 348.3,519.4 348.9,519.5 349.5,519.2 350.7,518.5 351.3,518.5 353.1,519.7 353.7,519.6 355.5,518.4 356.1,518.3 356.7,518.4 358.5,519.7 359.1,519.9 359.7,519.8 360.3,519.3 361.5,518.1 362.1,518.0 362.7,518.4 363.9,519.6 364.5,519.8 365.1,519.5 366.3,518.7 366.9,518.6 369.3,519.2 370.5,519.1 372.3,518.7 372.9,518.8 374.7,519.4 375.3,519.4 377.1,518.5 377.7,518.5 379.5,519.4 380.1,519.5 380.7,519.4 382.5,518.7 383.1,518.6 383.7,518.7 385.5,519.3 386.1,519.3 386.7,519.2" fill="none" stroke="#c85858" stroke-width="0.45"/>
<polyline points="281.3,518.9 281.9,518.9 282.5,519.0 283.1,519.3 283.7,519.7 284.3,520.0 284.9,519.4 286.1,516.3 286.7,515.8 287.3,517.4 288.5,524.0 289.1,524.9 289.7,522.3 290.9,512.9 291.5,511.5 292.1,514.4 293.3,525.0 293.9,526.9 294.5,524.5 295.7,513.7 296.3,511.1 296.9,512.8 298.1,523.4 298.7,526.4 299.3,525.3 300.5,516.0 301.1,513.2 301.7,513.9 302.9,520.4 303.5,522.0 304.1,521.6 305.3,518.7 305.9,518.2 306.5,518.5 307.1,519.0 307.7,519.1 308.9,518.7 309.5,518.6 310.7,519.3 311.3,519.5 311.9,519.4 313.1,518.4 313.7,518.3 314.3,518.5 315.5,519.6 316.1,519.9 316.7,519.7 318.5,518.4 319.1,518.1 319.7,518.1 320.3,518.4 321.5,519.8 322.1,520.2 322.7,520.0 323.9,518.5 324.5,518.0 325.1,518.1 326.3,519.2 326.9,519.5 327.5,519.5 328.7,518.9 329.3,518.8 329.9,518.8 332.3,519.3 332.9,519.3 333.5,519.1 334.7,518.6 335.3,518.5 335.9,518.7 337.1,519.5 337.7,519.6 338.3,519.5 339.5,518.7 340.1,518.4 340.7,518.4 342.5,519.3 343.1,519.5 343.7,519.5 344.3,519.3 346.1,518.5 346.7,518.5 348.5,519.5 349.1,519.5 350.3,518.6 350.9,518.4 351.5,518.5 352.7,519.6 353.3,519.8 353.9,519.6 355.1,518.5 355.7,518.2 356.3,518.2 356.9,518.4 358.7,519.9 359.3,520.1 359.9,519.8 361.1,518.3 361.7,517.8 362.3,517.9 363.5,519.3 364.1,519.8 364.7,519.9 365.9,518.9 366.5,518.6 367.1,518.6 368.9,519.2 369.5,519.2 370.1,519.2 371.9,518.7 372.5,518.7 373.1,518.8 374.3,519.4 374.9,519.5 375.5,519.4 376.7,518.6 377.3,518.4 377.9,518.5 379.1,519.2 379.7,519.5 380.3,519.5 380.9,519.4 382.1,518.8 382.7,518.6 383.3,518.6 383.9,518.7 385.7,519.3 386.3,519.3" fill="none" stroke="#200a0a" stroke-width="0.58"/>
<text x="381.4" y="516.2" font-size="3.1" font-weight="bold" fill="#5656a8" text-anchor="end">0.78</text>
<path d="M393.6,510.6H520.1" stroke="#b4b4b4" stroke-width="0.7"/>
<path d="M520.1,510.6V527.4M393.6,527.4H520.1" fill="none" stroke="#a0a0a0" stroke-width="0.8"/>
<path d="M393.6,510.6V527.4" stroke="#d8d8d8" stroke-width="1"/>
<path d="M393.6,513h1M393.6,519h1M393.6,525h1M520.1,513h-1M520.1,525h-1" stroke="#999" stroke-width="0.45"/>
<text x="395.1" y="526.8" font-size="2.4" fill="#888">x10⁻⁷</text>
<polyline points="394.1,519.0 407.3,519.0 409.1,518.9 410.3,519.0 411.5,519.4 412.1,519.4 412.7,518.9 413.3,518.2 413.9,517.7 414.5,517.9 415.1,518.9 415.7,520.4 416.3,521.5 416.9,521.2 417.5,519.5 418.1,517.1 418.7,515.4 419.3,515.6 419.9,517.8 420.5,520.9 421.1,523.2 421.7,523.3 422.3,521.0 422.9,517.4 423.5,514.6 424.1,514.2 424.7,516.4 425.9,523.1 426.5,524.0 427.1,522.1 428.3,515.3 428.9,514.0 429.5,515.4 430.7,522.3 431.3,523.9 431.9,522.9 433.1,516.4 433.7,514.4 434.3,515.0 435.5,520.8 436.1,522.7 436.7,522.4 437.9,518.0 438.5,516.5 439.1,516.6 440.3,519.3 440.9,520.2 441.5,520.3 443.3,518.6 443.9,518.4 444.5,518.4 445.1,518.6 446.3,519.2 446.9,519.4 447.5,519.5 448.1,519.3 449.9,518.6 450.5,518.5 451.1,518.6 452.3,519.3 452.9,519.5 453.5,519.4 454.7,518.8 455.3,518.6 455.9,518.7 457.1,519.2 457.7,519.2 459.5,518.9 460.1,518.9 462.5,519.2 463.1,519.2 464.9,518.6 465.5,518.6 466.1,518.8 467.3,519.5 467.9,519.5 469.7,518.6 470.3,518.5 472.7,519.4 473.3,519.4 473.9,519.2 475.1,518.7 475.7,518.6 476.3,518.7 477.5,519.4 478.1,519.4 479.3,518.7 479.9,518.4 480.5,518.6 481.7,519.5 482.3,519.6 482.9,519.5 484.1,518.7 484.7,518.5 485.3,518.5 485.9,518.7 487.1,519.3 487.7,519.6 488.3,519.5 490.1,518.5 490.7,518.5 492.5,519.3 493.1,519.3 494.3,518.9 494.9,518.8 497.3,519.1 498.5,519.0 500.3,518.7 500.9,518.8 502.1,519.3 502.7,519.5 503.3,519.3 504.5,518.6 505.1,518.4 505.7,518.6 506.9,519.3 507.5,519.5 508.1,519.4 509.9,518.7 510.5,518.6 511.1,518.6 512.9,519.4 513.5,519.3 514.7,518.7 515.3,518.6 515.9,518.8 517.1,519.4 517.7,519.4 518.9,518.8 519.5,518.7" fill="none" stroke="#c85858" stroke-width="0.45"/>
<polyline points="408,519.0 409.8,518.9 411.6,519.5 412.2,519.4 412.8,518.9 413.4,518.2 414,517.6 414.6,517.8 415.2,518.9 415.8,520.5 416.4,521.7 417,521.4 417.6,519.6 418.2,517.0 418.8,515.2 419.4,515.3 420,517.7 420.6,521.0 421.2,523.5 421.8,523.6 422.4,521.1 423,517.4 423.6,514.4 424.2,513.9 424.8,516.2 426,523.3 426.6,524.2 427.2,522.3 428.4,515.1 429,513.7 429.6,515.2 430.8,522.4 431.4,524.2 432,523.2 433.2,516.3 433.8,514.2 434.4,514.8 435.6,520.9 436.2,522.9 436.8,522.6 438,518.0 438.6,516.4 439.2,516.5 440.4,519.3 441,520.3 441.6,520.4 443.4,518.6 444,518.3 444.6,518.3 445.2,518.6 446.4,519.3 447,519.5 447.6,519.5 448.2,519.4 450,518.4 450.6,518.4 451.2,518.6 452.4,519.5 453,519.6 453.6,519.4 454.8,518.7 455.4,518.6 457.2,519.2 457.8,519.2 459.6,518.8 460.2,518.9 462.6,519.3 463.2,519.2 465,518.5 465.6,518.6 467.4,519.6 468,519.6 469.8,518.4 470.4,518.4 472.2,519.3 472.8,519.4 473.4,519.4 474,519.2 475.2,518.6 475.8,518.5 476.4,518.8 477.6,519.5 478.2,519.4 479.4,518.5 480,518.3 480.6,518.6 481.8,519.6 482.4,519.7 483,519.5 484.2,518.6 484.8,518.4 485.4,518.4 486,518.7 487.2,519.5 487.8,519.7 488.4,519.6 489.6,518.7 490.2,518.4 490.8,518.5 492,519.2 492.6,519.4 493.2,519.3 494.4,518.9 495,518.8 497.4,519.2 500.4,518.7 501,518.8 502.2,519.4 502.8,519.6 503.4,519.3 504.6,518.5 505.2,518.3 505.8,518.5 507,519.4 507.6,519.6 508.2,519.5 510,518.7 510.6,518.5 511.2,518.6 512.4,519.3 513,519.5 513.6,519.4 514.8,518.6 515.4,518.5 516.6,519.3 517.2,519.5 517.8,519.4 519,518.7" fill="none" stroke="#200a0a" stroke-width="0.58"/>
<text x="514.1" y="516.2" font-size="3.1" font-weight="bold" fill="#5656a8" text-anchor="end">0.84</text>
<path d="M527.4,510.6H654.1" stroke="#b4b4b4" stroke-width="0.7"/>
<path d="M654.1,510.6V527.4M527.4,527.4H654.1" fill="none" stroke="#a0a0a0" stroke-width="0.8"/>
<path d="M527.4,510.6V527.4" stroke="#d8d8d8" stroke-width="1"/>
<path d="M527.4,513h1M527.4,519h1M527.4,525h1M654.1,513h-1M654.1,525h-1" stroke="#999" stroke-width="0.45"/>
<text x="528.9" y="526.8" font-size="2.4" fill="#888">x10⁻⁷</text>
<polyline points="527.9,519.0 543.5,519.0 545.9,518.9 546.5,519.0 547.7,519.5 548.3,519.6 548.9,519.3 550.1,517.3 550.7,516.8 551.3,517.5 552.5,521.9 553.1,523.2 553.7,522.4 554.3,519.6 554.9,516.2 555.5,513.9 556.1,514.1 556.7,516.7 557.9,523.7 558.5,524.6 559.1,522.7 560.3,515.4 560.9,513.5 561.5,514.2 562.1,517.3 562.7,521.2 563.3,523.9 563.9,524.2 564.5,521.9 565.7,515.5 566.3,514.6 566.9,515.9 568.1,520.7 568.7,521.6 569.3,521.1 570.5,518.5 571.1,517.8 571.7,517.7 572.3,518.2 573.5,519.7 574.1,520.1 574.7,520.0 575.9,518.6 576.5,518.0 577.1,518.0 578.9,519.5 579.5,519.6 580.1,519.5 581.9,518.7 582.5,518.5 583.1,518.6 584.3,519.4 584.9,519.6 585.5,519.4 586.7,518.3 587.3,518.1 587.9,518.4 589.1,519.7 589.7,520.0 590.3,519.8 591.5,518.6 592.1,518.3 592.7,518.3 593.3,518.5 595.1,519.5 595.7,519.6 596.3,519.5 598.1,518.5 598.7,518.5 600.5,519.4 601.1,519.4 602.9,518.7 603.5,518.7 604.7,519.2 605.3,519.3 605.9,519.3 608.3,518.5 608.9,518.5 609.5,518.7 610.7,519.7 611.3,520.0 611.9,519.8 613.1,518.4 613.7,517.8 614.3,517.8 616.1,519.9 616.7,520.0 617.3,519.7 618.5,518.7 619.1,518.5 619.7,518.4 620.3,518.6 622.1,519.5 622.7,519.4 623.9,518.6 624.5,518.3 625.1,518.5 626.3,519.6 626.9,519.9 627.5,519.7 628.7,518.4 629.3,518.1 629.9,518.2 631.1,519.2 631.7,519.5 632.3,519.7 632.9,519.6 634.7,518.6 635.3,518.4 635.9,518.5 637.7,519.5 638.3,519.5 640.1,518.6 640.7,518.6 642.5,519.3 643.1,519.3 644.9,518.7 645.5,518.7 646.1,518.8 647.9,519.5 648.5,519.6 649.1,519.4 650.3,518.5 650.9,518.2 651.5,518.3 652.7,519.3 653.3,519.7" fill="none" stroke="#c85858" stroke-width="0.45"/>
<polyline points="545.1,518.9 546.3,518.9 546.9,519.1 548.1,519.7 548.7,519.6 549.3,518.8 550.5,516.7 551.1,516.8 551.7,518.4 552.9,523.0 553.5,523.3 554.1,521.3 555.3,514.6 555.9,513.4 556.5,515.0 557.7,522.5 558.3,524.8 558.9,524.2 559.5,521.1 560.1,517.0 560.7,513.8 561.3,513.2 561.9,515.4 563.1,523.0 563.7,524.7 564.3,523.5 565.5,516.7 566.1,514.6 566.7,514.9 567.9,519.7 568.5,521.4 569.1,521.6 569.7,520.5 570.3,519.0 570.9,517.9 571.5,517.6 572.1,517.9 573.3,519.6 573.9,520.2 574.5,520.3 575.1,519.7 576.3,518.0 576.9,517.8 577.5,518.1 578.7,519.4 579.3,519.7 579.9,519.7 581.7,518.7 582.3,518.5 582.9,518.5 584.7,519.7 585.3,519.6 585.9,519.1 586.5,518.4 587.1,518.0 587.7,518.1 588.9,519.7 589.5,520.1 590.1,520.0 591.3,518.7 591.9,518.2 592.5,518.1 593.1,518.3 594.9,519.5 595.5,519.7 596.1,519.6 597.9,518.4 598.5,518.3 599.1,518.6 600.3,519.4 600.9,519.5 601.5,519.3 602.7,518.7 603.3,518.6 605.1,519.4 605.7,519.4 606.3,519.2 608.1,518.4 608.7,518.4 609.3,518.6 611.1,520.1 611.7,520.1 612.3,519.5 613.5,517.7 614.1,517.6 614.7,518.1 615.9,519.9 616.5,520.2 617.1,519.9 618.3,518.8 618.9,518.4 619.5,518.3 620.1,518.5 621.9,519.5 622.5,519.6 623.1,519.3 624.3,518.3 624.9,518.3 625.5,518.8 626.1,519.6 626.7,520.0 627.3,519.9 628.5,518.5 629.1,518.0 629.7,518.0 631.5,519.5 632.1,519.8 632.7,519.7 633.3,519.5 634.5,518.6 635.1,518.3 635.7,518.3 636.3,518.6 637.5,519.5 638.1,519.6 638.7,519.5 639.9,518.7 640.5,518.5 641.1,518.7 642.3,519.3 642.9,519.4 644.7,518.7 645.3,518.6 645.9,518.7 647.7,519.5 648.3,519.7 648.9,519.6 650.7,518.1 651.3,518.0 651.9,518.5 653.1,519.7" fill="none" stroke="#200a0a" stroke-width="0.58"/>
<text x="648.1" y="516.2" font-size="3.1" font-weight="bold" fill="#5656a8" text-anchor="end">0.71</text>
<text x="244" y="537.7" font-size="3.6" font-weight="bold" fill="#444" text-anchor="middle">DRO</text>
<path d="M259.6,529.7H387.4" stroke="#b4b4b4" stroke-width="0.7"/>
<path d="M387.4,529.7V547M259.6,547H387.4" fill="none" stroke="#a0a0a0" stroke-width="0.8"/>
<path d="M259.6,529.7V547" stroke="#d8d8d8" stroke-width="1"/>
<path d="M259.6,532.6h1M259.6,538.6h1M259.6,544.6h1M387.4,532.6h-1M387.4,544.6h-1" stroke="#999" stroke-width="0.45"/>
<text x="258.4" y="533.7" font-size="3.1" fill="#555" text-anchor="end">2</text>
<text x="258.4" y="539.7" font-size="3.1" fill="#555" text-anchor="end">0</text>
<text x="258.4" y="545.7" font-size="3.1" fill="#555" text-anchor="end">-2</text>
<text x="261.1" y="546.4" font-size="2.4" fill="#888">x10⁻⁷</text>
<polyline points="260.1,538.6 282.3,538.6 286.5,538.5 287.1,538.6 287.7,538.9 289.5,540.2 290.1,540.5 290.7,540.4 291.3,539.9 291.9,538.9 293.7,534.4 294.3,533.4 294.9,533.1 295.5,533.7 296.1,535.2 297.9,542.3 298.5,544.3 299.1,545.4 299.7,545.6 300.3,544.7 300.9,543.0 302.7,535.3 303.3,533.2 303.9,531.9 304.5,531.5 305.1,532.2 305.7,533.8 307.5,541.2 308.1,543.2 308.7,544.4 309.3,544.6 309.9,544.0 310.5,542.6 312.3,537.3 312.9,536.3 313.5,535.9 314.1,536.1 314.7,536.7 315.9,538.3 316.5,538.9 317.1,539.2 317.7,539.2 318.3,539.0 320.1,538.2 320.7,538.1 321.3,538.1 323.1,538.9 324.3,539.1 325.5,539.0 327.9,538.1 329.1,538.0 329.7,538.1 330.9,538.4 333.3,539.4 333.9,539.5 334.5,539.5 335.1,539.3 335.7,539.1 337.5,537.9 338.1,537.6 338.7,537.5 339.3,537.6 339.9,537.9 341.7,539.1 342.3,539.3 342.9,539.4 343.5,539.4 344.1,539.2 346.5,538.3 347.7,538.2 348.9,538.3 351.9,538.8 353.1,538.9 354.3,538.8 356.7,538.3 357.3,538.3 358.5,538.5 360.3,539.0 360.9,539.1 362.1,538.9 363.9,538.2 365.1,537.9 366.3,538.1 368.7,539.2 369.9,539.4 371.1,539.1 374.1,537.9 375.3,537.7 376.5,538.0 378.9,539.4 379.5,539.6 380.1,539.6 380.7,539.4 382.5,538.3 383.1,538.0 383.7,537.9 384.3,537.9 384.9,538.1 386.7,538.8" fill="none" stroke="#c85858" stroke-width="0.45"/>
<polyline points="284.5,538.5 286.3,538.4 286.9,538.4 287.5,538.6 288.1,538.9 288.7,539.4 289.9,540.7 290.5,541.0 291.1,541.0 291.7,540.4 292.3,539.1 294.1,533.7 294.7,532.5 295.3,532.2 295.9,532.9 296.5,534.5 298.3,542.5 298.9,544.8 299.5,546.1 300.1,546.4 300.7,545.6 301.3,543.7 303.1,535.2 303.7,532.8 304.3,531.2 304.9,530.7 305.5,531.4 306.1,533.1 307.9,541.1 308.5,543.3 309.1,544.7 309.7,545.0 310.3,544.4 310.9,542.9 312.1,539.0 312.7,537.4 313.3,536.4 313.9,536.0 314.5,536.2 315.1,536.9 316.3,538.4 316.9,539.0 317.5,539.2 318.1,539.1 319.9,538.2 320.5,538.0 321.1,538.0 321.7,538.2 323.5,539.1 324.1,539.2 324.7,539.2 325.3,539.1 327.7,538.1 328.9,537.9 329.5,537.9 330.7,538.2 333.1,539.4 333.7,539.6 334.3,539.7 334.9,539.5 335.5,539.3 337.3,537.9 337.9,537.5 338.5,537.3 339.1,537.4 339.7,537.7 341.5,539.0 342.1,539.4 342.7,539.6 343.3,539.6 343.9,539.4 346.3,538.3 347.5,538.1 348.7,538.2 351.7,538.8 352.9,538.9 354.1,538.8 356.5,538.3 357.7,538.3 360.1,539.0 361.3,539.1 362.5,538.8 364.3,537.9 364.9,537.8 365.5,537.8 366.7,538.3 368.5,539.3 369.1,539.4 369.7,539.5 370.9,539.3 373.9,537.8 375.1,537.6 375.7,537.7 376.3,537.9 378.7,539.5 379.3,539.7 379.9,539.8 380.5,539.6 381.1,539.3 382.9,538.0 383.5,537.8 384.1,537.7 384.7,537.9 386.5,538.8" fill="none" stroke="#200a0a" stroke-width="0.58"/>
<text x="381.4" y="535.3" font-size="3.1" font-weight="bold" fill="#5656a8" text-anchor="end">0.88</text>
<path d="M393.6,529.7H520.1" stroke="#b4b4b4" stroke-width="0.7"/>
<path d="M520.1,529.7V547M393.6,547H520.1" fill="none" stroke="#a0a0a0" stroke-width="0.8"/>
<path d="M393.6,529.7V547" stroke="#d8d8d8" stroke-width="1"/>
<path d="M393.6,532.6h1M393.6,538.6h1M393.6,544.6h1M520.1,532.6h-1M520.1,544.6h-1" stroke="#999" stroke-width="0.45"/>
<text x="395.1" y="546.4" font-size="2.4" fill="#888">x10⁻⁷</text>
<polyline points="394.1,538.6 422.9,538.6 424.1,538.7 426.5,539.5 427.1,539.4 427.7,539.0 428.3,538.3 429.5,536.4 430.1,535.6 430.7,535.3 431.3,535.7 431.9,536.6 433.7,541.3 434.3,542.5 434.9,543.0 435.5,542.8 436.1,541.9 438.5,535.3 439.1,534.3 439.7,534.1 440.3,534.6 440.9,535.8 442.7,540.8 443.3,541.9 443.9,542.3 444.5,542.1 445.1,541.3 446.3,539.0 446.9,538.1 447.5,537.5 448.1,537.3 448.7,537.4 449.9,538.0 451.1,538.4 453.5,538.5 455.9,539.0 457.1,538.9 458.9,538.4 460.1,538.2 462.5,538.8 463.1,538.9 463.7,538.9 466.1,538.3 466.7,538.3 469.7,538.8 470.9,538.9 472.1,538.8 474.5,538.4 475.7,538.3 479.3,538.9 480.5,538.8 482.3,538.4 483.5,538.3 487.1,538.7 491.9,538.5 495.5,538.8 496.7,538.7 499.1,538.3 500.3,538.4 502.1,538.9 503.3,539.1 503.9,539.0 505.7,538.3 506.9,538.1 508.1,538.3 510.5,538.9 511.7,539.0 512.9,538.9 514.7,538.4 515.9,538.2 516.5,538.3 518.9,538.8 519.5,538.8" fill="none" stroke="#c85858" stroke-width="0.45"/>
<polyline points="422.2,538.6 424,538.6 425.2,539.0 426.4,539.7 427,539.9 427.6,539.8 428.2,539.3 428.8,538.4 430,535.9 430.6,534.9 431.2,534.5 431.8,534.8 432.4,535.9 434.2,541.6 434.8,543.1 435.4,543.8 436,543.7 436.6,542.7 437.2,541.0 439,535.0 439.6,533.7 440.2,533.3 440.8,533.8 441.4,535.1 443.2,540.8 443.8,542.1 444.4,542.7 445,542.5 445.6,541.7 447.4,538.2 448,537.6 448.6,537.3 449.2,537.4 451,538.2 451.6,538.3 453.4,538.5 455.8,539.0 456.4,539.1 457,539.0 458.8,538.3 460,538.2 463,538.9 463.6,538.9 465.4,538.5 466.6,538.3 467.8,538.4 469.6,538.8 470.8,538.9 472,538.8 474.4,538.3 475.6,538.2 476.8,538.4 478.6,538.9 479.8,539.0 482.2,538.4 483.4,538.3 487,538.8 491.8,538.5 496,538.8 498.4,538.3 499.6,538.2 500.2,538.3 502,539.0 503.2,539.2 503.8,539.1 505.6,538.3 506.8,538.1 508,538.2 510.4,538.9 511.6,539.1 512.8,539.0 515.2,538.3 515.8,538.2 516.4,538.2 518.2,538.7 519.4,538.8" fill="none" stroke="#200a0a" stroke-width="0.58"/>
<text x="514.1" y="535.3" font-size="3.1" font-weight="bold" fill="#5656a8" text-anchor="end">0.48</text>
<path d="M527.4,529.7H654.1" stroke="#b4b4b4" stroke-width="0.7"/>
<path d="M654.1,529.7V547M527.4,547H654.1" fill="none" stroke="#a0a0a0" stroke-width="0.8"/>
<path d="M527.4,529.7V547" stroke="#d8d8d8" stroke-width="1"/>
<path d="M527.4,532.6h1M527.4,538.6h1M527.4,544.6h1M654.1,532.6h-1M654.1,544.6h-1" stroke="#999" stroke-width="0.45"/>
<text x="528.9" y="546.4" font-size="2.4" fill="#888">x10⁻⁷</text>
<polyline points="527.9,538.6 557.9,538.6 562.7,538.5 563.9,538.6 566.3,539.4 567.5,539.5 568.1,539.3 568.7,539.0 571.1,537.1 571.7,536.8 572.3,536.7 572.9,536.9 573.5,537.2 574.1,537.8 575.9,539.9 576.5,540.5 577.1,540.8 577.7,540.9 578.3,540.7 578.9,540.3 581.3,537.4 581.9,536.8 582.5,536.4 583.1,536.3 583.7,536.4 584.3,536.9 584.9,537.5 586.7,539.7 587.3,540.3 587.9,540.7 588.5,540.8 589.1,540.6 589.7,540.3 592.1,537.8 592.7,537.4 593.3,537.1 593.9,537.1 594.5,537.2 595.1,537.5 597.5,538.9 598.7,539.2 599.9,539.2 603.5,538.5 605.3,538.3 606.5,538.4 609.5,538.9 610.7,538.9 613.1,538.4 614.3,538.4 617.9,538.8 621.5,538.5 623.3,538.4 627.5,539.0 628.7,538.8 630.5,538.2 631.7,538.0 632.9,538.1 634.7,538.9 635.9,539.3 637.1,539.1 639.5,538.3 640.7,538.1 641.9,538.2 644.9,538.8 646.1,538.9 647.3,538.9 649.1,538.5 650.3,538.4 653.3,538.7" fill="none" stroke="#c85858" stroke-width="0.45"/>
<polyline points="558.1,538.6 560.5,538.6 562.9,538.2 564.1,538.2 565.3,538.5 567.7,540.0 568.3,540.3 568.9,540.3 569.5,540.1 570.1,539.6 572.5,536.5 573.1,535.9 573.7,535.7 574.3,535.8 574.9,536.2 575.5,537.0 577.3,540.2 577.9,541.0 578.5,541.6 579.1,541.9 579.7,541.7 580.3,541.2 580.9,540.4 583.3,536.3 583.9,535.6 584.5,535.3 585.1,535.4 585.7,535.9 586.3,536.6 588.1,539.8 588.7,540.7 589.3,541.3 589.9,541.5 590.5,541.5 591.1,541.0 591.7,540.3 593.5,537.9 594.1,537.2 594.7,536.9 595.3,536.8 595.9,536.9 596.5,537.3 598.3,538.6 598.9,538.9 600.1,539.2 601.3,539.1 604.3,538.3 605.5,538.2 606.7,538.3 608.5,538.8 609.7,539.0 610.9,538.9 612.7,538.5 613.9,538.3 618.1,538.8 621.7,538.5 623.5,538.4 624.7,538.6 627.1,539.0 627.7,539.1 628.9,538.8 630.7,538.1 631.9,537.8 632.5,537.9 633.1,538.1 634.9,539.1 635.5,539.3 636.1,539.4 637.3,539.2 639.7,538.2 640.9,538.0 642.1,538.2 645.7,539.0 646.9,539.0 649.3,538.4 650.5,538.3 653.5,538.7" fill="none" stroke="#200a0a" stroke-width="0.58"/>
<text x="648.1" y="535.3" font-size="3.1" font-weight="bold" fill="#5656a8" text-anchor="end">-0.21</text>
<text x="244" y="556.5" font-size="3.6" font-weight="bold" fill="#444" text-anchor="middle">ANS</text>
<path d="M259.6,549.5H387.4" stroke="#b4b4b4" stroke-width="0.7"/>
<path d="M387.4,549.5V566M259.6,566H387.4" fill="none" stroke="#a0a0a0" stroke-width="0.8"/>
<path d="M259.6,549.5V566" stroke="#d8d8d8" stroke-width="1"/>
<path d="M259.6,551.2h1M259.6,557.2h1M259.6,563.2h1M387.4,551.2h-1M387.4,563.2h-1" stroke="#999" stroke-width="0.45"/>
<text x="258.4" y="552.3" font-size="3.1" fill="#555" text-anchor="end">2</text>
<text x="258.4" y="558.3" font-size="3.1" fill="#555" text-anchor="end">0</text>
<text x="258.4" y="564.3" font-size="3.1" fill="#555" text-anchor="end">-2</text>
<text x="261.1" y="565.4" font-size="2.4" fill="#888">x10⁻⁷</text>
<polyline points="260.1,557.2 282.3,557.2 284.7,557.1 285.3,557.2 286.5,557.9 287.1,558.0 287.7,557.4 288.9,554.6 289.5,554.4 290.1,556.1 291.3,562.2 291.9,562.5 292.5,559.7 293.7,551.0 294.3,550.3 294.9,553.5 296.1,563.4 296.7,564.6 297.3,561.8 298.5,551.6 299.1,549.7 299.7,552.0 300.9,562.1 301.5,564.4 302.1,562.7 303.3,553.6 303.9,551.4 304.5,552.6 305.7,559.1 306.3,560.4 306.9,559.6 307.5,557.8 308.1,556.5 308.7,556.2 309.9,557.4 310.5,557.6 312.3,556.7 312.9,556.7 314.7,557.6 315.3,557.7 315.9,557.6 318.3,556.6 318.9,556.6 319.5,557.0 320.7,557.8 321.3,557.9 323.1,556.6 323.7,556.7 324.9,557.5 325.5,557.8 326.1,557.6 327.3,556.8 327.9,556.6 328.5,556.6 329.1,556.8 330.9,558.1 331.5,558.1 332.1,557.8 333.3,556.3 333.9,555.9 334.5,556.1 335.7,557.8 336.3,558.4 336.9,558.4 338.1,557.1 338.7,556.6 339.3,556.5 339.9,556.7 341.1,557.3 341.7,557.5 342.3,557.5 342.9,557.5 344.7,556.9 345.3,556.9 346.5,557.5 347.1,557.7 347.7,557.5 348.9,556.8 349.5,556.6 350.1,556.7 351.3,557.5 351.9,557.8 352.5,557.8 354.3,556.9 354.9,556.7 355.5,556.7 356.1,556.8 357.9,557.8 358.5,557.9 359.1,557.6 360.3,556.6 360.9,556.5 361.5,556.8 362.7,557.7 363.3,557.7 364.5,556.9 365.1,556.7 365.7,556.7 367.5,557.8 368.1,557.9 368.7,557.7 369.3,557.4 370.5,556.4 371.1,556.1 371.7,556.4 372.9,557.9 373.5,558.5 374.1,558.4 374.7,557.8 375.3,556.9 375.9,556.2 376.5,556.1 377.1,556.5 378.3,557.6 378.9,557.8 379.5,557.7 381.3,557.0 381.9,556.9 382.5,556.9 384.3,557.5 384.9,557.4 386.1,557.0 386.7,556.9" fill="none" stroke="#c85858" stroke-width="0.45"/>
<polyline points="284.1,557.1 284.7,557.1 285.3,557.2 285.9,557.5 286.5,557.9 287.1,558.2 287.7,557.6 288.9,554.5 289.5,554.0 290.1,555.6 291.3,562.2 291.9,563.1 292.5,560.5 293.7,551.1 294.3,549.7 294.9,552.6 296.1,563.2 296.7,565.1 297.3,562.7 298.5,551.9 299.1,549.4 299.7,551.1 300.9,561.6 301.5,564.6 302.1,563.4 303.3,554.1 303.9,551.4 304.5,552.1 305.7,558.8 306.3,560.4 306.9,559.8 308.1,556.7 308.7,556.3 309.9,557.4 310.5,557.6 312.3,556.6 312.9,556.7 314.7,557.7 315.3,557.8 315.9,557.7 316.5,557.5 317.7,556.7 318.3,556.5 318.9,556.5 320.7,557.9 321.3,558.0 323.1,556.5 323.7,556.6 324.9,557.6 325.5,557.9 326.1,557.7 327.3,556.8 327.9,556.5 328.5,556.5 329.1,556.8 330.9,558.2 331.5,558.3 332.1,557.9 333.3,556.1 333.9,555.6 334.5,555.9 335.7,557.9 336.3,558.6 336.9,558.5 338.1,557.0 338.7,556.5 339.3,556.4 339.9,556.6 341.1,557.3 341.7,557.6 342.3,557.6 342.9,557.5 344.1,557.0 344.7,556.8 345.3,556.9 346.5,557.6 347.1,557.7 347.7,557.6 348.9,556.7 349.5,556.5 350.1,556.7 351.3,557.6 351.9,557.9 352.5,557.8 354.3,556.8 354.9,556.6 355.5,556.6 356.1,556.8 357.9,558.0 358.5,558.0 359.1,557.6 360.3,556.5 360.9,556.4 361.5,556.8 362.1,557.4 362.7,557.8 363.3,557.8 364.5,556.9 365.1,556.6 365.7,556.6 367.5,557.9 368.1,558.0 368.7,557.8 369.3,557.4 370.5,556.2 371.1,555.9 371.7,556.2 372.9,558.1 373.5,558.8 374.1,558.6 374.7,557.8 375.3,556.8 375.9,556.0 376.5,555.9 378.3,557.7 378.9,557.9 379.5,557.8 381.3,557.0 381.9,556.9 382.5,556.9 384.3,557.5 384.9,557.5 386.1,557.0 386.7,556.9" fill="none" stroke="#200a0a" stroke-width="0.58"/>
<text x="381.4" y="555.1" font-size="3.1" font-weight="bold" fill="#5656a8" text-anchor="end">0.88</text>
<path d="M393.6,549.5H520.1" stroke="#b4b4b4" stroke-width="0.7"/>
<path d="M520.1,549.5V566M393.6,566H520.1" fill="none" stroke="#a0a0a0" stroke-width="0.8"/>
<path d="M393.6,549.5V566" stroke="#d8d8d8" stroke-width="1"/>
<path d="M393.6,551.2h1M393.6,557.2h1M393.6,563.2h1M520.1,551.2h-1M520.1,563.2h-1" stroke="#999" stroke-width="0.45"/>
<text x="395.1" y="565.4" font-size="2.4" fill="#888">x10⁻⁷</text>
<polyline points="394.1,557.2 414.5,557.3 415.7,557.2 416.9,556.9 417.5,556.9 418.1,557.1 419.3,558.2 419.9,558.3 420.5,557.8 421.7,555.4 422.3,554.9 422.9,555.6 424.1,559.2 424.7,560.4 425.3,560.0 425.9,558.1 426.5,555.7 427.1,553.8 427.7,553.6 428.3,555.2 429.5,560.1 430.1,561.0 430.7,560.1 431.9,555.2 432.5,553.6 433.1,553.7 433.7,555.6 434.3,558.2 434.9,560.3 435.5,560.9 436.1,559.7 437.3,555.0 437.9,553.9 438.5,554.4 439.7,558.2 440.3,559.5 440.9,559.5 441.5,558.5 442.1,557.1 442.7,556.1 443.3,555.7 443.9,556.1 445.1,557.4 445.7,557.8 446.3,557.9 447.5,557.5 448.7,556.8 449.3,556.6 449.9,556.7 451.1,557.5 451.7,557.8 452.3,557.7 453.5,556.7 454.1,556.6 454.7,557.0 455.3,557.5 455.9,557.8 456.5,557.7 457.7,556.9 458.3,556.6 458.9,556.6 459.5,556.8 461.3,557.9 461.9,557.9 462.5,557.6 463.7,556.5 464.3,556.4 464.9,556.7 466.1,557.7 466.7,557.8 468.5,557.0 469.1,556.9 471.5,557.3 472.1,557.3 473.9,557.0 474.5,557.0 476.3,557.6 476.9,557.6 478.1,556.8 478.7,556.6 479.3,556.7 480.5,557.6 481.1,557.8 481.7,557.8 483.5,556.8 484.1,556.6 484.7,556.6 485.3,556.9 486.5,557.8 487.1,557.9 487.7,557.6 488.9,556.6 489.5,556.6 490.7,557.6 491.3,557.8 491.9,557.5 493.1,556.7 493.7,556.6 494.3,556.9 495.5,557.6 496.1,557.8 496.7,557.8 497.3,557.5 498.5,556.6 499.1,556.4 499.7,556.6 500.9,557.7 501.5,558.0 502.1,557.8 503.3,556.9 503.9,556.7 504.5,556.8 505.7,557.3 506.3,557.4 509.3,557.0 511.7,557.5 512.3,557.3 513.5,556.8 514.1,556.7 515.9,557.7 516.5,557.7 518.3,556.9 518.9,556.8 519.5,556.9" fill="none" stroke="#c85858" stroke-width="0.45"/>
<polyline points="413.8,557.2 415.6,557.2 416.8,556.9 417.4,556.8 418,557.0 419.2,558.2 419.8,558.5 420.4,558.1 421,557.0 421.6,555.6 422.2,554.8 422.8,555.1 423.4,556.6 424,558.8 424.6,560.4 425.2,560.5 425.8,558.9 427,554.1 427.6,553.3 428.2,554.4 429.4,559.6 430,561.1 430.6,560.7 431.2,558.7 431.8,555.9 432.4,553.7 433,553.3 433.6,554.7 434.8,559.9 435.4,561.1 436,560.4 437.2,555.6 437.8,553.9 438.4,554.0 439,555.5 439.6,557.6 440.2,559.3 440.8,559.8 441.4,559.0 442.6,556.3 443.2,555.7 443.8,555.8 445,557.3 445.6,557.8 446.2,558.0 446.8,557.9 447.4,557.6 448.6,556.8 449.2,556.5 449.8,556.5 450.4,557.0 451,557.5 451.6,557.9 452.2,557.8 453.4,556.7 454,556.5 454.6,556.9 455.2,557.5 455.8,557.9 456.4,557.9 457.6,556.9 458.2,556.5 458.8,556.5 459.4,556.7 461.2,558.1 461.8,558.1 462.4,557.7 463.6,556.4 464.2,556.2 464.8,556.6 466,557.8 466.6,557.9 468.4,556.9 469,556.9 471.4,557.4 472.6,557.3 473.8,556.9 474.4,556.9 476.2,557.7 476.8,557.7 478,556.8 478.6,556.5 479.2,556.5 480.4,557.6 481,557.9 481.6,557.9 482.2,557.6 483.4,556.8 484,556.5 484.6,556.5 485.2,556.8 486.4,557.9 487,558.0 487.6,557.7 488.8,556.5 489.4,556.5 490.6,557.6 491.2,557.9 491.8,557.7 493,556.6 493.6,556.5 494.2,556.8 495.4,557.7 496,557.9 496.6,557.9 497.2,557.6 498.4,556.5 499,556.2 499.6,556.4 500.8,557.7 501.4,558.1 502,558.0 503.2,556.9 503.8,556.6 504.4,556.7 505.6,557.3 506.2,557.5 506.8,557.4 509.2,557.0 509.8,557.1 511.6,557.5 512.2,557.4 513.4,556.7 514,556.7 514.6,556.9 515.8,557.8 516.4,557.8 518.2,556.8 518.8,556.7 519.4,556.8" fill="none" stroke="#200a0a" stroke-width="0.58"/>
<text x="514.1" y="555.1" font-size="3.1" font-weight="bold" fill="#5656a8" text-anchor="end">0.54</text>
<path d="M527.4,549.5H654.1" stroke="#b4b4b4" stroke-width="0.7"/>
<path d="M654.1,549.5V566M527.4,566H654.1" fill="none" stroke="#a0a0a0" stroke-width="0.8"/>
<path d="M527.4,549.5V566" stroke="#d8d8d8" stroke-width="1"/>
<path d="M527.4,551.2h1M527.4,557.2h1M527.4,563.2h1M654.1,551.2h-1M654.1,563.2h-1" stroke="#999" stroke-width="0.45"/>
<text x="528.9" y="565.4" font-size="2.4" fill="#888">x10⁻⁷</text>
<polyline points="527.9,557.2 554.9,557.2 557.3,557.3 557.9,557.2 559.1,556.4 559.7,556.4 560.3,557.2 561.5,559.7 562.1,559.5 562.7,557.7 563.3,555.1 563.9,553.4 564.5,553.7 565.1,556.0 565.7,559.2 566.3,561.3 566.9,561.2 567.5,558.9 568.1,555.7 568.7,553.3 569.3,553.0 569.9,555.0 570.5,558.2 571.1,560.7 571.7,561.2 572.3,559.5 572.9,556.8 573.5,554.8 574.1,554.5 574.7,555.6 575.3,557.2 575.9,558.2 576.5,558.2 577.7,557.1 578.3,556.9 580.1,557.3 583.1,557.1 585.5,557.4 586.1,557.4 587.9,556.7 588.5,556.8 589.7,557.7 590.3,557.9 590.9,557.8 592.1,556.8 592.7,556.5 593.3,556.6 595.1,557.6 595.7,557.7 596.3,557.6 598.1,556.8 598.7,556.7 599.9,557.4 600.5,557.6 601.1,557.5 602.3,556.8 602.9,556.7 604.7,557.7 605.3,557.6 607.1,556.9 607.7,556.8 608.3,556.9 610.1,557.5 610.7,557.6 611.3,557.5 612.5,556.9 613.1,556.8 613.7,556.9 614.9,557.4 615.5,557.5 617.3,557.1 617.9,557.0 619.7,557.3 620.9,557.3 622.7,556.9 623.3,556.9 623.9,557.1 625.1,557.8 625.7,557.8 626.3,557.4 627.5,556.5 628.1,556.5 629.9,557.7 630.5,557.8 631.1,557.7 632.9,556.8 633.5,556.7 634.1,556.8 635.3,557.5 635.9,557.7 636.5,557.5 637.7,556.8 638.3,556.8 639.5,557.5 640.1,557.7 640.7,557.5 641.9,556.9 642.5,556.8 643.1,556.9 644.9,557.5 645.5,557.6 646.1,557.5 647.9,556.8 648.5,556.8 650.3,557.5 650.9,557.5 652.7,557.0 653.3,557.1" fill="none" stroke="#c85858" stroke-width="0.45"/>
<polyline points="556.3,557.2 557.5,557.3 558.1,557.1 559.3,556.3 559.9,556.3 560.5,557.3 561.1,558.8 561.7,560.0 562.3,559.6 562.9,557.5 563.5,554.7 564.1,553.1 564.7,553.6 565.3,556.3 565.9,559.6 566.5,561.6 567.1,561.3 567.7,558.7 568.3,555.3 568.9,553.0 569.5,552.9 570.1,555.2 570.7,558.5 571.3,561.0 571.9,561.2 572.5,559.3 573.1,556.5 573.7,554.6 574.3,554.5 575.5,557.4 576.1,558.3 576.7,558.2 577.9,557.0 578.5,556.9 580.3,557.4 582.7,557.1 583.9,557.2 585.7,557.5 586.3,557.4 587.5,556.7 588.1,556.6 588.7,556.8 589.9,557.9 590.5,558.1 591.1,557.7 592.3,556.6 592.9,556.4 593.5,556.6 594.7,557.4 595.3,557.7 595.9,557.8 596.5,557.7 597.7,556.9 598.3,556.6 598.9,556.7 600.1,557.6 600.7,557.7 601.3,557.5 602.5,556.7 603.1,556.7 604.3,557.5 604.9,557.8 605.5,557.7 606.7,557.0 607.3,556.8 607.9,556.7 608.5,556.8 610.3,557.7 610.9,557.7 611.5,557.5 612.7,556.8 613.3,556.7 613.9,556.9 615.1,557.5 615.7,557.5 617.5,557.0 618.1,557.0 620.5,557.4 621.1,557.3 622.9,556.8 623.5,556.9 625.3,557.9 625.9,557.8 627.1,556.7 627.7,556.3 628.3,556.4 629.5,557.5 630.1,557.9 630.7,557.9 631.3,557.7 632.5,556.9 633.1,556.6 633.7,556.6 634.3,556.9 635.5,557.7 636.1,557.7 636.7,557.4 637.3,557.0 637.9,556.7 638.5,556.8 639.7,557.6 640.3,557.7 642.1,556.7 642.7,556.7 644.5,557.5 645.1,557.6 645.7,557.6 646.3,557.5 647.5,556.9 648.1,556.7 648.7,556.8 649.9,557.4 650.5,557.6 651.1,557.5 652.3,557.1 652.9,557.0 653.5,557.1" fill="none" stroke="#200a0a" stroke-width="0.58"/>
<text x="648.1" y="555.1" font-size="3.1" font-weight="bold" fill="#5656a8" text-anchor="end">0.56</text>
<text x="244" y="575.5" font-size="3.6" font-weight="bold" fill="#444" text-anchor="middle">EVR</text>
<path d="M259.6,568.1H387.4" stroke="#b4b4b4" stroke-width="0.7"/>
<path d="M387.4,568.1V585.2M259.6,585.2H387.4" fill="none" stroke="#a0a0a0" stroke-width="0.8"/>
<path d="M259.6,568.1V585.2" stroke="#d8d8d8" stroke-width="1"/>
<path d="M259.6,570.2h1M259.6,576.2h1M259.6,582.2h1M387.4,570.2h-1M387.4,582.2h-1" stroke="#999" stroke-width="0.45"/>
<text x="258.4" y="571.3" font-size="3.1" fill="#555" text-anchor="end">2</text>
<text x="258.4" y="577.3" font-size="3.1" fill="#555" text-anchor="end">0</text>
<text x="258.4" y="583.3" font-size="3.1" fill="#555" text-anchor="end">-2</text>
<text x="261.1" y="584.6" font-size="2.4" fill="#888">x10⁻⁷</text>
<polyline points="260.1,576.2 287.1,576.2 287.7,576.2 288.9,576.0 289.5,576.2 290.1,576.7 290.7,576.8 291.9,574.8 292.5,575.2 293.1,577.3 293.7,578.7 294.3,577.0 294.9,573.8 295.5,573.0 296.7,579.7 297.3,579.3 297.9,575.1 298.5,572.1 299.1,573.9 299.7,578.4 300.3,580.4 300.9,577.4 301.5,573.0 302.1,572.3 303.3,580.0 303.9,579.4 304.5,575.1 305.1,572.2 305.7,574.1 306.3,578.1 306.9,579.6 307.5,577.2 308.1,574.1 308.7,573.9 309.3,576.1 309.9,577.6 310.5,577.2 311.1,576.0 311.7,575.6 312.9,576.4 314.1,576.1 314.7,576.1 315.3,576.3 315.9,576.4 317.1,576.0 317.7,576.0 318.9,576.5 319.5,576.4 320.7,576.0 321.3,575.8 321.9,575.9 323.1,576.6 323.7,576.9 324.3,576.6 324.9,575.9 325.5,575.4 326.1,575.6 327.3,576.8 327.9,576.8 329.1,575.9 329.7,575.9 331.5,576.4 332.1,576.4 333.3,575.9 333.9,575.9 335.1,576.7 335.7,576.7 336.9,575.8 337.5,575.7 338.7,576.4 339.3,576.6 339.9,576.5 341.7,575.9 342.3,575.9 343.5,576.5 344.1,576.5 345.3,576.0 345.9,576.0 347.1,576.4 347.7,576.4 348.9,575.9 349.5,575.9 351.3,576.6 351.9,576.6 352.5,576.2 353.1,575.7 353.7,575.4 354.3,575.8 354.9,576.5 355.5,577.0 356.1,576.8 356.7,576.1 357.3,575.6 357.9,575.7 359.1,576.4 359.7,576.5 361.5,576.0 362.1,576.0 363.3,576.6 363.9,576.5 365.1,575.7 365.7,575.7 366.9,576.6 367.5,576.7 368.7,576.0 369.3,575.9 369.9,575.9 371.7,576.5 372.3,576.5 373.5,575.9 374.1,575.9 375.3,576.4 375.9,576.4 377.1,575.9 377.7,576.0 378.9,576.5 379.5,576.5 381.3,575.8 381.9,575.8 383.1,576.7 383.7,576.9 384.3,576.5 384.9,575.9 385.5,575.7 386.1,575.9 386.7,576.2" fill="none" stroke="#c87878" stroke-width="0.5"/>
<polyline points="260.1,576.2 287.1,576.2 287.7,576.2 288.9,575.9 289.5,576.1 290.1,576.7 290.7,577.0 291.3,576.0 291.9,574.5 292.5,574.7 293.7,579.3 294.3,577.8 294.9,573.6 295.5,572.0 296.1,575.5 296.7,580.2 297.3,580.5 298.5,571.2 299.1,572.7 299.7,578.3 300.3,581.5 300.9,578.5 301.5,572.8 302.1,571.1 302.7,575.3 303.3,580.6 303.9,580.6 305.1,571.4 305.7,573.0 306.3,578.0 306.9,580.5 307.5,577.9 308.1,574.0 308.7,573.2 309.9,577.9 310.5,577.6 311.1,576.1 311.7,575.5 312.9,576.4 313.5,576.3 314.1,576.1 314.7,576.1 315.9,576.4 317.1,576.0 317.7,576.0 318.9,576.5 319.5,576.4 320.7,576.0 321.3,575.8 321.9,575.9 323.1,576.6 323.7,576.9 324.3,576.6 324.9,575.9 325.5,575.4 326.1,575.6 327.3,576.8 327.9,576.8 329.1,575.9 329.7,575.9 331.5,576.4 332.1,576.4 333.3,575.9 333.9,575.9 335.1,576.7 335.7,576.7 336.9,575.8 337.5,575.7 338.7,576.4 339.3,576.6 339.9,576.5 341.7,575.9 342.3,575.9 343.5,576.5 344.1,576.5 345.3,576.0 345.9,576.0 347.1,576.4 347.7,576.4 348.9,575.9 349.5,575.9 351.3,576.6 351.9,576.6 352.5,576.2 353.1,575.7 353.7,575.4 354.3,575.8 354.9,576.5 355.5,577.0 356.1,576.8 356.7,576.1 357.3,575.6 357.9,575.7 359.1,576.4 359.7,576.5 361.5,576.0 362.1,576.0 363.3,576.6 363.9,576.5 365.1,575.7 365.7,575.7 366.9,576.6 367.5,576.7 368.7,576.0 369.3,575.9 369.9,575.9 371.7,576.5 372.3,576.5 373.5,575.9 374.1,575.9 375.3,576.4 375.9,576.4 377.1,575.9 377.7,576.0 378.9,576.5 379.5,576.5 381.3,575.8 381.9,575.8 383.1,576.7 383.7,576.9 384.3,576.5 384.9,575.9 385.5,575.7 386.1,575.9 386.7,576.2" fill="none" stroke="#6e6464" stroke-width="0.55"/>
<text x="381.4" y="573.7" font-size="3.1" font-weight="bold" fill="#5656a8" text-anchor="end">-1.90</text>
<path d="M393.6,568.1H520.1" stroke="#b4b4b4" stroke-width="0.7"/>
<path d="M520.1,568.1V585.2M393.6,585.2H520.1" fill="none" stroke="#a0a0a0" stroke-width="0.8"/>
<path d="M393.6,568.1V585.2" stroke="#d8d8d8" stroke-width="1"/>
<path d="M393.6,570.2h1M393.6,576.2h1M393.6,582.2h1M520.1,570.2h-1M520.1,582.2h-1" stroke="#999" stroke-width="0.45"/>
<text x="395.1" y="584.6" font-size="2.4" fill="#888">x10⁻⁷</text>
<polyline points="394.1,576.2 410.3,576.2 412.1,576.0 412.7,576.1 413.3,576.6 413.9,576.8 414.5,576.5 415.1,575.8 415.7,575.3 416.3,575.5 417.5,577.1 418.1,577.0 419.3,575.5 419.9,575.5 420.5,576.0 421.1,576.3 421.7,576.4 422.3,577.0 422.9,577.3 423.5,576.1 424.1,574.2 424.7,574.4 425.3,577.4 425.9,579.2 426.5,576.8 427.1,573.1 427.7,573.8 428.3,578.4 428.9,580.1 430.1,571.9 430.7,574.1 431.3,579.5 431.9,580.2 432.5,575.0 433.1,571.5 433.7,574.9 434.3,580.2 434.9,579.6 435.5,574.0 436.1,571.6 437.3,580.7 437.9,578.8 438.5,573.2 439.1,572.0 439.7,576.9 440.3,580.6 440.9,577.8 441.5,572.9 442.1,573.0 442.7,577.6 443.3,579.8 444.5,573.5 445.1,574.4 445.7,577.5 446.3,578.1 446.9,576.2 447.5,574.9 448.1,575.7 448.7,576.7 449.3,576.7 449.9,576.1 450.5,576.0 451.1,576.2 451.7,576.3 452.9,576.0 454.7,576.5 456.5,575.9 457.1,576.0 458.3,576.4 458.9,576.4 460.7,576.0 461.3,575.9 462.5,576.4 463.1,576.5 464.3,576.0 464.9,575.9 466.1,576.5 466.7,576.5 467.9,575.9 468.5,575.8 469.1,576.0 470.3,576.6 470.9,576.7 471.5,576.5 472.7,575.6 473.3,575.7 474.5,576.7 475.1,576.7 476.3,576.0 476.9,575.9 478.1,576.3 478.7,576.3 480.5,576.1 481.1,576.1 482.3,576.4 482.9,576.4 484.1,576.0 484.7,575.9 485.9,576.3 486.5,576.4 488.9,576.1 491.3,576.3 493.1,576.2 494.3,576.2 519.5,576.2" fill="none" stroke="#c87878" stroke-width="0.5"/>
<polyline points="394.1,576.2 410.3,576.3 410.9,576.2 412.1,575.9 412.7,576.1 413.9,577.0 414.5,576.7 415.7,575.2 416.3,575.3 417.5,577.2 418.1,577.3 419.3,575.5 419.9,575.3 421.1,576.2 421.7,576.4 422.9,577.7 423.5,576.4 424.1,573.9 424.7,573.7 425.9,580.0 426.5,577.5 427.1,572.6 427.7,572.7 428.3,578.3 428.9,581.3 429.5,576.7 430.1,571.0 430.7,572.8 431.3,579.7 431.9,581.6 433.1,570.4 433.7,573.8 434.3,580.7 434.9,581.0 435.5,574.3 436.1,570.3 436.7,575.0 437.3,581.4 437.9,580.2 438.5,573.1 439.1,570.7 440.3,581.6 440.9,578.9 441.5,572.5 442.1,571.8 442.7,577.3 443.3,580.7 443.9,577.5 444.5,573.1 445.1,573.7 445.7,577.4 446.3,578.7 447.5,574.7 448.1,575.4 448.7,576.8 449.3,576.9 449.9,576.2 450.5,575.9 451.7,576.3 452.9,576.0 454.7,576.5 456.5,575.9 457.1,576.0 458.3,576.4 458.9,576.4 460.7,576.0 461.3,575.9 462.5,576.4 463.1,576.5 464.3,576.0 464.9,575.9 466.1,576.5 466.7,576.5 467.9,575.9 468.5,575.8 469.1,576.0 470.3,576.6 470.9,576.7 471.5,576.5 472.7,575.6 473.3,575.7 474.5,576.7 475.1,576.7 476.3,576.0 476.9,575.9 478.1,576.3 478.7,576.3 480.5,576.1 481.1,576.1 482.3,576.4 482.9,576.4 484.1,576.0 484.7,575.9 485.9,576.3 486.5,576.4 488.9,576.1 491.3,576.3 493.1,576.2 494.3,576.2 519.5,576.2" fill="none" stroke="#6e6464" stroke-width="0.55"/>
<text x="514.1" y="573.7" font-size="3.1" font-weight="bold" fill="#5656a8" text-anchor="end">-0.87</text>
<path d="M527.4,568.1H654.1" stroke="#b4b4b4" stroke-width="0.7"/>
<path d="M654.1,568.1V585.2M527.4,585.2H654.1" fill="none" stroke="#a0a0a0" stroke-width="0.8"/>
<path d="M527.4,568.1V585.2" stroke="#d8d8d8" stroke-width="1"/>
<path d="M527.4,570.2h1M527.4,576.2h1M527.4,582.2h1M654.1,570.2h-1M654.1,582.2h-1" stroke="#999" stroke-width="0.45"/>
<text x="528.9" y="584.6" font-size="2.4" fill="#888">x10⁻⁷</text>
<polyline points="527.9,576.2 544.1,576.2 545.9,576.0 546.5,576.1 547.7,576.7 548.3,576.5 549.5,575.5 550.1,575.6 551.3,576.9 551.9,576.9 553.1,575.8 553.7,575.5 554.3,575.6 554.9,576.2 555.5,577.2 556.1,577.6 556.7,576.4 557.3,574.3 557.9,574.4 558.5,577.5 559.1,579.2 559.7,576.3 560.3,572.4 560.9,574.0 561.5,579.6 562.1,580.7 562.7,574.8 563.3,570.4 563.9,574.5 564.5,581.4 565.1,580.8 565.7,573.3 566.3,570.0 567.5,582.2 568.1,579.8 568.7,572.2 569.3,570.4 569.9,577.1 570.5,582.5 571.1,578.6 571.7,571.3 572.3,571.3 572.9,578.3 573.5,582.0 574.7,571.5 575.3,573.0 575.9,578.6 576.5,580.0 577.1,576.1 577.7,573.3 578.3,575.0 578.9,577.7 579.5,577.6 580.1,575.8 580.7,575.2 581.9,576.7 582.5,576.5 583.1,576.0 583.7,575.8 585.5,576.6 586.1,576.5 587.3,575.8 587.9,575.8 588.5,576.0 589.7,576.6 590.3,576.6 591.5,575.9 592.1,575.7 592.7,575.9 593.3,576.3 593.9,576.5 595.7,576.0 597.5,576.3 599.9,576.0 600.5,576.1 601.7,576.5 602.3,576.5 603.5,575.8 604.1,575.8 605.3,576.5 605.9,576.6 607.7,576.0 608.3,575.9 608.9,576.0 610.1,576.5 610.7,576.4 611.9,575.9 612.5,576.0 613.1,576.4 613.7,576.5 614.9,576.0 615.5,575.9 617.3,576.3 619.7,576.1 622.1,576.2 653.3,576.2" fill="none" stroke="#c87878" stroke-width="0.5"/>
<polyline points="527.9,576.2 544.1,576.2 544.7,576.2 545.9,575.9 546.5,576.1 547.7,576.8 548.3,576.7 549.5,575.4 550.1,575.4 551.3,577.0 551.9,577.1 552.5,576.6 553.1,575.8 553.7,575.3 554.3,575.3 554.9,576.0 555.5,577.2 556.1,578.0 556.7,576.7 557.3,574.0 557.9,573.7 558.5,577.3 559.1,580.1 559.7,576.9 560.3,571.7 560.9,572.8 561.5,579.8 562.1,582.2 563.3,569.1 563.9,573.1 564.5,582.0 565.1,582.6 565.7,573.7 566.3,568.3 566.9,574.5 567.5,583.2 568.1,581.6 568.7,572.1 569.3,568.6 570.5,583.8 571.1,580.2 571.7,570.9 572.3,569.4 572.9,577.8 573.5,583.4 574.1,578.4 574.7,570.8 575.3,571.5 575.9,578.5 576.5,581.2 577.7,572.7 578.3,574.3 578.9,577.8 579.5,578.1 580.1,575.9 580.7,575.0 581.9,576.8 582.5,576.6 583.1,576.0 583.7,575.8 584.3,576.0 584.9,576.4 585.5,576.6 586.1,576.5 587.3,575.8 587.9,575.8 588.5,576.0 589.7,576.6 590.3,576.6 591.5,575.9 592.1,575.7 592.7,575.9 593.3,576.3 593.9,576.5 595.7,576.0 597.5,576.3 599.9,576.0 600.5,576.1 601.7,576.5 602.3,576.5 603.5,575.8 604.1,575.8 605.3,576.5 605.9,576.6 607.7,576.0 608.3,575.9 608.9,576.0 610.1,576.5 610.7,576.4 611.9,575.9 612.5,576.0 613.1,576.4 613.7,576.5 614.9,576.0 615.5,575.9 617.3,576.3 619.7,576.1 622.1,576.2 653.3,576.2" fill="none" stroke="#6e6464" stroke-width="0.55"/>
<text x="648.1" y="573.7" font-size="3.1" font-weight="bold" fill="#5656a8" text-anchor="end">-1.91</text>
<text x="244" y="594.8" font-size="3.6" font-weight="bold" fill="#444" text-anchor="middle">AMT</text>
<path d="M259.6,587.7H387.4" stroke="#b4b4b4" stroke-width="0.7"/>
<path d="M387.4,587.7V604.2M259.6,604.2H387.4" fill="none" stroke="#a0a0a0" stroke-width="0.8"/>
<path d="M259.6,587.7V604.2" stroke="#d8d8d8" stroke-width="1"/>
<path d="M259.6,589.3h1M259.6,595.3h1M259.6,601.3h1M387.4,589.3h-1M387.4,601.3h-1" stroke="#999" stroke-width="0.45"/>
<text x="258.4" y="590.4" font-size="3.1" fill="#555" text-anchor="end">2</text>
<text x="258.4" y="596.4" font-size="3.1" fill="#555" text-anchor="end">0</text>
<text x="258.4" y="602.4" font-size="3.1" fill="#555" text-anchor="end">-2</text>
<text x="261.1" y="603.6" font-size="2.4" fill="#888">x10⁻⁷</text>
<polyline points="260.1,595.3 276.3,595.3 278.1,595.1 278.7,595.2 279.9,595.9 280.5,595.7 281.7,594.4 282.3,594.6 283.5,596.2 284.1,596.2 285.3,594.6 285.9,594.3 286.5,594.8 287.1,595.7 287.7,596.3 288.3,596.0 288.9,595.2 289.5,594.6 290.1,594.9 290.7,595.9 291.3,596.4 291.9,595.3 292.5,593.2 293.1,592.1 293.7,593.5 294.3,596.6 294.9,599.1 295.5,599.1 296.1,596.5 296.7,593.1 297.3,591.1 297.9,592.0 299.1,598.0 299.7,599.0 300.3,597.4 300.9,594.9 301.5,593.6 302.1,593.8 303.3,595.7 303.9,596.1 304.5,596.1 305.1,595.4 305.7,594.5 306.3,593.9 306.9,594.2 308.1,596.7 308.7,597.2 309.3,596.4 310.5,593.4 311.1,593.3 311.7,594.6 312.3,596.3 312.9,597.4 313.5,597.1 314.7,593.9 315.3,593.1 315.9,593.8 317.1,597.1 317.7,597.4 318.3,596.4 318.9,594.7 319.5,593.4 320.1,593.5 321.3,596.2 321.9,596.9 322.5,596.5 323.7,594.2 324.3,594.0 324.9,594.7 325.5,595.7 326.1,596.4 326.7,596.4 327.9,594.8 328.5,594.3 329.1,594.4 330.3,595.6 330.9,595.9 331.5,596.0 333.9,594.9 334.5,594.9 335.1,595.0 336.3,595.6 336.9,595.7 338.7,595.0 339.3,595.0 340.5,595.6 341.1,595.7 341.7,595.5 342.9,595.0 343.5,594.9 344.1,595.0 345.9,595.7 346.5,595.7 347.1,595.6 348.9,594.7 349.5,594.7 351.3,595.9 351.9,595.9 353.1,595.0 353.7,594.8 354.3,594.9 355.5,595.5 356.1,595.6 356.7,595.5 358.5,595.0 359.1,595.0 359.7,595.2 360.9,596.0 361.5,596.1 362.1,595.7 363.3,594.4 363.9,594.2 364.5,594.7 365.7,596.1 366.3,596.3 366.9,595.9 368.1,594.9 368.7,594.7 369.3,594.8 371.1,595.6 371.7,595.7 372.3,595.7 373.5,595.1 374.1,594.9 374.7,595.1 375.9,595.6 376.5,595.6 377.7,595.1 378.3,594.9 378.9,595.0 380.1,595.5 380.7,595.6 381.3,595.6 381.9,595.5 383.7,594.9 384.3,594.9 386.1,595.6 386.7,595.7" fill="none" stroke="#c85858" stroke-width="0.45"/>
<polyline points="275.4,595.3 276.6,595.4 278.4,595.0 279,595.2 279.6,595.7 280.2,596.1 280.8,595.8 281.4,594.9 282,594.2 282.6,594.5 283.8,596.3 284.4,596.4 285.6,594.5 286.2,594.1 286.8,594.7 287.4,595.8 288,596.4 288.6,596.0 289.2,595.1 289.8,594.5 290.4,595.1 291,596.4 291.6,596.9 292.2,595.3 292.8,592.6 293.4,591.3 294,593.0 294.6,596.8 295.2,599.8 295.8,599.9 296.4,596.9 297,592.8 297.6,590.4 298.2,591.3 299.4,598.3 300,599.3 300.6,597.6 301.2,595.0 301.8,593.6 302.4,593.8 303.6,595.7 304.2,596.3 304.8,596.3 305.4,595.5 306,594.3 306.6,593.6 307.2,593.9 308.4,597.0 309,597.6 309.6,596.6 310.8,593.1 311.4,592.9 312,594.4 312.6,596.5 313.2,597.8 313.8,597.5 315,593.7 315.6,592.7 316.2,593.5 317.4,597.3 318,597.8 318.6,596.6 319.2,594.6 319.8,593.2 320.4,593.3 321.6,596.3 322.2,597.1 322.8,596.5 324,594.1 324.6,594.1 325.8,596.1 326.4,596.6 327,596.2 328.2,594.4 328.8,594.1 329.4,594.5 330.6,595.9 331.2,596.1 331.8,596.0 333.6,594.9 334.2,594.8 334.8,594.9 336,595.6 336.6,595.7 337.2,595.6 338.4,595.0 339,594.9 340.8,595.8 341.4,595.7 342.6,595.0 343.2,594.8 343.8,594.9 345.6,595.7 346.2,595.8 346.8,595.8 347.4,595.5 348.6,594.7 349.2,594.6 349.8,594.8 351,595.9 351.6,596.1 352.2,595.8 353.4,594.8 354,594.7 355.2,595.4 355.8,595.6 356.4,595.6 358.2,595.0 358.8,594.9 359.4,595.0 360.6,595.9 361.2,596.2 361.8,596.0 363,594.5 363.6,594.0 364.2,594.3 365.4,596.0 366,596.4 366.6,596.3 367.8,595.1 368.4,594.7 369,594.6 369.6,594.8 371.4,595.8 372,595.8 373.8,594.9 374.4,594.9 375.6,595.6 376.2,595.7 376.8,595.5 378,594.9 378.6,594.9 380.4,595.7 381,595.7 381.6,595.6 383.4,594.9 384,594.8 384.6,595.0 385.8,595.6 386.4,595.8" fill="none" stroke="#200a0a" stroke-width="0.58"/>
<text x="381.4" y="593.3" font-size="3.1" font-weight="bold" fill="#5656a8" text-anchor="end">-0.38</text>
<path d="M393.6,587.7H520.1" stroke="#b4b4b4" stroke-width="0.7"/>
<path d="M520.1,587.7V604.2M393.6,604.2H520.1" fill="none" stroke="#a0a0a0" stroke-width="0.8"/>
<path d="M393.6,587.7V604.2" stroke="#d8d8d8" stroke-width="1"/>
<path d="M393.6,589.3h1M393.6,595.3h1M393.6,601.3h1M520.1,589.3h-1M520.1,601.3h-1" stroke="#999" stroke-width="0.45"/>
<text x="395.1" y="603.6" font-size="2.4" fill="#888">x10⁻⁷</text>
<polyline points="394.1,595.3 410.3,595.3 412.1,595.0 412.7,595.2 413.3,595.7 413.9,596.0 414.5,595.7 415.1,594.9 415.7,594.4 416.3,594.6 417.5,596.2 418.1,596.2 419.3,594.6 419.9,594.3 420.5,594.7 421.7,596.6 422.3,596.6 423.5,592.9 424.1,594.1 424.7,597.7 425.3,598.1 425.9,593.7 426.5,590.9 427.1,594.9 427.7,600.2 428.3,598.4 428.9,591.7 429.5,590.1 430.1,596.2 430.7,601.0 431.3,597.5 431.9,590.8 432.5,590.7 433.1,597.4 433.7,601.0 434.3,596.3 434.9,590.4 435.5,591.9 436.1,598.0 436.7,599.5 437.3,595.1 437.9,592.0 438.5,594.0 439.1,597.0 439.7,596.7 440.3,594.7 440.9,594.2 442.1,596.2 442.7,596.0 443.3,595.0 443.9,594.3 444.5,594.6 445.1,595.7 445.7,596.3 446.3,595.9 446.9,594.8 447.5,594.3 448.1,594.8 448.7,595.9 449.3,596.3 449.9,595.6 450.5,594.7 451.1,594.6 452.3,595.8 452.9,595.7 453.5,595.2 454.1,594.9 454.7,595.0 455.9,595.5 456.5,595.7 457.1,595.5 458.3,594.9 458.9,595.0 460.1,595.6 460.7,595.5 461.9,595.1 463.7,595.5 464.3,595.5 466.1,595.0 466.7,595.1 467.9,595.7 468.5,595.6 469.7,595.0 470.3,595.0 471.5,595.4 472.1,595.5 474.5,595.2 476.3,595.4 476.9,595.4 478.1,595.1 478.7,595.2 479.9,595.5 480.5,595.4 481.7,595.1 482.3,595.1 484.1,595.6 484.7,595.6 485.9,595.0 486.5,594.9 487.1,595.1 487.7,595.5 488.3,595.7 488.9,595.6 489.5,595.2 490.1,595.0 491.9,595.5 494.3,595.1 496.1,595.6 496.7,595.5 497.9,594.9 498.5,595.0 499.7,595.5 500.3,595.6 502.1,595.1 502.7,595.2 504.5,595.4 506.3,595.2 508.1,595.5 509.9,595.1 510.5,595.2 511.7,595.5 512.3,595.5 514.1,595.0 514.7,595.0 515.9,595.5 516.5,595.7 517.7,595.2 518.3,595.0 519.5,595.3" fill="none" stroke="#c87878" stroke-width="0.5"/>
<polyline points="394.1,595.3 410.3,595.4 410.9,595.3 412.1,595.0 412.7,595.1 413.9,596.1 414.5,595.9 415.7,594.2 416.3,594.3 417.5,596.3 418.1,596.5 418.7,595.7 419.3,594.6 419.9,594.0 420.5,594.4 421.7,596.8 422.3,597.1 422.9,595.1 423.5,592.5 424.1,593.4 424.7,597.8 425.3,599.2 426.5,589.8 427.1,593.9 427.7,601.0 428.3,600.0 428.9,591.7 429.5,588.4 430.7,602.2 431.3,599.0 431.9,590.3 432.5,588.9 433.1,596.8 433.7,602.4 434.3,597.5 434.9,589.7 435.5,590.3 436.1,597.9 436.7,600.8 437.9,591.4 438.5,593.3 439.1,597.1 439.7,597.2 440.3,594.8 440.9,593.9 442.1,596.4 442.7,596.3 443.9,594.1 444.5,594.3 445.1,595.6 445.7,596.5 446.3,596.2 446.9,594.9 447.5,594.0 448.1,594.5 448.7,595.8 449.3,596.5 449.9,595.9 450.5,594.7 451.1,594.4 452.3,595.8 452.9,595.8 454.1,594.9 454.7,595.0 455.9,595.5 456.5,595.7 457.1,595.5 458.3,594.9 458.9,595.0 460.1,595.6 460.7,595.5 461.9,595.1 463.7,595.5 464.3,595.5 466.1,595.0 466.7,595.1 467.9,595.7 468.5,595.6 469.7,595.0 470.3,595.0 471.5,595.4 472.1,595.5 474.5,595.2 476.3,595.4 476.9,595.4 478.1,595.1 478.7,595.2 479.9,595.5 480.5,595.4 481.7,595.1 482.3,595.1 484.1,595.6 484.7,595.6 485.9,595.0 486.5,594.9 487.1,595.1 487.7,595.5 488.3,595.7 488.9,595.6 489.5,595.2 490.1,595.0 491.9,595.5 494.3,595.1 496.1,595.6 496.7,595.5 497.9,594.9 498.5,595.0 499.7,595.5 500.3,595.6 502.1,595.1 502.7,595.2 504.5,595.4 506.3,595.2 508.1,595.5 509.9,595.1 510.5,595.2 511.7,595.5 512.3,595.5 514.1,595.0 514.7,595.0 515.9,595.5 516.5,595.7 517.7,595.2 518.3,595.0 519.5,595.3" fill="none" stroke="#6e6464" stroke-width="0.55"/>
<text x="514.1" y="593.3" font-size="3.1" font-weight="bold" fill="#5656a8" text-anchor="end">-0.13</text>
<path d="M527.4,587.7H654.1" stroke="#b4b4b4" stroke-width="0.7"/>
<path d="M654.1,587.7V604.2M527.4,604.2H654.1" fill="none" stroke="#a0a0a0" stroke-width="0.8"/>
<path d="M527.4,587.7V604.2" stroke="#d8d8d8" stroke-width="1"/>
<path d="M527.4,589.3h1M527.4,595.3h1M527.4,601.3h1M654.1,589.3h-1M654.1,601.3h-1" stroke="#999" stroke-width="0.45"/>
<text x="528.9" y="603.6" font-size="2.4" fill="#888">x10⁻⁷</text>
<polyline points="527.9,595.3 544.1,595.3 545.9,595.1 546.5,595.2 547.7,595.9 548.3,595.7 549.5,594.4 550.1,594.6 551.3,596.1 551.9,596.2 553.1,594.7 553.7,594.3 554.3,594.8 554.9,595.7 555.5,596.1 556.1,595.9 557.9,594.4 558.5,594.2 559.1,595.5 559.7,597.4 560.3,596.7 560.9,593.2 561.5,592.1 562.7,599.5 563.3,596.8 563.9,591.5 564.5,591.7 565.1,597.2 565.7,600.0 566.9,590.9 567.5,592.4 568.1,598.1 568.7,599.6 569.3,594.9 569.9,591.0 570.5,593.6 571.1,598.1 571.7,598.0 572.3,594.5 572.9,593.2 573.5,594.9 574.1,596.0 574.7,595.5 575.3,595.1 575.9,595.7 576.5,595.9 577.7,594.5 578.3,594.6 578.9,595.5 579.5,596.2 580.1,596.0 580.7,595.0 581.3,594.3 581.9,594.7 582.5,595.7 583.1,596.3 583.7,595.9 584.3,594.9 584.9,594.5 585.5,594.8 586.1,595.5 586.7,595.8 588.5,595.2 589.1,595.1 591.5,595.4 593.9,595.2 595.7,595.5 596.9,595.1 597.5,595.0 598.7,595.6 599.3,595.7 600.5,595.1 601.1,594.9 601.7,595.0 603.5,595.7 604.1,595.6 605.3,594.9 605.9,594.9 607.1,595.5 607.7,595.6 608.9,595.1 609.5,595.1 610.7,595.4 611.3,595.4 613.1,595.1 613.7,595.1 615.5,595.6 617.3,595.0 617.9,595.1 619.1,595.5 619.7,595.5 621.5,595.2 623.9,595.4 625.1,595.2 625.7,595.1 626.9,595.6 627.5,595.6 628.7,595.0 629.3,594.9 631.1,595.7 631.7,595.6 633.5,594.9 634.1,595.0 635.3,595.7 635.9,595.7 637.1,595.1 637.7,595.1 638.9,595.5 639.5,595.4 640.7,595.2 641.3,595.2 643.1,595.5 643.7,595.5 644.9,595.1 645.5,595.0 647.3,595.5 649.1,595.2 651.5,595.4 653.3,595.2" fill="none" stroke="#c87878" stroke-width="0.5"/>
<polyline points="527.9,595.3 544.1,595.4 544.7,595.3 545.9,595.0 546.5,595.1 547.7,596.1 548.3,595.9 549.5,594.3 550.1,594.3 551.3,596.2 551.9,596.5 552.5,595.7 553.1,594.7 553.7,594.1 554.3,594.5 554.9,595.6 555.5,596.3 556.1,596.2 557.9,594.3 558.5,593.9 559.1,595.2 559.7,597.8 560.3,597.4 560.9,593.1 561.5,591.1 562.7,600.5 563.3,597.9 563.9,591.1 564.5,590.3 565.1,596.9 565.7,601.2 566.3,596.9 566.9,590.2 567.5,591.0 568.1,598.1 568.7,600.9 569.9,590.2 570.5,592.5 571.1,598.3 571.7,599.0 572.3,594.8 572.9,592.7 574.1,596.1 575.3,595.0 575.9,595.7 576.5,596.1 577.1,595.4 577.7,594.3 578.3,594.3 579.5,596.4 580.1,596.3 581.3,594.1 581.9,594.4 582.5,595.6 583.1,596.5 583.7,596.1 584.3,595.0 584.9,594.3 585.5,594.7 586.1,595.5 586.7,595.9 588.5,595.1 589.1,595.1 591.5,595.4 593.9,595.2 595.7,595.5 596.9,595.1 597.5,595.0 598.7,595.6 599.3,595.7 600.5,595.1 601.1,594.9 601.7,595.0 603.5,595.7 604.1,595.6 605.3,594.9 605.9,594.9 607.1,595.5 607.7,595.6 608.9,595.1 609.5,595.1 610.7,595.4 611.3,595.4 613.1,595.1 613.7,595.1 615.5,595.6 617.3,595.0 617.9,595.1 619.1,595.5 619.7,595.5 621.5,595.2 623.9,595.4 625.1,595.2 625.7,595.1 626.9,595.6 627.5,595.6 628.7,595.0 629.3,594.9 631.1,595.7 631.7,595.6 633.5,594.9 634.1,595.0 635.3,595.7 635.9,595.7 637.1,595.1 637.7,595.1 638.9,595.5 639.5,595.4 640.7,595.2 641.3,595.2 643.1,595.5 643.7,595.5 644.9,595.1 645.5,595.0 647.3,595.5 649.1,595.2 651.5,595.4 653.3,595.2" fill="none" stroke="#6e6464" stroke-width="0.55"/>
<text x="648.1" y="593.3" font-size="3.1" font-weight="bold" fill="#5656a8" text-anchor="end">-0.12</text>
<text x="244" y="614.1" font-size="3.6" font-weight="bold" fill="#444" text-anchor="middle">KLV</text>
<path d="M259.6,606.3H387.4" stroke="#b4b4b4" stroke-width="0.7"/>
<path d="M387.4,606.3V623.3M259.6,623.3H387.4" fill="none" stroke="#a0a0a0" stroke-width="0.8"/>
<path d="M259.6,606.3V623.3" stroke="#d8d8d8" stroke-width="1"/>
<path d="M259.6,608.4h1M259.6,614.4h1M259.6,620.4h1M387.4,608.4h-1M387.4,620.4h-1" stroke="#999" stroke-width="0.45"/>
<text x="258.4" y="609.5" font-size="3.1" fill="#555" text-anchor="end">2</text>
<text x="258.4" y="615.5" font-size="3.1" fill="#555" text-anchor="end">0</text>
<text x="258.4" y="621.5" font-size="3.1" fill="#555" text-anchor="end">-2</text>
<text x="261.1" y="622.7" font-size="2.4" fill="#888">x10⁻⁷</text>
<polyline points="260.1,614.4 284.1,614.4 285.9,614.5 287.1,613.9 287.7,614.4 288.3,615.3 288.9,615.0 289.5,613.4 290.1,612.8 291.3,616.7 291.9,615.3 292.5,612.2 293.1,612.1 293.7,615.6 294.3,617.5 294.9,614.9 295.5,611.4 296.1,612.3 296.7,616.3 297.3,617.5 298.5,611.2 299.1,612.9 299.7,616.8 300.3,617.2 300.9,613.5 301.5,611.2 302.1,613.6 302.7,616.9 303.3,616.4 303.9,613.2 304.5,612.1 305.7,616.1 306.3,615.2 306.9,613.6 307.5,613.6 308.1,614.4 308.7,614.7 309.3,614.6 309.9,614.8 310.5,614.9 311.7,613.3 312.3,613.5 312.9,614.8 313.5,615.7 314.1,615.3 314.7,613.9 315.3,613.1 315.9,613.6 316.5,614.9 317.1,615.6 317.7,615.0 318.3,614.0 318.9,613.8 320.1,614.5 321.3,614.3 322.5,614.6 323.1,614.6 324.3,614.3 324.9,614.2 326.1,614.5 326.7,614.5 327.9,614.3 328.5,614.3 330.3,614.6 330.9,614.5 332.7,614.0 333.3,614.2 333.9,614.6 334.5,614.9 335.1,614.7 336.3,614.0 336.9,614.0 338.1,614.6 338.7,614.7 339.3,614.6 340.5,614.2 341.1,614.2 342.3,614.6 342.9,614.6 344.1,614.2 344.7,614.2 345.9,614.6 346.5,614.7 347.7,614.3 348.3,614.2 350.7,614.6 351.3,614.6 352.5,614.2 353.1,614.2 354.3,614.5 354.9,614.6 356.1,614.3 358.5,614.5 360.3,614.2 360.9,614.2 362.1,614.7 362.7,614.8 363.3,614.6 363.9,614.1 364.5,613.9 365.1,614.1 366.3,614.8 366.9,614.7 368.1,614.3 368.7,614.1 369.3,614.2 370.5,614.6 371.1,614.6 372.3,614.2 372.9,614.2 374.1,614.6 374.7,614.6 375.9,614.2 376.5,614.2 378.3,614.6 378.9,614.6 380.7,614.2 381.3,614.2 382.5,614.6 383.1,614.6 384.3,614.3 386.7,614.5" fill="none" stroke="#c87878" stroke-width="0.5"/>
<polyline points="260.1,614.4 282.9,614.4 284.1,614.3 284.7,614.3 285.9,614.7 286.5,614.2 287.1,613.5 287.7,614.1 288.3,616.0 288.9,616.0 289.5,612.8 290.1,611.0 290.7,614.5 291.3,618.9 291.9,616.9 292.5,610.5 293.1,609.3 293.7,615.8 294.3,620.7 294.9,616.3 295.5,608.9 296.1,609.5 296.7,617.3 297.3,620.9 298.5,608.2 299.1,610.5 299.7,618.5 300.3,620.4 300.9,613.6 301.5,608.1 302.1,611.9 302.7,619.0 303.3,619.0 303.9,612.6 304.5,609.7 305.7,617.6 306.3,616.4 306.9,613.2 307.5,612.6 308.1,614.2 308.7,614.9 309.3,614.7 310.5,615.6 311.1,614.3 311.7,612.4 312.3,612.5 313.5,616.8 314.1,616.3 314.7,613.8 315.3,611.9 315.9,612.6 316.5,615.1 317.1,616.7 317.7,615.8 318.3,613.8 318.9,613.0 320.1,614.6 320.7,614.6 321.3,614.4 323.1,614.6 324.3,614.3 324.9,614.2 326.1,614.5 326.7,614.5 327.9,614.3 328.5,614.3 330.3,614.6 330.9,614.5 332.7,614.0 333.3,614.2 333.9,614.6 334.5,614.9 335.1,614.7 336.3,614.0 336.9,614.0 338.1,614.6 338.7,614.7 339.3,614.6 340.5,614.2 341.1,614.2 342.3,614.6 342.9,614.6 344.1,614.2 344.7,614.2 345.9,614.6 346.5,614.7 347.7,614.3 348.3,614.2 350.7,614.6 351.3,614.6 352.5,614.2 353.1,614.2 354.3,614.5 354.9,614.6 356.1,614.3 358.5,614.5 360.3,614.2 360.9,614.2 362.1,614.7 362.7,614.8 363.3,614.6 363.9,614.1 364.5,613.9 365.1,614.1 366.3,614.8 366.9,614.7 368.1,614.3 368.7,614.1 369.3,614.2 370.5,614.6 371.1,614.6 372.3,614.2 372.9,614.2 374.1,614.6 374.7,614.6 375.9,614.2 376.5,614.2 378.3,614.6 378.9,614.6 380.7,614.2 381.3,614.2 382.5,614.6 383.1,614.6 384.3,614.3 386.7,614.5" fill="none" stroke="#6e6464" stroke-width="0.55"/>
<text x="381.4" y="611.9" font-size="3.1" font-weight="bold" fill="#5656a8" text-anchor="end">-1.90</text>
<path d="M393.6,606.3H520.1" stroke="#b4b4b4" stroke-width="0.7"/>
<path d="M520.1,606.3V623.3M393.6,623.3H520.1" fill="none" stroke="#a0a0a0" stroke-width="0.8"/>
<path d="M393.6,606.3V623.3" stroke="#d8d8d8" stroke-width="1"/>
<path d="M393.6,608.4h1M393.6,614.4h1M393.6,620.4h1M520.1,608.4h-1M520.1,620.4h-1" stroke="#999" stroke-width="0.45"/>
<text x="395.1" y="622.7" font-size="2.4" fill="#888">x10⁻⁷</text>
<polyline points="394.1,614.4 407.9,614.4 409.7,614.3 412.1,614.6 412.7,614.5 413.9,614.1 414.5,614.0 415.1,614.3 416.3,615.0 416.9,614.9 417.5,614.5 418.1,614.0 418.7,613.6 419.3,613.7 420.5,615.1 421.1,615.4 421.7,615.1 422.9,613.5 423.5,613.3 424.1,613.7 425.3,615.4 425.9,615.6 426.5,614.9 427.1,614.0 427.7,613.3 428.3,613.3 428.9,614.0 429.5,615.0 430.1,615.6 430.7,615.4 431.9,613.7 432.5,613.2 433.1,613.5 434.3,615.3 434.9,615.6 435.5,615.2 436.7,613.4 437.3,613.2 437.9,613.7 439.1,615.4 439.7,615.5 440.3,614.9 440.9,614.0 441.5,613.4 442.1,613.5 443.3,614.8 443.9,615.2 444.5,615.1 445.7,614.0 446.3,613.8 446.9,614.0 448.1,614.7 448.7,614.8 450.5,614.2 451.1,614.2 453.5,614.6 455.9,614.3 457.7,614.5 460.1,614.3 461.9,614.5 463.7,614.2 465.5,614.6 467.3,614.3 467.9,614.2 469.7,614.6 470.3,614.6 472.1,614.2 473.3,614.5 473.9,614.6 475.1,614.3 475.7,614.3 477.5,614.6 479.9,614.1 480.5,614.3 481.7,614.8 482.3,614.7 483.5,614.0 484.1,614.1 485.3,614.6 485.9,614.6 487.7,614.3 488.3,614.3 490.1,614.5 491.9,614.3 493.1,614.5 493.7,614.6 495.5,614.2 497.9,614.6 498.5,614.5 499.7,614.2 500.3,614.2 501.5,614.6 502.1,614.6 503.3,614.3 503.9,614.2 505.1,614.5 505.7,614.5 507.5,614.2 508.1,614.3 509.3,614.6 509.9,614.7 511.7,614.0 512.3,614.1 513.5,614.7 514.1,614.7 515.3,614.3 515.9,614.2 517.7,614.5 519.5,614.4" fill="none" stroke="#c85858" stroke-width="0.45"/>
<polyline points="405.7,614.4 408.1,614.4 409.9,614.3 412.3,614.6 412.9,614.5 414.1,614.0 414.7,614.0 416.5,615.0 417.1,614.9 418.3,613.8 418.9,613.5 419.5,613.8 420.7,615.2 421.3,615.5 421.9,615.0 423.1,613.4 423.7,613.3 424.3,613.9 424.9,614.9 425.5,615.6 426.1,615.5 426.7,614.8 427.3,613.7 427.9,613.1 428.5,613.3 429.7,615.2 430.3,615.7 430.9,615.4 432.1,613.5 432.7,613.1 433.3,613.6 434.5,615.4 435.1,615.7 435.7,615.1 436.3,614.1 436.9,613.3 437.5,613.2 438.1,613.9 438.7,614.9 439.3,615.5 439.9,615.5 441.1,613.8 441.7,613.3 442.3,613.5 443.5,615.0 444.1,615.3 444.7,615.0 445.9,613.9 446.5,613.8 448.3,614.8 448.9,614.8 450.7,614.2 451.3,614.2 453.7,614.6 455.5,614.3 457.9,614.5 460.3,614.3 461.5,614.5 462.1,614.5 463.3,614.2 463.9,614.2 465.1,614.6 465.7,614.6 467.5,614.2 468.1,614.2 469.9,614.6 470.5,614.6 471.7,614.2 472.3,614.2 473.5,614.6 474.1,614.6 475.3,614.2 475.9,614.3 477.1,614.6 477.7,614.6 479.5,614.1 480.1,614.1 481.3,614.8 481.9,614.9 482.5,614.6 483.1,614.1 483.7,613.9 485.5,614.7 486.1,614.6 487.9,614.3 489.7,614.5 490.3,614.5 491.5,614.2 492.1,614.3 493.3,614.6 493.9,614.6 495.1,614.2 495.7,614.2 497.5,614.6 498.1,614.6 499.9,614.1 500.5,614.2 501.7,614.6 502.3,614.6 503.5,614.2 504.1,614.3 505.3,614.6 507.1,614.2 507.7,614.2 508.3,614.3 509.5,614.8 510.1,614.7 511.3,614.0 511.9,613.9 513.1,614.6 513.7,614.8 515.5,614.2 517.9,614.5 519.1,614.4" fill="none" stroke="#200a0a" stroke-width="0.58"/>
<text x="514.1" y="611.9" font-size="3.1" font-weight="bold" fill="#5656a8" text-anchor="end">-0.43</text>
<path d="M527.4,606.3H654.1" stroke="#b4b4b4" stroke-width="0.7"/>
<path d="M654.1,606.3V623.3M527.4,623.3H654.1" fill="none" stroke="#a0a0a0" stroke-width="0.8"/>
<path d="M527.4,606.3V623.3" stroke="#d8d8d8" stroke-width="1"/>
<path d="M527.4,608.4h1M527.4,614.4h1M527.4,620.4h1M654.1,608.4h-1M654.1,620.4h-1" stroke="#999" stroke-width="0.45"/>
<text x="528.9" y="622.7" font-size="2.4" fill="#888">x10⁻⁷</text>
<polyline points="527.9,614.4 550.1,614.4 551.9,614.3 553.7,614.6 554.3,614.5 555.5,614.1 556.1,614.2 557.3,614.8 557.9,614.8 559.1,614.0 559.7,613.9 560.3,614.2 560.9,614.7 561.5,615.0 562.1,614.8 563.3,613.9 563.9,613.9 565.1,614.8 565.7,615.0 566.3,614.7 566.9,614.1 567.5,613.8 568.1,614.0 569.3,614.9 569.9,614.9 571.1,614.0 571.7,613.8 572.3,614.2 572.9,614.7 573.5,614.9 574.1,614.8 575.3,614.0 575.9,614.0 577.1,614.7 577.7,614.7 578.9,614.3 579.5,614.2 581.3,614.5 583.1,614.3 584.9,614.5 587.3,614.3 589.1,614.6 589.7,614.6 590.9,614.2 591.5,614.3 592.7,614.6 594.5,614.2 596.3,614.6 596.9,614.6 598.7,614.2 599.3,614.2 600.5,614.6 601.1,614.7 602.9,614.2 604.7,614.5 607.1,614.3 608.9,614.5 610.7,614.3 611.3,614.3 612.5,614.6 613.1,614.6 614.3,614.3 614.9,614.2 617.3,614.6 619.1,614.2 619.7,614.2 620.9,614.6 621.5,614.5 622.7,614.2 624.5,614.6 626.9,614.2 627.5,614.3 628.7,614.6 629.3,614.6 630.5,614.2 631.1,614.1 632.3,614.5 632.9,614.6 634.7,614.3 637.1,614.5 638.9,614.3 640.7,614.5 641.3,614.5 642.5,614.2 643.1,614.2 644.9,614.6 647.3,614.2 649.1,614.6 650.9,614.3 652.7,614.5 653.3,614.4" fill="none" stroke="#c87878" stroke-width="0.5"/>
<polyline points="527.9,614.4 547.7,614.4 550.1,614.5 551.9,614.2 553.7,614.7 554.3,614.6 555.5,613.9 556.1,613.9 557.3,615.0 557.9,615.1 558.5,614.6 559.1,613.9 559.7,613.5 560.3,613.9 560.9,614.7 561.5,615.3 562.1,615.2 563.3,613.6 563.9,613.5 564.5,614.1 565.1,615.0 565.7,615.4 566.3,615.0 566.9,614.1 567.5,613.4 568.1,613.6 569.3,615.2 569.9,615.3 570.5,614.7 571.1,613.8 571.7,613.4 572.3,613.9 572.9,614.7 573.5,615.3 574.1,615.1 575.3,613.8 575.9,613.7 577.1,614.8 577.7,614.9 578.9,614.3 579.5,614.1 581.3,614.6 583.1,614.3 584.9,614.5 587.3,614.3 589.1,614.6 589.7,614.6 590.9,614.2 591.5,614.3 592.7,614.6 594.5,614.2 596.3,614.6 596.9,614.6 598.7,614.2 599.3,614.2 600.5,614.6 601.1,614.7 602.9,614.2 604.7,614.5 607.1,614.3 608.9,614.5 610.7,614.3 611.3,614.3 612.5,614.6 613.1,614.6 614.3,614.3 614.9,614.2 617.3,614.6 619.1,614.2 619.7,614.2 620.9,614.6 621.5,614.5 622.7,614.2 624.5,614.6 626.9,614.2 627.5,614.3 628.7,614.6 629.3,614.6 630.5,614.2 631.1,614.1 632.3,614.5 632.9,614.6 634.7,614.3 637.1,614.5 638.9,614.3 640.7,614.5 641.3,614.5 642.5,614.2 643.1,614.2 644.9,614.6 647.3,614.2 649.1,614.6 650.9,614.3 652.7,614.5 653.3,614.4" fill="none" stroke="#6e6464" stroke-width="0.55"/>
<text x="648.1" y="611.9" font-size="3.1" font-weight="bold" fill="#5656a8" text-anchor="end">-2.40</text>
<text x="244" y="632.9" font-size="3.6" font-weight="bold" fill="#444" text-anchor="middle">KPRO</text>
<path d="M259.6,625.9H387.4" stroke="#b4b4b4" stroke-width="0.7"/>
<path d="M387.4,625.9V642.4M259.6,642.4H387.4" fill="none" stroke="#a0a0a0" stroke-width="0.8"/>
<path d="M259.6,625.9V642.4" stroke="#d8d8d8" stroke-width="1"/>
<path d="M259.6,628.3h1M259.6,634.3h1M259.6,640.3h1M387.4,628.3h-1M387.4,640.3h-1" stroke="#999" stroke-width="0.45"/>
<text x="258.4" y="629.4" font-size="3.1" fill="#555" text-anchor="end">2</text>
<text x="258.4" y="635.4" font-size="3.1" fill="#555" text-anchor="end">0</text>
<text x="258.4" y="641.4" font-size="3.1" fill="#555" text-anchor="end">-2</text>
<text x="261.1" y="641.8" font-size="2.4" fill="#888">x10⁻⁷</text>
<polyline points="260.1,634.3 296.1,634.3 297.3,634.4 298.5,634.7 299.1,634.6 299.7,634.1 300.3,633.2 300.9,632.5 301.5,632.8 302.1,634.2 302.7,636.3 303.3,638.0 303.9,637.9 304.5,635.8 305.7,629.8 306.3,629.1 306.9,631.1 308.1,638.3 308.7,639.9 309.3,638.8 310.5,631.6 311.1,629.1 311.7,629.0 312.3,631.6 313.5,638.6 314.1,639.6 314.7,638.0 315.9,631.6 316.5,630.2 317.1,631.0 318.3,635.4 318.9,636.4 319.5,635.9 320.7,633.8 321.3,633.5 323.1,634.8 323.7,634.8 325.5,634.0 326.1,633.9 326.7,633.8 327.3,634.0 328.5,634.6 329.1,634.7 329.7,634.6 330.9,634.1 331.5,634.0 332.1,634.1 333.3,634.5 333.9,634.5 335.7,634.1 336.3,634.1 338.1,634.4 339.3,634.6 339.9,634.5 341.7,633.9 342.3,633.9 342.9,634.0 344.1,634.7 344.7,634.8 345.3,634.7 346.5,634.1 347.1,633.9 347.7,633.9 349.5,634.5 350.7,634.5 352.5,634.1 353.1,634.1 353.7,634.2 354.9,634.7 355.5,634.7 356.1,634.5 357.3,633.7 357.9,633.6 358.5,633.9 359.7,634.9 360.3,635.1 360.9,634.9 362.1,634.0 362.7,633.7 363.3,633.7 363.9,633.9 365.7,634.7 366.3,634.8 366.9,634.7 368.1,634.1 368.7,633.9 369.3,634.0 370.5,634.5 371.1,634.6 371.7,634.5 372.9,634.1 373.5,634.1 375.3,634.5 375.9,634.5 378.9,634.0 379.5,634.0 380.1,634.2 381.3,634.6 381.9,634.7 382.5,634.6 383.7,634.0 384.3,633.9 384.9,633.9 386.1,634.4 386.7,634.5" fill="none" stroke="#c85858" stroke-width="0.45"/>
<polyline points="296.4,634.3 297,634.3 298.8,634.8 299.4,634.5 300,633.8 300.6,632.8 301.2,632.3 301.8,632.9 303,637.1 303.6,638.5 304.2,637.7 304.8,635.0 305.4,631.4 306,629.0 306.6,629.2 307.2,631.9 308.4,639.2 309,640.1 309.6,638.2 310.8,630.5 311.4,628.5 312,629.3 312.6,632.5 313.2,636.6 313.8,639.4 314.4,639.6 315,637.3 315.6,633.7 316.2,630.9 316.8,630.1 317.4,631.5 318,633.9 318.6,635.8 319.2,636.3 319.8,635.5 320.4,634.3 321,633.6 321.6,633.6 322.8,634.7 323.4,634.9 324,634.8 325.8,633.9 326.4,633.7 327,633.8 328.8,634.8 329.4,634.8 331.2,634.0 331.8,634.0 333.6,634.6 334.2,634.5 335.4,634.1 336,634.0 336.6,634.1 339,634.6 340.2,634.5 342,633.8 342.6,633.9 344.4,634.9 345,634.9 345.6,634.6 346.8,633.9 347.4,633.8 348,633.9 349.2,634.5 349.8,634.6 350.4,634.6 352.8,634.0 353.4,634.1 355.2,634.8 355.8,634.7 357,633.8 357.6,633.5 358.2,633.6 359.4,634.8 360,635.2 360.6,635.1 362.4,633.8 363,633.6 363.6,633.7 365.4,634.7 366,634.9 366.6,634.8 368.4,633.9 369,633.8 370.8,634.6 371.4,634.6 373.2,634.0 373.8,634.1 375.6,634.6 376.2,634.6 378.6,634.0 379.2,634.0 379.8,634.1 381.6,634.8 382.2,634.8 384,633.9 384.6,633.8 386.4,634.5" fill="none" stroke="#200a0a" stroke-width="0.58"/>
<text x="381.4" y="631.5" font-size="3.1" font-weight="bold" fill="#5656a8" text-anchor="end">0.78</text>
<path d="M393.6,625.9H520.1" stroke="#b4b4b4" stroke-width="0.7"/>
<path d="M520.1,625.9V642.4M393.6,642.4H520.1" fill="none" stroke="#a0a0a0" stroke-width="0.8"/>
<path d="M393.6,625.9V642.4" stroke="#d8d8d8" stroke-width="1"/>
<path d="M393.6,628.3h1M393.6,634.3h1M393.6,640.3h1M520.1,628.3h-1M520.1,640.3h-1" stroke="#999" stroke-width="0.45"/>
<text x="395.1" y="641.8" font-size="2.4" fill="#888">x10⁻⁷</text>
<polyline points="394.1,634.3 428.9,634.3 430.1,634.3 431.3,634.6 431.9,634.6 432.5,634.2 433.7,632.4 434.3,632.2 434.9,633.3 436.1,638.3 436.7,639.6 437.3,638.3 438.5,630.1 439.1,627.1 439.7,627.4 440.3,631.0 441.5,640.7 442.1,642.3 442.7,640.3 443.9,630.2 444.5,626.8 445.1,626.7 445.7,630.1 446.9,640.0 447.5,641.9 448.1,640.3 449.3,631.8 449.9,629.2 450.5,629.3 451.7,634.1 452.3,635.8 452.9,636.1 454.1,634.9 454.7,634.7 455.3,634.8 455.9,634.8 457.7,633.5 458.3,633.5 458.9,633.7 460.1,634.5 460.7,634.8 461.3,634.9 461.9,634.8 463.7,633.9 464.3,633.8 464.9,633.9 466.1,634.6 466.7,634.8 467.3,634.6 468.5,633.9 469.1,633.8 469.7,634.0 470.9,634.8 471.5,635.0 472.1,634.8 473.9,633.7 474.5,633.5 475.1,633.6 475.7,633.9 476.9,635.0 477.5,635.5 478.1,635.4 478.7,634.9 479.9,633.2 480.5,632.9 481.1,633.2 482.3,635.0 482.9,635.4 483.5,635.2 484.7,634.1 485.3,633.7 485.9,633.8 487.7,634.6 488.3,634.8 488.9,634.7 489.5,634.5 490.7,633.6 491.3,633.4 491.9,633.6 493.1,635.1 493.7,635.6 494.3,635.4 495.5,633.9 496.1,633.3 496.7,633.2 497.3,633.6 498.5,634.7 499.1,634.9 499.7,634.8 501.5,634.2 502.1,634.1 502.7,634.1 505.1,634.4 507.5,634.3 519.5,634.3" fill="none" stroke="#c85858" stroke-width="0.45"/>
<polyline points="429.9,634.3 431.7,634.7 432.3,634.6 432.9,633.8 433.5,632.7 434.1,631.9 434.7,632.3 435.3,634.2 436.5,639.6 437.1,639.7 437.7,637.0 438.9,628.1 439.5,626.4 440.1,628.3 441.3,638.7 441.9,642.3 442.5,642.3 443.1,638.6 444.3,628.0 444.9,625.8 445.5,627.5 446.7,637.8 447.3,641.5 447.9,641.9 448.5,638.8 449.7,630.2 450.3,628.8 450.9,630.0 452.1,634.9 452.7,635.9 453.3,635.8 453.9,635.3 454.5,635.0 455.7,635.0 456.3,634.7 457.5,633.5 458.1,633.3 458.7,633.5 460.5,634.8 461.1,635.0 461.7,635.0 462.3,634.7 463.5,633.9 464.1,633.7 464.7,633.8 465.9,634.6 466.5,634.8 467.1,634.7 468.3,633.9 468.9,633.7 469.5,633.8 470.7,634.8 471.3,635.0 471.9,635.0 472.5,634.7 473.7,633.7 474.3,633.4 474.9,633.4 475.5,633.7 477.3,635.5 477.9,635.7 478.5,635.3 479.7,633.3 480.3,632.7 480.9,632.8 482.1,634.8 482.7,635.5 483.3,635.5 485.1,633.7 485.7,633.6 486.3,633.8 487.5,634.6 488.1,634.8 488.7,634.8 489.3,634.6 490.5,633.6 491.1,633.3 491.7,633.4 492.3,634.0 492.9,635.0 493.5,635.7 494.1,635.8 494.7,635.1 495.9,633.3 496.5,633.0 497.1,633.3 498.3,634.6 498.9,634.9 499.5,634.9 501.3,634.3 502.5,634.0 504.9,634.4 507.3,634.3 519.3,634.3" fill="none" stroke="#200a0a" stroke-width="0.58"/>
<text x="514.1" y="631.5" font-size="3.1" font-weight="bold" fill="#5656a8" text-anchor="end">0.88</text>
<path d="M527.4,625.9H654.1" stroke="#b4b4b4" stroke-width="0.7"/>
<path d="M654.1,625.9V642.4M527.4,642.4H654.1" fill="none" stroke="#a0a0a0" stroke-width="0.8"/>
<path d="M527.4,625.9V642.4" stroke="#d8d8d8" stroke-width="1"/>
<path d="M527.4,628.3h1M527.4,634.3h1M527.4,640.3h1M654.1,628.3h-1M654.1,640.3h-1" stroke="#999" stroke-width="0.45"/>
<text x="528.9" y="641.8" font-size="2.4" fill="#888">x10⁻⁷</text>
<polyline points="527.9,634.3 565.1,634.3 568.1,634.5 568.7,634.3 569.9,633.4 570.5,633.4 571.1,634.0 572.3,636.2 572.9,636.4 573.5,635.5 574.7,632.0 575.3,631.4 575.9,632.1 577.1,636.1 577.7,637.3 578.3,637.1 578.9,635.5 579.5,633.3 580.1,631.6 580.7,631.2 581.3,632.3 582.5,636.4 583.1,637.3 583.7,636.8 584.9,633.1 585.5,632.0 586.1,632.1 587.3,634.6 587.9,635.4 588.5,635.4 589.7,634.3 590.3,634.0 590.9,634.0 592.7,634.5 593.3,634.5 595.1,634.1 595.7,634.0 596.3,634.1 597.5,634.6 598.1,634.6 599.9,634.1 600.5,634.0 602.9,634.5 604.1,634.4 605.9,634.1 606.5,634.2 608.3,634.5 608.9,634.4 610.1,634.1 610.7,634.1 612.5,634.6 613.1,634.6 614.9,633.9 615.5,633.9 617.9,634.7 618.5,634.8 619.1,634.6 620.3,633.9 620.9,633.7 621.5,633.9 622.7,634.7 623.3,634.7 625.1,634.1 625.7,634.1 627.5,634.4 630.5,634.1 631.1,634.2 632.9,634.6 633.5,634.6 635.3,634.0 635.9,634.0 637.7,634.6 638.3,634.5 640.7,634.1 643.7,634.5 645.5,634.1 646.1,634.1 647.9,634.5 648.5,634.4 649.7,634.0 650.3,634.0 652.1,634.5 653.3,634.5" fill="none" stroke="#c85858" stroke-width="0.45"/>
<polyline points="565.7,634.3 568.1,634.5 568.7,634.4 569.9,633.4 570.5,633.2 571.1,633.7 572.3,636.1 572.9,636.6 573.5,636.0 574.7,632.3 575.3,631.2 575.9,631.6 576.5,633.4 577.1,635.7 577.7,637.3 578.3,637.5 578.9,636.1 580.1,631.8 580.7,631.0 581.3,631.7 582.5,636.0 583.1,637.4 583.7,637.2 584.3,635.6 584.9,633.6 585.5,632.1 586.1,631.9 586.7,632.9 587.3,634.3 587.9,635.3 588.5,635.5 589.1,635.1 589.7,634.4 590.3,634.0 590.9,634.0 592.1,634.4 593.3,634.5 595.1,634.0 595.7,634.0 596.3,634.1 597.5,634.6 598.1,634.7 598.7,634.6 599.9,634.0 600.5,634.0 602.9,634.5 604.1,634.4 605.9,634.1 606.5,634.1 608.3,634.5 608.9,634.5 610.1,634.1 610.7,634.0 612.5,634.7 613.1,634.7 614.9,633.9 615.5,633.9 616.1,634.0 617.9,634.8 618.5,634.8 619.1,634.6 620.3,633.8 620.9,633.6 621.5,633.8 622.7,634.7 623.3,634.8 625.1,634.0 625.7,634.0 627.5,634.5 628.1,634.5 630.5,634.1 631.1,634.1 632.9,634.7 633.5,634.6 635.3,633.9 635.9,634.0 637.7,634.6 638.3,634.6 640.7,634.1 641.3,634.1 643.7,634.5 645.5,634.1 646.1,634.1 647.9,634.6 648.5,634.5 649.7,634.0 650.3,634.0 652.1,634.5 653.3,634.5" fill="none" stroke="#200a0a" stroke-width="0.58"/>
<text x="648.1" y="631.5" font-size="3.1" font-weight="bold" fill="#5656a8" text-anchor="end">0.66</text>
<text x="244" y="652" font-size="3.6" font-weight="bold" fill="#444" text-anchor="middle">VLX</text>
<path d="M259.6,645H387.4" stroke="#b4b4b4" stroke-width="0.7"/>
<path d="M387.4,645V661.5M259.6,661.5H387.4" fill="none" stroke="#a0a0a0" stroke-width="0.8"/>
<path d="M259.6,645V661.5" stroke="#d8d8d8" stroke-width="1"/>
<path d="M259.6,647.3h1M259.6,653.3h1M259.6,659.3h1M387.4,647.3h-1M387.4,659.3h-1" stroke="#999" stroke-width="0.45"/>
<text x="258.4" y="648.4" font-size="3.1" fill="#555" text-anchor="end">2</text>
<text x="258.4" y="654.4" font-size="3.1" fill="#555" text-anchor="end">0</text>
<text x="258.4" y="660.4" font-size="3.1" fill="#555" text-anchor="end">-2</text>
<text x="261.1" y="660.9" font-size="2.4" fill="#888">x10⁻⁷</text>
<polyline points="260.1,653.3 295.5,653.3 298.5,653.4 300.9,653.0 301.5,653.0 303.3,653.6 303.9,653.7 304.5,653.6 306.3,653.1 307.5,653.0 309.3,653.2 311.1,653.2 311.7,653.4 313.5,654.2 314.1,654.2 314.7,654.0 316.5,652.2 317.1,651.9 317.7,651.9 318.3,652.2 320.1,654.2 320.7,654.7 321.3,654.9 321.9,654.7 322.5,654.3 324.3,652.2 324.9,651.8 325.5,651.7 326.1,652.1 327.9,654.1 328.5,654.6 329.1,654.8 329.7,654.6 330.3,654.1 331.5,652.8 332.1,652.3 332.7,652.2 333.3,652.4 335.1,653.9 335.7,654.2 336.3,654.2 336.9,654.0 338.7,652.7 339.3,652.4 339.9,652.3 340.5,652.4 341.1,652.7 342.9,654.2 343.5,654.4 344.1,654.3 344.7,653.9 345.9,652.7 346.5,652.3 347.1,652.2 347.7,652.5 349.5,654.3 350.1,654.6 350.7,654.5 351.3,654.1 353.1,652.3 353.7,652.0 354.3,652.0 354.9,652.3 357.3,654.0 357.9,654.3 358.5,654.4 359.1,654.3 359.7,654.1 362.1,652.4 362.7,652.2 363.3,652.2 363.9,652.4 365.7,653.8 366.3,654.2 366.9,654.3 367.5,654.2 369.3,653.0 369.9,652.7 370.5,652.6 371.1,652.7 372.9,653.5 374.1,653.7 374.7,653.6 377.7,652.9 378.9,652.9 380.1,653.3 381.9,654.1 382.5,654.2 383.1,654.0 383.7,653.7 384.9,652.7 385.5,652.3 386.1,652.2 386.7,652.4" fill="none" stroke="#c87878" stroke-width="0.5"/>
<polyline points="260.1,653.3 293.1,653.3 296.1,653.2 298.5,653.8 299.1,653.6 300.9,652.3 301.5,652.3 302.1,652.7 303.3,654.1 303.9,654.5 304.5,654.5 305.1,654.0 306.3,652.8 306.9,652.4 307.5,652.3 309.3,652.8 310.5,652.7 311.1,652.8 311.7,653.3 313.5,656.4 314.1,656.7 314.7,656.0 315.3,654.4 316.5,650.3 317.1,648.8 317.7,648.3 318.3,649.0 318.9,650.8 320.1,655.5 320.7,657.5 321.3,658.5 321.9,658.4 322.5,657.1 324.3,650.1 324.9,648.5 325.5,648.0 326.1,648.7 326.7,650.4 327.9,655.2 328.5,657.1 329.1,658.1 329.7,658.0 330.3,656.8 332.1,650.9 332.7,649.9 333.3,649.9 333.9,650.7 335.1,653.4 335.7,654.5 336.3,655.1 336.9,655.1 337.5,654.5 338.7,653.0 339.3,652.4 339.9,652.1 340.5,652.2 341.1,652.5 342.9,654.2 343.5,654.4 344.1,654.3 344.7,653.9 345.9,652.7 346.5,652.3 347.1,652.2 347.7,652.5 349.5,654.3 350.1,654.6 350.7,654.5 351.3,654.1 353.1,652.3 353.7,652.0 354.3,652.0 354.9,652.3 357.3,654.0 357.9,654.3 358.5,654.4 359.1,654.3 359.7,654.1 362.1,652.4 362.7,652.2 363.3,652.2 363.9,652.4 365.7,653.8 366.3,654.2 366.9,654.3 367.5,654.2 369.3,653.0 369.9,652.7 370.5,652.6 371.1,652.7 372.9,653.5 374.1,653.7 374.7,653.6 377.7,652.9 378.9,652.9 380.1,653.3 381.9,654.1 382.5,654.2 383.1,654.0 383.7,653.7 384.9,652.7 385.5,652.3 386.1,652.2 386.7,652.4" fill="none" stroke="#6e6464" stroke-width="0.55"/>
<text x="381.4" y="650.6" font-size="3.1" font-weight="bold" fill="#5656a8" text-anchor="end">-0.33</text>
<path d="M393.6,645H520.1" stroke="#b4b4b4" stroke-width="0.7"/>
<path d="M520.1,645V661.5M393.6,661.5H520.1" fill="none" stroke="#a0a0a0" stroke-width="0.8"/>
<path d="M393.6,645V661.5" stroke="#d8d8d8" stroke-width="1"/>
<path d="M393.6,647.3h1M393.6,653.3h1M393.6,659.3h1M520.1,647.3h-1M520.1,659.3h-1" stroke="#999" stroke-width="0.45"/>
<text x="395.1" y="660.9" font-size="2.4" fill="#888">x10⁻⁷</text>
<polyline points="394.1,653.3 412.1,653.3 415.1,653.2 417.5,653.6 418.1,653.6 420.5,652.9 421.1,653.0 422.9,653.6 423.5,653.7 424.1,653.6 425.9,653.0 426.5,652.9 427.1,653.0 428.9,653.6 429.5,653.7 430.1,653.6 431.9,653.1 432.5,653.1 434.3,653.4 434.9,653.4 436.7,652.9 437.3,652.9 437.9,653.0 438.5,653.3 439.7,654.0 440.3,654.3 440.9,654.3 441.5,654.1 442.1,653.6 443.3,652.4 443.9,652.0 444.5,651.8 445.1,652.0 445.7,652.5 447.5,654.5 448.1,654.9 448.7,654.8 449.3,654.5 451.1,652.4 451.7,651.9 452.3,651.7 452.9,651.9 453.5,652.4 455.3,654.4 455.9,654.8 456.5,654.8 457.1,654.4 458.9,652.7 459.5,652.3 460.1,652.2 460.7,652.3 462.5,653.5 463.1,653.8 463.7,653.8 464.3,653.7 466.1,653.1 466.7,653.1 467.3,653.2 469.1,653.8 469.7,653.8 470.3,653.5 471.5,652.7 472.1,652.5 472.7,652.6 474.5,653.9 475.1,654.0 475.7,653.9 477.5,653.0 478.1,652.9 479.3,653.0 481.1,653.5 481.7,653.6 482.3,653.6 484.1,653.0 484.7,653.0 486.5,653.6 487.1,653.7 489.5,652.9 490.1,652.9 491.9,653.5 493.1,653.6 495.5,653.1 496.7,653.0 497.3,653.0 499.1,653.7 499.7,653.7 500.3,653.6 502.1,652.9 502.7,653.0 504.5,653.5 505.1,653.6 507.5,653.1 508.7,653.2 511.1,653.7 511.7,653.6 512.3,653.4 513.5,652.8 514.1,652.6 514.7,652.7 516.5,653.9 517.1,654.0 517.7,653.8 518.9,653.2 519.5,653.0" fill="none" stroke="#c87878" stroke-width="0.5"/>
<polyline points="394.1,653.3 409.7,653.3 412.1,653.4 413.3,653.3 415.1,653.0 415.7,653.1 417.5,654.0 418.1,654.0 418.7,653.7 419.9,652.7 420.5,652.4 421.1,652.4 421.7,652.8 422.9,653.9 423.5,654.3 424.1,654.2 424.7,653.8 425.9,652.7 426.5,652.3 427.1,652.4 427.7,652.8 428.9,653.9 429.5,654.2 430.1,654.1 431.9,652.9 432.5,652.7 433.1,652.9 434.3,653.5 434.9,653.5 435.5,653.3 436.7,652.4 437.3,652.2 437.9,652.4 438.5,653.0 439.7,654.9 440.3,655.7 440.9,656.0 441.5,655.6 442.1,654.6 443.3,651.5 443.9,650.2 444.5,649.6 445.1,649.8 445.7,650.8 447.5,656.0 448.1,657.0 448.7,657.3 449.3,656.6 449.9,655.2 451.1,651.5 451.7,650.1 452.3,649.4 452.9,649.5 453.5,650.5 455.3,655.7 455.9,656.7 456.5,657.0 457.1,656.5 457.7,655.2 458.9,652.1 459.5,651.0 460.1,650.6 460.7,650.8 461.3,651.6 462.5,653.5 463.1,654.2 463.7,654.4 464.3,654.3 466.1,653.2 466.7,653.0 467.3,653.1 469.1,653.8 469.7,653.8 470.3,653.5 471.5,652.7 472.1,652.5 472.7,652.6 474.5,653.9 475.1,654.0 475.7,653.9 477.5,653.0 478.1,652.9 479.3,653.0 481.1,653.5 481.7,653.6 482.3,653.6 484.1,653.0 484.7,653.0 486.5,653.6 487.1,653.7 489.5,652.9 490.1,652.9 491.9,653.5 493.1,653.6 495.5,653.1 496.7,653.0 497.3,653.0 499.1,653.7 499.7,653.7 500.3,653.6 502.1,652.9 502.7,653.0 504.5,653.5 505.1,653.6 507.5,653.1 508.7,653.2 511.1,653.7 511.7,653.6 512.3,653.4 513.5,652.8 514.1,652.6 514.7,652.7 516.5,653.9 517.1,654.0 517.7,653.8 518.9,653.2 519.5,653.0" fill="none" stroke="#6e6464" stroke-width="0.55"/>
<text x="514.1" y="650.6" font-size="3.1" font-weight="bold" fill="#5656a8" text-anchor="end">-0.18</text>
<path d="M527.4,645H654.1" stroke="#b4b4b4" stroke-width="0.7"/>
<path d="M654.1,645V661.5M527.4,661.5H654.1" fill="none" stroke="#a0a0a0" stroke-width="0.8"/>
<path d="M527.4,645V661.5" stroke="#d8d8d8" stroke-width="1"/>
<path d="M527.4,647.3h1M527.4,653.3h1M527.4,659.3h1M654.1,647.3h-1M654.1,659.3h-1" stroke="#999" stroke-width="0.45"/>
<text x="528.9" y="660.9" font-size="2.4" fill="#888">x10⁻⁷</text>
<polyline points="527.9,653.3 549.5,653.3 551.9,653.5 554.3,653.0 554.9,653.0 556.7,653.6 557.3,653.7 557.9,653.7 559.7,653.0 560.3,652.9 560.9,653.0 562.7,653.6 563.3,653.6 565.7,653.1 566.3,653.2 567.5,653.6 568.1,653.7 568.7,653.6 569.3,653.2 570.5,652.2 571.1,652.0 571.7,652.4 573.5,655.4 574.1,655.7 574.7,655.0 576.5,650.7 577.1,650.3 577.7,650.9 579.5,655.8 580.1,656.5 580.7,656.0 581.3,654.6 582.5,651.1 583.1,650.2 583.7,650.4 584.3,651.6 585.5,655.1 586.1,656.2 586.7,656.2 587.3,655.3 588.5,652.1 589.1,651.1 589.7,650.9 590.3,651.6 591.5,653.8 592.1,654.5 592.7,654.7 593.3,654.4 594.5,653.3 595.1,652.9 595.7,652.7 596.3,652.8 598.7,653.6 599.9,653.7 601.1,653.4 602.3,652.8 602.9,652.6 603.5,652.7 604.1,653.0 605.3,653.9 605.9,654.1 606.5,654.0 608.3,652.8 608.9,652.7 609.5,652.8 611.3,653.5 611.9,653.6 615.5,653.1 617.9,653.5 618.5,653.5 620.3,653.0 620.9,653.0 621.5,653.1 623.3,653.7 623.9,653.7 625.7,653.1 626.9,652.9 627.5,653.0 629.9,653.7 630.5,653.7 631.1,653.6 632.9,652.9 633.5,652.8 634.1,652.9 635.3,653.6 635.9,653.7 636.5,653.7 638.3,652.9 638.9,652.9 640.7,653.6 641.3,653.7 641.9,653.6 644.3,652.9 644.9,652.8 645.5,652.9 647.3,653.8 647.9,654.0 648.5,653.9 650.3,652.8 650.9,652.7 651.5,652.8 652.7,653.4 653.3,653.5" fill="none" stroke="#c87878" stroke-width="0.5"/>
<polyline points="527.9,653.3 549.5,653.2 551.9,653.7 552.5,653.6 554.3,652.5 554.9,652.5 555.5,652.8 556.7,653.9 557.3,654.3 557.9,654.2 558.5,653.9 559.7,652.7 560.3,652.3 560.9,652.4 561.5,652.7 562.7,653.9 563.3,654.1 563.9,654.0 565.1,653.1 565.7,652.9 566.3,653.0 567.5,654.0 568.1,654.4 568.7,654.2 569.3,653.3 570.5,650.6 571.1,649.9 571.7,650.6 572.3,652.7 573.5,658.2 574.1,659.3 574.7,658.3 575.3,655.2 576.5,647.5 577.1,645.8 577.7,646.7 578.3,650.1 579.5,658.8 580.1,661.0 580.7,660.6 581.3,657.6 582.5,648.7 583.1,645.9 583.7,645.6 584.3,648.1 585.5,656.8 586.1,660.0 586.7,660.8 587.3,659.0 588.5,651.2 589.1,648.2 589.7,647.3 590.3,648.5 591.5,654.0 592.1,656.0 592.7,656.7 593.3,656.1 594.5,653.4 595.1,652.4 595.7,652.1 596.3,652.3 597.5,653.2 598.1,653.5 598.7,653.7 599.3,653.8 600.5,653.6 602.3,652.8 602.9,652.6 603.5,652.7 604.1,653.0 605.3,653.9 605.9,654.1 606.5,654.0 608.3,652.8 608.9,652.7 609.5,652.8 611.3,653.5 611.9,653.6 615.5,653.1 617.9,653.5 618.5,653.5 620.3,653.0 620.9,653.0 621.5,653.1 623.3,653.7 623.9,653.7 625.7,653.1 626.9,652.9 627.5,653.0 629.9,653.7 630.5,653.7 631.1,653.6 632.9,652.9 633.5,652.8 634.1,652.9 635.3,653.6 635.9,653.7 636.5,653.7 638.3,652.9 638.9,652.9 640.7,653.6 641.3,653.7 641.9,653.6 644.3,652.9 644.9,652.8 645.5,652.9 647.3,653.8 647.9,654.0 648.5,653.9 650.3,652.8 650.9,652.7 651.5,652.8 652.7,653.4 653.3,653.5" fill="none" stroke="#6e6464" stroke-width="0.55"/>
<text x="648.1" y="650.6" font-size="3.1" font-weight="bold" fill="#5656a8" text-anchor="end">-0.69</text>
<text x="244" y="670.5" font-size="3.6" font-weight="bold" fill="#444" text-anchor="middle">VLY</text>
<path d="M259.6,664H387.4" stroke="#b4b4b4" stroke-width="0.7"/>
<path d="M387.4,664V680.6M259.6,680.6H387.4" fill="none" stroke="#a0a0a0" stroke-width="0.8"/>
<path d="M259.6,664V680.6" stroke="#d8d8d8" stroke-width="1"/>
<path d="M259.6,665.7h1M259.6,671.7h1M259.6,677.7h1M387.4,665.7h-1M387.4,677.7h-1" stroke="#999" stroke-width="0.45"/>
<text x="258.4" y="666.8" font-size="3.1" fill="#555" text-anchor="end">2</text>
<text x="258.4" y="672.8" font-size="3.1" fill="#555" text-anchor="end">0</text>
<text x="258.4" y="678.8" font-size="3.1" fill="#555" text-anchor="end">-2</text>
<text x="261.1" y="680" font-size="2.4" fill="#888">x10⁻⁷</text>
<polyline points="260.1,671.7 264.9,671.7 269.1,671.8 270.3,671.7 272.1,671.4 273.3,671.3 273.9,671.4 276.3,672.1 276.9,672.2 278.1,672.1 279.9,671.6 281.1,671.4 282.3,671.4 285.9,671.9 287.1,672.0 288.3,671.8 290.1,671.4 291.3,671.3 292.5,671.6 294.3,672.2 294.9,672.3 295.5,672.2 296.1,672.0 297.9,671.1 298.5,670.9 299.1,670.9 299.7,671.0 300.3,671.2 302.1,672.1 303.3,672.5 304.5,672.3 307.5,671.3 308.7,671.0 309.9,671.1 310.5,671.3 312.9,672.4 313.5,672.5 314.1,672.2 314.7,671.6 316.5,669.0 317.1,668.8 317.7,669.4 318.3,670.8 320.1,676.9 320.7,678.0 321.3,677.9 321.9,676.7 322.5,674.5 323.7,668.9 324.3,666.6 324.9,665.1 325.5,664.7 326.1,665.5 326.7,667.4 328.5,675.3 329.1,677.2 329.7,678.1 330.3,677.8 330.9,676.5 332.7,670.6 333.3,669.4 333.9,668.9 334.5,669.1 336.3,671.0 336.9,671.4 338.1,672.0 339.9,672.3 341.1,672.1 343.5,671.3 344.7,671.2 345.9,671.4 347.7,671.9 348.9,672.0 350.7,671.9 354.3,671.4 355.5,671.5 357.3,672.0 358.5,672.1 359.7,671.9 361.5,671.1 362.1,671.0 362.7,671.1 363.3,671.2 365.1,672.2 365.7,672.4 366.3,672.5 366.9,672.5 367.5,672.3 369.9,671.2 371.1,671.0 372.3,671.1 375.3,672.2 376.5,672.4 377.7,672.2 379.5,671.5 380.7,671.2 381.9,671.2 384.3,671.9 385.5,672.0 386.7,671.8" fill="none" stroke="#c85858" stroke-width="0.45"/>
<polyline points="266.5,671.7 269.5,671.8 271.9,671.3 273.1,671.2 274.3,671.5 276.1,672.1 277.3,672.3 278.5,672.0 280.3,671.5 281.5,671.3 282.7,671.4 285.7,671.9 286.9,672.0 288.1,671.9 289.9,671.4 291.1,671.3 292.3,671.5 294.1,672.3 294.7,672.4 295.3,672.4 295.9,672.2 297.7,671.1 298.3,670.9 298.9,670.7 299.5,670.8 300.1,671.0 302.5,672.4 303.1,672.6 303.7,672.6 304.9,672.3 306.7,671.5 307.9,671.1 309.1,670.9 309.7,671.0 310.9,671.4 313.9,673.2 314.5,673.4 315.1,673.3 315.7,672.7 316.3,671.4 318.1,665.9 318.7,665.1 319.3,665.5 319.9,667.3 320.5,670.1 321.7,676.9 322.3,679.4 322.9,680.7 323.5,680.4 324.1,678.7 324.7,675.8 326.5,665.5 327.1,663.4 327.7,662.7 328.3,663.6 328.9,665.8 330.7,675.4 331.3,677.4 331.9,678.2 332.5,677.6 333.1,676.0 334.3,672.2 334.9,670.8 335.5,670.1 336.1,670.0 336.7,670.4 338.5,671.9 339.1,672.2 339.7,672.3 340.3,672.3 341.5,672.1 343.3,671.3 344.5,671.1 345.7,671.3 347.5,671.8 348.7,672.1 350.5,672.0 353.5,671.4 354.7,671.3 355.3,671.4 357.7,672.1 358.3,672.2 358.9,672.1 359.5,672.0 361.3,671.1 361.9,670.9 362.5,670.9 363.1,671.1 365.5,672.5 366.1,672.6 366.7,672.6 367.3,672.5 369.7,671.2 370.9,670.9 372.1,671.0 375.1,672.2 376.3,672.5 377.5,672.3 379.9,671.3 380.5,671.1 381.1,671.0 381.7,671.1 383.5,671.8 384.7,672.0 385.3,672.0 386.5,671.8" fill="none" stroke="#200a0a" stroke-width="0.58"/>
<path d="M283.88,680.6v-1.3M309.44,680.6v-1.3M335,680.6v-1.3M360.56,680.6v-1.3" stroke="#888" stroke-width="0.5"/>
<text x="381.4" y="669.6" font-size="3.1" font-weight="bold" fill="#5656a8" text-anchor="end">-0.34</text>
<path d="M393.6,664H520.1" stroke="#b4b4b4" stroke-width="0.7"/>
<path d="M520.1,664V680.6M393.6,680.6H520.1" fill="none" stroke="#a0a0a0" stroke-width="0.8"/>
<path d="M393.6,664V680.6" stroke="#d8d8d8" stroke-width="1"/>
<path d="M393.6,665.7h1M393.6,671.7h1M393.6,677.7h1M520.1,665.7h-1M520.1,677.7h-1" stroke="#999" stroke-width="0.45"/>
<text x="395.1" y="680" font-size="2.4" fill="#888">x10⁻⁷</text>
<polyline points="394.1,671.7 402.5,671.8 403.7,671.7 405.5,671.3 406.7,671.3 407.9,671.6 409.7,672.2 410.3,672.3 411.5,672.1 413.3,671.5 414.5,671.3 415.7,671.4 418.1,671.9 419.3,671.9 424.1,671.4 425.3,671.6 427.1,672.1 428.3,672.3 429.5,672.0 431.3,671.1 431.9,671.0 432.5,670.9 433.7,671.3 435.5,672.1 436.7,672.4 437.9,672.2 440.3,671.4 441.5,671.3 442.7,671.4 445.7,671.9 446.9,671.8 448.7,671.5 449.3,671.5 450.5,671.7 452.3,672.5 452.9,672.6 453.5,672.5 454.1,672.2 455.9,670.8 456.5,670.4 457.1,670.3 457.7,670.4 458.3,670.7 460.7,673.0 461.3,673.2 461.9,673.3 462.5,673.0 463.1,672.6 464.9,670.8 465.5,670.4 466.1,670.2 466.7,670.3 467.3,670.5 469.7,672.5 470.3,672.8 470.9,673.0 471.5,673.0 472.1,672.8 474.5,671.1 475.1,670.9 475.7,670.7 476.3,670.7 476.9,670.9 479.3,671.9 480.5,672.2 481.7,672.1 484.7,671.6 486.5,671.5 488.3,671.6 490.7,672.0 491.9,672.0 493.1,671.8 494.9,671.1 495.5,671.1 496.1,671.1 496.7,671.3 498.5,672.2 499.7,672.4 500.9,672.2 502.7,671.4 503.9,671.1 505.1,671.2 508.1,671.9 509.3,672.1 510.5,672.0 514.1,671.4 515.3,671.5 517.7,671.9 519.5,671.8" fill="none" stroke="#c85858" stroke-width="0.45"/>
<polyline points="400.4,671.8 402.8,671.8 405.8,671.2 406.4,671.2 407.6,671.4 409.4,672.2 410,672.4 410.6,672.4 411.2,672.3 413,671.6 414.2,671.2 415.4,671.3 417.8,671.8 419,672.0 420.8,671.8 423.2,671.4 424.4,671.4 425,671.5 427.4,672.3 428,672.4 428.6,672.3 429.2,672.2 431,671.2 431.6,670.9 432.2,670.8 432.8,670.9 433.4,671.1 435.8,672.3 436.4,672.5 437,672.5 438.2,672.2 440,671.5 441.2,671.2 442.4,671.3 444.8,671.9 446,672.0 447.2,671.7 448.4,671.0 449,670.8 449.6,670.8 450.2,671.1 450.8,671.6 452.6,673.5 453.2,673.8 453.8,673.7 454.4,673.2 455,672.3 456.2,670.2 456.8,669.3 457.4,668.8 458,668.8 458.6,669.3 459.2,670.2 461,673.9 461.6,674.6 462.2,674.9 462.8,674.7 463.4,673.9 465.2,670.4 465.8,669.3 466.4,668.7 467,668.6 467.6,668.9 468.2,669.7 470,673.1 470.6,674.0 471.2,674.5 471.8,674.6 472.4,674.2 473,673.5 474.8,670.5 475.4,669.8 476,669.5 476.6,669.6 477.2,669.9 479,671.9 479.6,672.4 480.2,672.7 480.8,672.7 481.4,672.6 483.8,671.7 485,671.5 487.4,671.5 488.6,671.6 490.4,672.0 491.6,672.1 492.8,671.9 494.6,671.1 495.2,671.0 495.8,671.0 496.4,671.1 498.8,672.4 499.4,672.6 500,672.6 500.6,672.4 503,671.2 504.2,671.0 505.4,671.2 507.8,671.9 509,672.1 510.8,672.1 513.2,671.5 514.4,671.3 515.6,671.5 517.4,671.8 519.2,671.9" fill="none" stroke="#200a0a" stroke-width="0.58"/>
<path d="M417.64,680.6v-1.3M442.94,680.6v-1.3M468.24,680.6v-1.3M493.54,680.6v-1.3" stroke="#888" stroke-width="0.5"/>
<text x="514.1" y="669.6" font-size="3.1" font-weight="bold" fill="#5656a8" text-anchor="end">0.19</text>
<path d="M527.4,664H654.1" stroke="#b4b4b4" stroke-width="0.7"/>
<path d="M654.1,664V680.6M527.4,680.6H654.1" fill="none" stroke="#a0a0a0" stroke-width="0.8"/>
<path d="M527.4,664V680.6" stroke="#d8d8d8" stroke-width="1"/>
<path d="M527.4,665.7h1M527.4,671.7h1M527.4,677.7h1M654.1,665.7h-1M654.1,677.7h-1" stroke="#999" stroke-width="0.45"/>
<text x="528.9" y="680" font-size="2.4" fill="#888">x10⁻⁷</text>
<polyline points="527.9,671.7 535.7,671.7 539.9,671.5 541.1,671.6 542.9,672.0 544.1,672.1 547.7,671.4 548.9,671.5 551.3,671.9 556.7,671.5 561.5,672.0 562.7,671.9 564.5,671.5 565.7,671.3 566.9,671.5 568.7,671.9 569.9,672.0 571.1,671.9 574.1,671.5 575.9,671.5 580.1,671.8 584.3,671.5 585.5,671.6 587.3,672.1 588.5,672.2 589.7,671.9 591.5,670.9 592.1,670.7 592.7,670.6 593.3,670.7 593.9,671.0 596.3,672.7 596.9,672.9 597.5,673.0 598.1,672.9 598.7,672.6 601.1,670.8 601.7,670.5 602.3,670.3 602.9,670.4 603.5,670.6 604.1,671.0 605.9,672.6 606.5,672.9 607.1,673.1 607.7,673.0 608.3,672.8 610.1,671.3 610.7,671.0 611.3,670.8 611.9,670.8 612.5,671.0 614.3,671.8 615.5,672.0 619.1,671.6 624.5,671.9 628.7,671.4 629.9,671.5 631.7,671.9 632.9,672.1 634.1,672.0 637.1,671.4 638.3,671.5 641.9,671.9 643.7,671.8 647.3,671.6 651.5,671.8 653.3,671.7" fill="none" stroke="#c85858" stroke-width="0.45"/>
<polyline points="536.8,671.7 539.2,671.5 540.4,671.5 542.8,672.0 544,672.1 545.2,671.9 547,671.4 548.2,671.4 551.2,671.9 552.4,671.9 554.8,671.6 556.6,671.5 557.8,671.6 561.4,672.0 562.6,671.9 564.4,671.4 565.6,671.3 566.8,671.4 569.2,672.0 570.4,672.1 574,671.5 575.8,671.5 578.8,671.8 580.6,671.9 584.8,671.4 586,671.6 587.8,672.4 588.4,672.6 589,672.6 589.6,672.5 590.2,672.2 592,670.7 592.6,670.2 593.2,670.0 593.8,670.1 594.4,670.3 595,670.9 596.8,672.9 597.4,673.4 598,673.6 598.6,673.6 599.2,673.3 599.8,672.8 601.6,670.6 602.2,670.0 602.8,669.7 603.4,669.6 604,669.9 604.6,670.5 606.4,672.8 607,673.3 607.6,673.6 608.2,673.6 608.8,673.2 610.6,671.4 611.2,670.9 611.8,670.7 612.4,670.6 613,670.8 614.8,671.7 616,672.0 619.6,671.6 623.2,671.9 625,671.9 628.6,671.3 629.8,671.4 632.8,672.1 634,672.0 636.4,671.5 637.6,671.4 641.2,671.8 642.4,671.9 647.8,671.5 651.4,671.8 653.2,671.7" fill="none" stroke="#200a0a" stroke-width="0.58"/>
<path d="M551.47,680.6v-1.3M576.81,680.6v-1.3M602.15,680.6v-1.3M627.49,680.6v-1.3" stroke="#888" stroke-width="0.5"/>
<text x="648.1" y="669.6" font-size="3.1" font-weight="bold" fill="#5656a8" text-anchor="end">-0.19</text>
</svg>
</body></html>
